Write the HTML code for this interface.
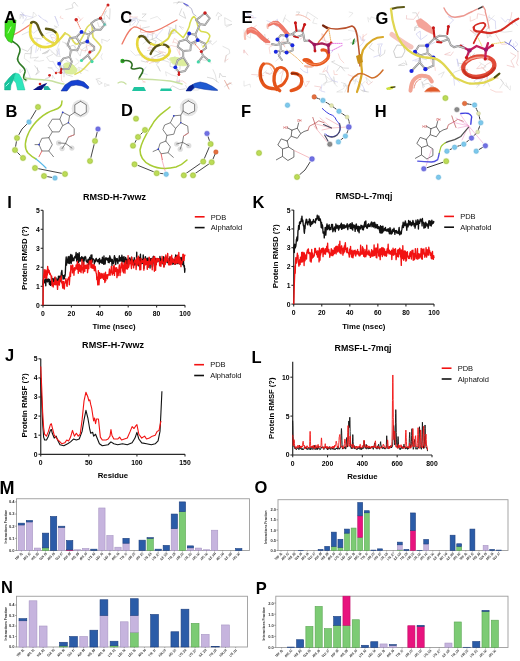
<!DOCTYPE html><html><head><meta charset="utf-8"><style>html,body{margin:0;padding:0;background:#fff;}svg{display:block;filter:blur(0.35px);}text{font-family:"Liberation Sans", sans-serif;}</style></head><body>
<svg width="520" height="661" viewBox="0 0 520 661">
<rect width="520" height="661" fill="#fff"/>
<path d="M45.6,78.5 L49.9,77.1 L43.6,80.4" fill="none" stroke="#c4c4c4" stroke-width="0.6" stroke-linecap="round" stroke-linejoin="round" opacity="0.8"/>
<path d="M40.5,50.5 L40.6,44.8 L37.3,50.9" fill="none" stroke="#c4c4c4" stroke-width="0.6" stroke-linecap="round" stroke-linejoin="round" opacity="0.8"/>
<path d="M35.2,43.7 L31.9,46.0 L31.3,52.8 L30.3,58.1 L38.1,57.2" fill="none" stroke="#c4c4c4" stroke-width="0.6" stroke-linecap="round" stroke-linejoin="round" opacity="0.8"/>
<path d="M56.2,49.9 L60.4,56.5 L56.9,56.2 L51.9,51.3 L46.2,46.4" fill="none" stroke="#cfcfcf" stroke-width="0.6" stroke-linecap="round" stroke-linejoin="round" opacity="0.8"/>
<path d="M22.0,49.0 L27.7,51.4 L31.3,46.6 L30.8,53.8 L25.3,53.5" fill="none" stroke="#b4b4b4" stroke-width="0.6" stroke-linecap="round" stroke-linejoin="round" opacity="0.8"/>
<path d="M57.7,22.4 L54.8,16.0 L57.3,22.6 L58.6,25.7" fill="none" stroke="#c0c0e8" stroke-width="0.6" stroke-linecap="round" stroke-linejoin="round" opacity="0.8"/>
<path d="M62.8,72.3 L58.5,73.1 L64.7,73.3 L63.3,66.3 L62.5,70.3" fill="none" stroke="#c0c0e8" stroke-width="0.6" stroke-linecap="round" stroke-linejoin="round" opacity="0.8"/>
<path d="M52.0,68.4 L55.1,72.7 L59.2,69.6 L56.5,67.9 L53.0,61.2" fill="none" stroke="#c0c0e8" stroke-width="0.6" stroke-linecap="round" stroke-linejoin="round" opacity="0.8"/>
<path d="M61.3,74.0 L61.5,80.8 L63.2,82.0" fill="none" stroke="#f0b4ac" stroke-width="0.6" stroke-linecap="round" stroke-linejoin="round" opacity="0.8"/>
<path d="M23.1,69.8 L20.0,73.0 L20.0,69.4 L20.0,71.2" fill="none" stroke="#c4c4c4" stroke-width="0.6" stroke-linecap="round" stroke-linejoin="round" opacity="0.8"/>
<path d="M33.1,41.5 L29.8,37.8 L28.9,31.6 L22.2,34.7" fill="none" stroke="#c4c4c4" stroke-width="0.6" stroke-linecap="round" stroke-linejoin="round" opacity="0.8"/>
<path d="M51.6,68.7 L47.8,67.6 L52.0,67.5" fill="none" stroke="#cfcfcf" stroke-width="0.6" stroke-linecap="round" stroke-linejoin="round" opacity="0.8"/>
<path d="M32.8,17.1 L33.4,12.0 L36.7,15.5 L31.2,18.5 L25.5,20.2" fill="none" stroke="#cfcfcf" stroke-width="0.6" stroke-linecap="round" stroke-linejoin="round" opacity="0.8"/>
<path d="M62.0,62.9 L57.4,64.4 L60.5,66.9 L59.5,71.4" fill="none" stroke="#cfcfcf" stroke-width="0.6" stroke-linecap="round" stroke-linejoin="round" opacity="0.8"/>
<path d="M35.7,52.4 L36.7,45.5 L37.1,39.5" fill="none" stroke="#c0c0e8" stroke-width="0.6" stroke-linecap="round" stroke-linejoin="round" opacity="0.8"/>
<path d="M65.9,60.3 L70.0,62.8 L70.0,66.4 L63.1,66.1" fill="none" stroke="#b4b4b4" stroke-width="0.6" stroke-linecap="round" stroke-linejoin="round" opacity="0.8"/>
<path d="M34.8,65.8 L39.4,72.1 L35.7,74.7 L37.8,71.7 L37.4,67.8" fill="none" stroke="#b4b4b4" stroke-width="0.6" stroke-linecap="round" stroke-linejoin="round" opacity="0.8"/>
<path d="M39.6,28.2 L33.6,33.2 L29.0,28.7" fill="none" stroke="#c0c0e8" stroke-width="0.6" stroke-linecap="round" stroke-linejoin="round" opacity="0.8"/>
<path d="M46.1,33.6 L49.8,32.2 L56.6,31.7" fill="none" stroke="#cfcfcf" stroke-width="0.6" stroke-linecap="round" stroke-linejoin="round" opacity="0.8"/>
<path d="M38.0,56.9 L33.9,60.6 L39.4,61.2 L43.7,60.4" fill="none" stroke="#cfcfcf" stroke-width="0.6" stroke-linecap="round" stroke-linejoin="round" opacity="0.8"/>
<path d="M57.4,43.0 L60.0,41.3 L57.3,48.8 L56.8,56.0 L51.2,51.7" fill="none" stroke="#cfcfcf" stroke-width="0.6" stroke-linecap="round" stroke-linejoin="round" opacity="0.8"/>
<path d="M51.5,37.4 L56.7,38.3 L52.9,42.1 L55.8,45.1 L51.2,43.2" fill="none" stroke="#f0b4ac" stroke-width="0.6" stroke-linecap="round" stroke-linejoin="round" opacity="0.8"/>
<path d="M59.6,54.4 L58.9,48.4 L57.3,55.1" fill="none" stroke="#c0c0e8" stroke-width="0.6" stroke-linecap="round" stroke-linejoin="round" opacity="0.8"/>
<path d="M32.6,17.3 L25.9,15.6 L20.0,14.4 L23.8,15.3 L21.2,12.0" fill="none" stroke="#c0c0e8" stroke-width="0.6" stroke-linecap="round" stroke-linejoin="round" opacity="0.8"/>
<path d="M27.9,78.6 L24.2,78.4 L23.3,74.1 L25.5,76.5 L27.3,80.0" fill="none" stroke="#c4c4c4" stroke-width="0.6" stroke-linecap="round" stroke-linejoin="round" opacity="0.8"/>
<path d="M46.8,43.6 L53.5,41.6 L50.1,35.2 L53.0,34.1 L56.6,37.3" fill="none" stroke="#c0c0e8" stroke-width="0.6" stroke-linecap="round" stroke-linejoin="round" opacity="0.8"/>
<path d="M24.7,54.0 L24.3,58.4 L29.8,62.3" fill="none" stroke="#cfcfcf" stroke-width="0.6" stroke-linecap="round" stroke-linejoin="round" opacity="0.8"/>
<path d="M52.5,54.5 L46.7,57.2 L49.5,61.3 L52.8,61.7" fill="none" stroke="#c4c4c4" stroke-width="0.6" stroke-linecap="round" stroke-linejoin="round" opacity="0.8"/>
<path d="M30.8,41.0 L34.3,38.0 L41.3,38.9" fill="none" stroke="#b4b4b4" stroke-width="0.6" stroke-linecap="round" stroke-linejoin="round" opacity="0.8"/>
<path d="M23.1,18.5 L23.2,13.8 L26.5,17.5 L22.6,23.7" fill="none" stroke="#c0c0e8" stroke-width="0.6" stroke-linecap="round" stroke-linejoin="round" opacity="0.8"/>
<path d="M40.9,17.7 L38.4,15.3 L42.4,18.7 L47.6,22.1 L45.2,20.0" fill="none" stroke="#c0c0e8" stroke-width="0.6" stroke-linecap="round" stroke-linejoin="round" opacity="0.8"/>
<path d="M60.4,67.1 L57.3,61.4 L58.9,64.1 L66.0,67.2" fill="none" stroke="#c0c0e8" stroke-width="0.6" stroke-linecap="round" stroke-linejoin="round" opacity="0.8"/>
<path d="M52.3,78.3 L52.4,75.0 L54.6,78.7" fill="none" stroke="#cfcfcf" stroke-width="0.6" stroke-linecap="round" stroke-linejoin="round" opacity="0.8"/>
<path d="M47.5,51.0 L42.3,53.7 L47.5,52.6 L49.2,49.8 L44.8,53.6" fill="none" stroke="#b4b4b4" stroke-width="0.6" stroke-linecap="round" stroke-linejoin="round" opacity="0.8"/>
<path d="M51.0,29.5 L56.9,27.5 L54.1,25.8 L57.9,27.1" fill="none" stroke="#cfcfcf" stroke-width="0.6" stroke-linecap="round" stroke-linejoin="round" opacity="0.8"/>
<path d="M26.9,80.9 L24.7,82.0 L22.6,79.5" fill="none" stroke="#c4c4c4" stroke-width="0.6" stroke-linecap="round" stroke-linejoin="round" opacity="0.8"/>
<path d="M23.4,17.6 L20.0,14.4 L20.0,18.7 L23.0,12.7" fill="none" stroke="#cfcfcf" stroke-width="0.6" stroke-linecap="round" stroke-linejoin="round" opacity="0.8"/>
<path d="M26.3,68.4 L29.0,74.0 L30.4,77.9 L24.8,78.2" fill="none" stroke="#c0c0e8" stroke-width="0.6" stroke-linecap="round" stroke-linejoin="round" opacity="0.8"/>
<path d="M66.4,45.9 L70.1,46.6 L73.1,45.1 L78.4,50.8" fill="none" stroke="#b4b4b4" stroke-width="0.6" stroke-linecap="round" stroke-linejoin="round" opacity="0.8"/>
<path d="M91.1,34.5 L88.8,30.7 L93.3,36.0" fill="none" stroke="#b4b4b4" stroke-width="0.6" stroke-linecap="round" stroke-linejoin="round" opacity="0.8"/>
<path d="M93.5,47.1 L86.0,44.7 L87.6,50.2 L82.9,50.7 L79.4,48.4" fill="none" stroke="#f0b4ac" stroke-width="0.6" stroke-linecap="round" stroke-linejoin="round" opacity="0.8"/>
<path d="M100.1,78.3 L95.8,79.2 L102.3,83.0 L98.9,84.6 L97.1,81.0" fill="none" stroke="#c4c4c4" stroke-width="0.6" stroke-linecap="round" stroke-linejoin="round" opacity="0.8"/>
<path d="M105.1,21.1 L106.5,25.6 L99.1,27.1 L97.6,22.6" fill="none" stroke="#c4c4c4" stroke-width="0.6" stroke-linecap="round" stroke-linejoin="round" opacity="0.8"/>
<path d="M60.8,16.1 L60.0,17.7 L63.0,18.7" fill="none" stroke="#f0b4ac" stroke-width="0.6" stroke-linecap="round" stroke-linejoin="round" opacity="0.8"/>
<path d="M102.3,53.7 L100.9,56.9 L102.3,59.6" fill="none" stroke="#cfcfcf" stroke-width="0.6" stroke-linecap="round" stroke-linejoin="round" opacity="0.8"/>
<path d="M102.0,43.0 L101.7,39.1 L107.2,41.3 L109.7,39.4" fill="none" stroke="#c4c4c4" stroke-width="0.6" stroke-linecap="round" stroke-linejoin="round" opacity="0.8"/>
<path d="M100.3,18.7 L104.7,19.2 L103.9,13.8 L106.4,10.6 L104.7,14.5" fill="none" stroke="#c4c4c4" stroke-width="0.6" stroke-linecap="round" stroke-linejoin="round" opacity="0.8"/>
<path d="M108.9,84.8 L104.7,86.6 L104.6,83.4 L109.2,85.5" fill="none" stroke="#cfcfcf" stroke-width="0.6" stroke-linecap="round" stroke-linejoin="round" opacity="0.8"/>
<path d="M72.3,76.4 L66.2,74.6 L63.8,68.1" fill="none" stroke="#b4b4b4" stroke-width="0.6" stroke-linecap="round" stroke-linejoin="round" opacity="0.8"/>
<path d="M106.4,15.2 L109.6,19.3 L110.0,12.0 L110.0,8.8" fill="none" stroke="#b4b4b4" stroke-width="0.6" stroke-linecap="round" stroke-linejoin="round" opacity="0.8"/>
<path d="M78.0,16.3 L80.6,19.7 L78.5,22.3 L82.8,17.8" fill="none" stroke="#f0b4ac" stroke-width="0.6" stroke-linecap="round" stroke-linejoin="round" opacity="0.8"/>
<path d="M68.0,45.8 L64.8,43.2 L68.3,44.0 L62.5,41.9" fill="none" stroke="#c4c4c4" stroke-width="0.6" stroke-linecap="round" stroke-linejoin="round" opacity="0.8"/>
<path d="M76.2,58.6 L79.4,62.0 L73.4,66.6" fill="none" stroke="#cfcfcf" stroke-width="0.6" stroke-linecap="round" stroke-linejoin="round" opacity="0.8"/>
<path d="M65.8,9.6 L73.1,7.9 L72.1,4.7 L74.3,2.0 L77.6,6.2" fill="none" stroke="#b4b4b4" stroke-width="0.6" stroke-linecap="round" stroke-linejoin="round" opacity="0.8"/>
<path d="M62.5,72.6 L64.8,66.2 L64.0,73.1 L64.0,76.8" fill="none" stroke="#b4b4b4" stroke-width="0.6" stroke-linecap="round" stroke-linejoin="round" opacity="0.8"/>
<path d="M79.5,45.8 L74.8,42.1 L75.2,48.2 L71.0,53.4" fill="none" stroke="#cfcfcf" stroke-width="0.6" stroke-linecap="round" stroke-linejoin="round" opacity="0.8"/>
<path d="M74.5,72.3 L68.5,70.2 L64.2,69.7 L67.7,69.3" fill="none" stroke="#cfcfcf" stroke-width="0.6" stroke-linecap="round" stroke-linejoin="round" opacity="0.8"/>
<path d="M76.2,50.3 L80.2,56.1 L81.5,50.1 L87.0,46.1 L85.1,52.1" fill="none" stroke="#c4c4c4" stroke-width="0.6" stroke-linecap="round" stroke-linejoin="round" opacity="0.8"/>
<path d="M77.0,68.0 L81.2,74.0 L78.8,67.8" fill="none" stroke="#cfcfcf" stroke-width="0.6" stroke-linecap="round" stroke-linejoin="round" opacity="0.8"/>
<path d="M88.0,70.9 L84.9,69.6 L78.3,67.2" fill="none" stroke="#cfcfcf" stroke-width="0.6" stroke-linecap="round" stroke-linejoin="round" opacity="0.8"/>
<path d="M13,35 C18,33 24,29 31,24" fill="none" stroke="#f08070" stroke-width="1.2" stroke-linecap="round" stroke-linejoin="round" />
<path d="M12,41 C16,44 20,45 20,50 C20,55 16,57 18,61 C20,66 26,67 25,72 C24,76 22,78 26,80" fill="none" stroke="#2e7a25" stroke-width="1.6" stroke-linecap="round" stroke-linejoin="round" />
<path d="M25,78 C33,80 42,79 52,81 C56,82 60,84 64,84" fill="none" stroke="#c8e0a0" stroke-width="1.6" stroke-linecap="round" stroke-linejoin="round" />
<polygon points="5.0,21.0 16.0,20.0 15.0,30.0 13.0,38.0 12.0,43.0 8.0,41.0 5.0,36.0" fill="#3ee01c" stroke="#2a9a14" stroke-width="0.6" />
<path d="M8,33 L11,27" fill="none" stroke="#c0ffb0" stroke-width="1.0" stroke-linecap="round" stroke-linejoin="round" />
<path d="M31.2,22.8 C29.5,30 30,38 34,42 C38,46 43,47.5 47,47 C52,46.5 56,44 57.5,40 C58.5,36 57.5,34 55.5,32.3" fill="none" stroke="#e8da3c" stroke-width="2.6" stroke-linecap="round" stroke-linejoin="round" />
<path d="M55.5,32.3 C53.5,30 51,29.3 46,28.8" fill="none" stroke="#5c5818" stroke-width="2.4" stroke-linecap="round" stroke-linejoin="round" />
<path d="M31.2,22.8 C33,21 36,22 37.5,25 C39,29 40,33 43.4,36.6" fill="none" stroke="#5c5818" stroke-width="2.4" stroke-linecap="round" stroke-linejoin="round" />
<path d="M43.4,36.6 C46,39.5 50,42.5 55.5,43.5 C59,41 62,37 65,33.2" fill="none" stroke="#e4d848" stroke-width="2.2" stroke-linecap="round" stroke-linejoin="round" />
<path d="M65,33.2 C68,34 70,36 72,39 C74,43 76,45 78.3,43.6 C81,40 83,36 84.6,33 C86,28 88,25 91.5,24 C93,28 92,33 93.1,37.2 C95,40 99,43 101,46.7 C101,50 98,54 95.2,57.3 C92,60 88,64 84.6,68 C82,71 79,73 75,74.3" fill="none" stroke="#dedc62" stroke-width="1.7" stroke-linecap="round" stroke-linejoin="round" />
<path d="M64,64 C68,61 74,64 77,70 C77,74 71,75 66,73 Z" fill="#dcee9c" stroke="#d8ec98" stroke-width="1.0" stroke-linecap="round" stroke-linejoin="round" />
<polygon points="4.6,90.0 4.6,83.5 9.0,78.0 13.0,74.0 15.5,73.0 13.5,80.0 11.0,85.0 10.5,90.0" fill="#16c49c" stroke="#10a080" stroke-width="0.4" />
<polygon points="15.5,73.0 19.0,74.0 22.0,79.0 25.0,90.0 17.5,90.0 16.0,83.0 13.5,80.0" fill="#2ee6bc" stroke="#18b894" stroke-width="0.4" />
<path d="M6,86 L9,83" fill="none" stroke="#b8fff0" stroke-width="0.9" stroke-linecap="round" stroke-linejoin="round" />
<polygon points="32.9,90.0 38.0,86.5 44.0,84.0 47.3,82.8 45.0,86.0 41.5,90.0" fill="#0a1480" stroke="none" stroke-width="0" />
<polygon points="43.8,86.2 48.0,86.0 51.0,90.0 44.0,90.0" fill="#28b0a0" stroke="none" stroke-width="0" />
<circle cx="49.6" cy="75.3" r="1.4" fill="#cc2020"/>
<polygon points="61.0,91.0 65.0,85.0 71.0,81.0 78.0,80.0 84.0,82.0 89.0,87.0 88.0,89.0 82.0,86.0 76.0,85.0 71.0,86.0 67.0,91.0" fill="#1642d2" stroke="#0c2a90" stroke-width="0.5" />
<path d="M91.0,23.5 L95.2,20.3 L100.5,18.2 L104.7,24.5 L100.5,29.8 L95.2,29.8 Z" fill="none" stroke="#8c8c8c" stroke-width="1.9" stroke-linecap="round" stroke-linejoin="round" />
<path d="M81.5,31.9 L88.9,34.6 L87.3,41.5 L80.4,43.6 L76.2,37.2 Z" fill="none" stroke="#8c8c8c" stroke-width="1.9" stroke-linecap="round" stroke-linejoin="round" />
<path d="M76.2,37.2 L69.8,38.3 L67.7,44.6 L70.9,49.9 L77.2,50.4 L80.4,43.6 Z" fill="none" stroke="#8c8c8c" stroke-width="1.9" stroke-linecap="round" stroke-linejoin="round" />
<path d="M70.9,49.9 L69.8,56.8" fill="none" stroke="#8c8c8c" stroke-width="1.9" stroke-linecap="round" stroke-linejoin="round" />
<path d="M69.8,56.8 L63.5,58.4 L59.2,63.7 L61.3,69.0 L68.8,69.0 L71.9,61.6 Z" fill="none" stroke="#8c8c8c" stroke-width="1.9" stroke-linecap="round" stroke-linejoin="round" />
<path d="M87.3,41.5 L94.2,46.7 L94.2,49.9 L89.9,52.0 L87.8,55.2" fill="none" stroke="#8c8c8c" stroke-width="1.9" stroke-linecap="round" stroke-linejoin="round" />
<path d="M87.8,55.2 L81.5,60.5" fill="none" stroke="#8c8c8c" stroke-width="1.9" stroke-linecap="round" stroke-linejoin="round" />
<path d="M87.8,55.2 L92.0,61.6" fill="none" stroke="#8c8c8c" stroke-width="1.9" stroke-linecap="round" stroke-linejoin="round" />
<path d="M88.9,34.6 L95.2,29.8" fill="none" stroke="#8c8c8c" stroke-width="1.9" stroke-linecap="round" stroke-linejoin="round" />
<path d="M91.0,23.5 L95.2,20.3 L100.5,18.2 L104.7,24.5 L100.5,29.8 L95.2,29.8 Z" fill="none" stroke="#dadada" stroke-width="0.7" stroke-linecap="round" stroke-linejoin="round" />
<path d="M81.5,31.9 L88.9,34.6 L87.3,41.5 L80.4,43.6 L76.2,37.2 Z" fill="none" stroke="#dadada" stroke-width="0.7" stroke-linecap="round" stroke-linejoin="round" />
<path d="M76.2,37.2 L69.8,38.3 L67.7,44.6 L70.9,49.9 L77.2,50.4 L80.4,43.6 Z" fill="none" stroke="#dadada" stroke-width="0.7" stroke-linecap="round" stroke-linejoin="round" />
<path d="M70.9,49.9 L69.8,56.8" fill="none" stroke="#dadada" stroke-width="0.7" stroke-linecap="round" stroke-linejoin="round" />
<path d="M69.8,56.8 L63.5,58.4 L59.2,63.7 L61.3,69.0 L68.8,69.0 L71.9,61.6 Z" fill="none" stroke="#dadada" stroke-width="0.7" stroke-linecap="round" stroke-linejoin="round" />
<path d="M87.3,41.5 L94.2,46.7 L94.2,49.9 L89.9,52.0 L87.8,55.2" fill="none" stroke="#dadada" stroke-width="0.7" stroke-linecap="round" stroke-linejoin="round" />
<path d="M87.8,55.2 L81.5,60.5" fill="none" stroke="#dadada" stroke-width="0.7" stroke-linecap="round" stroke-linejoin="round" />
<path d="M87.8,55.2 L92.0,61.6" fill="none" stroke="#dadada" stroke-width="0.7" stroke-linecap="round" stroke-linejoin="round" />
<path d="M88.9,34.6 L95.2,29.8" fill="none" stroke="#dadada" stroke-width="0.7" stroke-linecap="round" stroke-linejoin="round" />
<path d="M61.3,69.0 L60.8,72.7" fill="none" stroke="#cc1818" stroke-width="1.9" stroke-linecap="round" stroke-linejoin="round" />
<circle cx="60.8" cy="72.7" r="1.4" fill="#cc1818"/>
<circle cx="81.5" cy="31.9" r="1.9" fill="#1428e0"/>
<circle cx="87.3" cy="41.5" r="1.9" fill="#1428e0"/>
<circle cx="59.2" cy="63.7" r="1.9" fill="#1428e0"/>
<circle cx="81.5" cy="60.5" r="1.6" fill="#44d8a8"/>
<circle cx="92.0" cy="61.6" r="1.6" fill="#44d8a8"/>
<circle cx="89.9" cy="52.0" r="1.5" fill="#cc2020"/>
<circle cx="100.5" cy="18.2" r="1.6" fill="#b01010"/>
<circle cx="104.7" cy="24.5" r="1.3" fill="#60c0b0"/>
<circle cx="76.2" cy="19.8" r="1.7" fill="#cc2020"/>
<circle cx="108.0" cy="5.0" r="1.5" fill="#cc2020"/>
<circle cx="40.0" cy="84.0" r="1.3" fill="#cc2020"/>
<circle cx="56.0" cy="73.0" r="1.2" fill="#cc2020"/>
<path d="M76.2,19.8 L80.4,28.8 M100.5,18.2 L107,6 M56,73 L60,72" fill="none" stroke="#ee6040" stroke-width="0.7" stroke-linecap="round" stroke-linejoin="round" stroke-dasharray="1.2,1"/>
<path d="M143.1,34.3 L148.1,37.6 L147.6,33.7 L151.7,35.2" fill="none" stroke="#c0c0e8" stroke-width="0.6" stroke-linecap="round" stroke-linejoin="round" opacity="0.8"/>
<path d="M162.9,52.2 L157.1,54.8 L151.6,57.7" fill="none" stroke="#c4c4c4" stroke-width="0.6" stroke-linecap="round" stroke-linejoin="round" opacity="0.8"/>
<path d="M178.4,60.4 L180.0,64.8 L172.6,64.3 L173.3,59.8" fill="none" stroke="#cfcfcf" stroke-width="0.6" stroke-linecap="round" stroke-linejoin="round" opacity="0.8"/>
<path d="M176.2,46.0 L179.0,48.2 L180.0,55.3 L176.9,48.8" fill="none" stroke="#f0b4ac" stroke-width="0.6" stroke-linecap="round" stroke-linejoin="round" opacity="0.8"/>
<path d="M162.2,41.6 L156.1,37.6 L149.2,40.4 L143.8,35.7" fill="none" stroke="#b4b4b4" stroke-width="0.6" stroke-linecap="round" stroke-linejoin="round" opacity="0.8"/>
<path d="M154.9,61.1 L150.9,60.5 L153.4,62.4 L151.9,57.4" fill="none" stroke="#cfcfcf" stroke-width="0.6" stroke-linecap="round" stroke-linejoin="round" opacity="0.8"/>
<path d="M174.9,70.8 L180.0,69.8 L180.0,64.8 L180.0,68.4" fill="none" stroke="#cfcfcf" stroke-width="0.6" stroke-linecap="round" stroke-linejoin="round" opacity="0.8"/>
<path d="M139.1,55.1 L146.2,56.0 L150.4,59.0" fill="none" stroke="#c4c4c4" stroke-width="0.6" stroke-linecap="round" stroke-linejoin="round" opacity="0.8"/>
<path d="M154.4,56.2 L160.7,53.6 L155.2,50.8 L147.4,50.5" fill="none" stroke="#b4b4b4" stroke-width="0.6" stroke-linecap="round" stroke-linejoin="round" opacity="0.8"/>
<path d="M141.3,60.9 L145.7,62.0 L151.9,59.0 L156.3,59.3 L163.5,59.8" fill="none" stroke="#b4b4b4" stroke-width="0.6" stroke-linecap="round" stroke-linejoin="round" opacity="0.8"/>
<path d="M135.5,17.9 L131.2,19.4 L135.9,20.9 L132.2,25.1" fill="none" stroke="#c0c0e8" stroke-width="0.6" stroke-linecap="round" stroke-linejoin="round" opacity="0.8"/>
<path d="M130.3,24.1 L130.0,25.7 L130.0,22.8 L136.6,18.6 L140.4,20.1" fill="none" stroke="#cfcfcf" stroke-width="0.6" stroke-linecap="round" stroke-linejoin="round" opacity="0.8"/>
<path d="M158.2,66.4 L160.3,71.3 L156.6,64.7 L161.3,59.5 L168.7,62.1" fill="none" stroke="#c4c4c4" stroke-width="0.6" stroke-linecap="round" stroke-linejoin="round" opacity="0.8"/>
<path d="M160.7,19.9 L157.2,16.5 L150.5,18.8" fill="none" stroke="#cfcfcf" stroke-width="0.6" stroke-linecap="round" stroke-linejoin="round" opacity="0.8"/>
<path d="M171.2,51.2 L164.7,55.6 L158.5,50.8 L165.6,52.8" fill="none" stroke="#f0b4ac" stroke-width="0.6" stroke-linecap="round" stroke-linejoin="round" opacity="0.8"/>
<path d="M158.0,62.5 L153.7,61.2 L156.1,63.0 L161.4,59.5" fill="none" stroke="#c4c4c4" stroke-width="0.6" stroke-linecap="round" stroke-linejoin="round" opacity="0.8"/>
<path d="M140.3,31.5 L141.7,28.3 L149.3,26.7" fill="none" stroke="#b4b4b4" stroke-width="0.6" stroke-linecap="round" stroke-linejoin="round" opacity="0.8"/>
<path d="M142.2,57.6 L141.1,54.3 L135.3,55.4 L130.8,50.8" fill="none" stroke="#cfcfcf" stroke-width="0.6" stroke-linecap="round" stroke-linejoin="round" opacity="0.8"/>
<path d="M174.6,30.4 L170.1,34.1 L176.4,32.5 L175.8,24.7 L175.4,28.9" fill="none" stroke="#c4c4c4" stroke-width="0.6" stroke-linecap="round" stroke-linejoin="round" opacity="0.8"/>
<path d="M151.1,34.1 L154.7,33.0 L148.4,32.2 L140.8,32.6 L140.2,25.2" fill="none" stroke="#f0b4ac" stroke-width="0.6" stroke-linecap="round" stroke-linejoin="round" opacity="0.8"/>
<path d="M135.6,27.3 L139.3,20.4 L146.2,21.1" fill="none" stroke="#c4c4c4" stroke-width="0.6" stroke-linecap="round" stroke-linejoin="round" opacity="0.8"/>
<path d="M166.4,75.8 L165.5,71.7 L171.4,74.8 L177.7,76.5 L176.6,81.8" fill="none" stroke="#cfcfcf" stroke-width="0.6" stroke-linecap="round" stroke-linejoin="round" opacity="0.8"/>
<path d="M174.6,30.6 L172.2,33.7 L168.3,34.3 L170.1,28.5 L168.5,36.2" fill="none" stroke="#b4b4b4" stroke-width="0.6" stroke-linecap="round" stroke-linejoin="round" opacity="0.8"/>
<path d="M147.3,59.6 L147.0,62.7 L153.0,57.8 L154.9,61.1 L149.4,63.6" fill="none" stroke="#f0b4ac" stroke-width="0.6" stroke-linecap="round" stroke-linejoin="round" opacity="0.8"/>
<path d="M179.4,79.5 L179.6,82.0 L175.8,82.0 L179.3,82.0 L177.1,82.0" fill="none" stroke="#c0c0e8" stroke-width="0.6" stroke-linecap="round" stroke-linejoin="round" opacity="0.8"/>
<path d="M137.5,17.0 L133.3,17.2 L130.0,16.4 L130.0,14.0 L130.0,19.0" fill="none" stroke="#f0b4ac" stroke-width="0.6" stroke-linecap="round" stroke-linejoin="round" opacity="0.8"/>
<path d="M140.9,77.9 L143.3,81.5 L145.4,82.0 L142.9,82.0" fill="none" stroke="#f0b4ac" stroke-width="0.6" stroke-linecap="round" stroke-linejoin="round" opacity="0.8"/>
<path d="M152.9,32.8 L152.1,39.5 L156.3,41.1 L154.5,44.6" fill="none" stroke="#b4b4b4" stroke-width="0.6" stroke-linecap="round" stroke-linejoin="round" opacity="0.8"/>
<path d="M166.9,26.3 L173.3,28.6 L169.1,33.4 L169.8,36.4" fill="none" stroke="#cfcfcf" stroke-width="0.6" stroke-linecap="round" stroke-linejoin="round" opacity="0.8"/>
<path d="M146.1,67.0 L141.9,72.9 L147.2,74.6" fill="none" stroke="#c0c0e8" stroke-width="0.6" stroke-linecap="round" stroke-linejoin="round" opacity="0.8"/>
<path d="M142.9,43.9 L146.4,41.1 L149.7,39.9" fill="none" stroke="#cfcfcf" stroke-width="0.6" stroke-linecap="round" stroke-linejoin="round" opacity="0.8"/>
<path d="M151.5,44.2 L148.4,48.7 L152.5,50.6 L152.0,47.1 L147.9,48.1" fill="none" stroke="#f0b4ac" stroke-width="0.6" stroke-linecap="round" stroke-linejoin="round" opacity="0.8"/>
<path d="M138.3,22.2 L136.4,17.7 L131.2,21.9 L130.0,17.3" fill="none" stroke="#c0c0e8" stroke-width="0.6" stroke-linecap="round" stroke-linejoin="round" opacity="0.8"/>
<path d="M176.0,46.8 L171.6,45.5 L165.3,47.4" fill="none" stroke="#f0b4ac" stroke-width="0.6" stroke-linecap="round" stroke-linejoin="round" opacity="0.8"/>
<path d="M157.6,57.0 L164.2,55.0 L169.0,60.2 L175.2,56.7 L172.5,60.7" fill="none" stroke="#b4b4b4" stroke-width="0.6" stroke-linecap="round" stroke-linejoin="round" opacity="0.8"/>
<path d="M142.2,17.8 L146.2,14.0 L142.4,14.0" fill="none" stroke="#b4b4b4" stroke-width="0.6" stroke-linecap="round" stroke-linejoin="round" opacity="0.8"/>
<path d="M163.0,29.2 L157.9,34.7 L156.3,37.8 L155.9,34.3" fill="none" stroke="#c0c0e8" stroke-width="0.6" stroke-linecap="round" stroke-linejoin="round" opacity="0.8"/>
<path d="M173.5,42.0 L178.9,43.9 L177.3,40.6 L174.4,38.3 L172.8,42.8" fill="none" stroke="#f0b4ac" stroke-width="0.6" stroke-linecap="round" stroke-linejoin="round" opacity="0.8"/>
<path d="M185.6,85.3 L187.6,89.6 L188.4,90.0" fill="none" stroke="#c4c4c4" stroke-width="0.6" stroke-linecap="round" stroke-linejoin="round" opacity="0.8"/>
<path d="M177.1,80.9 L182.8,81.0 L186.2,83.6" fill="none" stroke="#f0b4ac" stroke-width="0.6" stroke-linecap="round" stroke-linejoin="round" opacity="0.8"/>
<path d="M195.8,41.9 L199.7,40.0 L202.1,45.9 L209.3,43.4 L211.7,41.1" fill="none" stroke="#cfcfcf" stroke-width="0.6" stroke-linecap="round" stroke-linejoin="round" opacity="0.8"/>
<path d="M228.1,59.1 L224.6,61.4 L226.3,55.3" fill="none" stroke="#f0b4ac" stroke-width="0.6" stroke-linecap="round" stroke-linejoin="round" opacity="0.8"/>
<path d="M218.3,19.7 L218.6,16.6 L222.0,15.4 L217.9,12.4 L216.2,15.8" fill="none" stroke="#c4c4c4" stroke-width="0.6" stroke-linecap="round" stroke-linejoin="round" opacity="0.8"/>
<path d="M218.4,82.5 L213.1,78.6 L207.4,77.3" fill="none" stroke="#b4b4b4" stroke-width="0.6" stroke-linecap="round" stroke-linejoin="round" opacity="0.8"/>
<path d="M226.2,26.9 L232.0,24.3 L225.1,25.4 L224.7,17.7 L231.3,21.3" fill="none" stroke="#c4c4c4" stroke-width="0.6" stroke-linecap="round" stroke-linejoin="round" opacity="0.8"/>
<path d="M201.0,41.5 L197.2,38.0 L195.2,45.4 L196.7,42.2 L191.1,46.0" fill="none" stroke="#b4b4b4" stroke-width="0.6" stroke-linecap="round" stroke-linejoin="round" opacity="0.8"/>
<path d="M224.5,86.7 L229.5,82.6 L232.0,84.3" fill="none" stroke="#c4c4c4" stroke-width="0.6" stroke-linecap="round" stroke-linejoin="round" opacity="0.8"/>
<path d="M181.7,8.8 L179.3,14.8 L185.7,18.4 L183.4,11.9" fill="none" stroke="#b4b4b4" stroke-width="0.6" stroke-linecap="round" stroke-linejoin="round" opacity="0.8"/>
<path d="M207.6,42.3 L211.1,41.0 L207.5,40.5 L212.5,44.6 L216.6,41.1" fill="none" stroke="#c4c4c4" stroke-width="0.6" stroke-linecap="round" stroke-linejoin="round" opacity="0.8"/>
<path d="M219.3,77.6 L220.0,73.2 L222.3,76.4 L225.6,76.6" fill="none" stroke="#b4b4b4" stroke-width="0.6" stroke-linecap="round" stroke-linejoin="round" opacity="0.8"/>
<path d="M216.6,81.5 L215.3,74.7 L213.0,69.7" fill="none" stroke="#c4c4c4" stroke-width="0.6" stroke-linecap="round" stroke-linejoin="round" opacity="0.8"/>
<path d="M200.1,63.1 L200.2,59.2 L207.6,60.9 L211.0,63.0" fill="none" stroke="#c4c4c4" stroke-width="0.6" stroke-linecap="round" stroke-linejoin="round" opacity="0.8"/>
<path d="M173.5,2.9 L179.2,2.0 L176.7,3.7 L179.2,2.0" fill="none" stroke="#c4c4c4" stroke-width="0.6" stroke-linecap="round" stroke-linejoin="round" opacity="0.8"/>
<path d="M222.9,46.4 L229.2,49.5 L229.8,53.2 L226.2,55.5 L225.0,62.4" fill="none" stroke="#c4c4c4" stroke-width="0.6" stroke-linecap="round" stroke-linejoin="round" opacity="0.8"/>
<path d="M199.1,89.6 L197.1,90.0 L190.8,90.0" fill="none" stroke="#c4c4c4" stroke-width="0.6" stroke-linecap="round" stroke-linejoin="round" opacity="0.8"/>
<path d="M196.9,37.7 L194.6,43.0 L191.7,41.7 L195.1,44.2" fill="none" stroke="#f0b4ac" stroke-width="0.6" stroke-linecap="round" stroke-linejoin="round" opacity="0.8"/>
<path d="M170.2,62.1 L170.0,66.4 L174.8,67.7 L176.6,65.0 L172.9,59.7" fill="none" stroke="#b4b4b4" stroke-width="0.6" stroke-linecap="round" stroke-linejoin="round" opacity="0.8"/>
<path d="M183.6,28.0 L179.2,26.1 L182.2,29.3" fill="none" stroke="#c4c4c4" stroke-width="0.6" stroke-linecap="round" stroke-linejoin="round" opacity="0.8"/>
<path d="M185.2,88.8 L179.8,89.6 L172.7,85.9 L170.3,88.1" fill="none" stroke="#b4b4b4" stroke-width="0.6" stroke-linecap="round" stroke-linejoin="round" opacity="0.8"/>
<path d="M181.4,2.7 L178.0,2.0 L182.0,2.0 L187.1,6.9 L182.9,2.0" fill="none" stroke="#c4c4c4" stroke-width="0.6" stroke-linecap="round" stroke-linejoin="round" opacity="0.8"/>
<path d="M122,44 C126,36 129,29 134,27 C139,26 142,32 150,32 C158,32 165,26 177,20" fill="none" stroke="#ee7a68" stroke-width="1.3" stroke-linecap="round" stroke-linejoin="round" />
<path d="M139.4,36.7 C137,39 137,44 137.6,47 C138.5,51 140,54 145,57.8 C148,60 152,60.5 157,60.4 C161,60 165,58 168.3,54.8 C170,52 170,49 168.3,47" fill="none" stroke="#e6d63c" stroke-width="2.6" stroke-linecap="round" stroke-linejoin="round" />
<path d="M168.3,47 C167,45.5 166,44.5 162,44.4" fill="none" stroke="#5a5418" stroke-width="2.4" stroke-linecap="round" stroke-linejoin="round" />
<path d="M139.4,36.7 C141,35.5 143,36 145,37.5 C146,39 147,40 147.6,41 C149,42.5 150,43 151,43.6" fill="none" stroke="#5a5418" stroke-width="2.3" stroke-linecap="round" stroke-linejoin="round" />
<path d="M151,43.6 C153,44.5 155,45.3 155.4,45.3 C158,45.2 160,44.9 162,44.4" fill="none" stroke="#e4d848" stroke-width="2.3" stroke-linecap="round" stroke-linejoin="round" />
<path d="M160.5,44.6 C157,45.5 155.4,47 155.4,47 C153.5,48.5 152.3,50.5 151.5,52 C151,53 150.6,54 150.6,54" fill="none" stroke="#5a5418" stroke-width="2.3" stroke-linecap="round" stroke-linejoin="round" />
<path d="M160.5,44 C164,42 167,40 168.3,38.4 C170,35 171,33 171.8,31.5 C173,30.5 174,29.7 174.4,29.7" fill="none" stroke="#dcd848" stroke-width="1.8" stroke-linecap="round" stroke-linejoin="round" />
<path d="M174.4,29.7 C177,32 180,35 183.2,37.7 C186,34 188,30 189.2,26.8 C190,22 191,18 194,16.5 C196,18 197,22 197.7,25.6 C199,29 200,31 201.3,31.6 C204,32 206,32 207.4,32.8 C209,34 210,36 209.8,36.5 C209,39 208,40 208,41.3 C206,43 205,45 203,47" fill="none" stroke="#d8dc50" stroke-width="1.5" stroke-linecap="round" stroke-linejoin="round" />
<circle cx="122.5" cy="61.0" r="2.2" fill="#2fae2a"/>
<path d="M122,61 C127,60 131,61 132,64 C133,67 129,68 133,69 C137,69 142,66 143,70 C143,74 139,76 139,79" fill="none" stroke="#2e6f22" stroke-width="1.6" stroke-linecap="round" stroke-linejoin="round" />
<path d="M139,79 C148,79 160,80 170,81 C175,82 178,83 182,84" fill="none" stroke="#c8e0a0" stroke-width="1.6" stroke-linecap="round" stroke-linejoin="round" />
<path d="M170,58 C175,56 184,58 189,64 C186,67 178,66 172,63 Z" fill="#dcee9c" stroke="#d8ec98" stroke-width="0.8" stroke-linecap="round" stroke-linejoin="round" />
<path d="M118,83 C121,81 124,82 126,84" fill="none" stroke="#c8e0a0" stroke-width="1.2" stroke-linecap="round" stroke-linejoin="round" />
<polygon points="132.0,91.0 134.0,87.0 144.0,87.0 146.0,91.0" fill="#20c4a0" stroke="none" stroke-width="0" />
<polygon points="160.0,91.0 161.0,88.5 171.0,88.5 172.0,91.0" fill="#20c4a0" stroke="none" stroke-width="0" />
<polygon points="186.0,91.0 189.0,86.5 195.0,83.3 200.2,82.0 206.2,83.3 212.3,86.3 217.5,89.8 217.5,90.5 212.3,90.3 203.7,89.2 195.0,87.5 191.0,91.0" fill="#1e5ad2" stroke="#0d2e9a" stroke-width="0.5" />
<polygon points="186.0,91.0 189.0,86.5 193.0,84.2 194.0,87.5 191.0,91.0" fill="#0a1e8a" stroke="none" stroke-width="0" />
<path d="M196.0,20.0 L200.1,17.1 L205.0,12.9 L209.8,18.3 L205.0,25.0 L200.1,24.0 Z" fill="none" stroke="#8c8c8c" stroke-width="1.9" stroke-linecap="round" stroke-linejoin="round" />
<path d="M189.2,33.5 L195.3,34.7 L197.7,40.1 L191.0,43.7 L186.2,39.5 Z" fill="none" stroke="#8c8c8c" stroke-width="1.9" stroke-linecap="round" stroke-linejoin="round" />
<path d="M186.2,39.5 L179.5,41.3 L177.7,46.8 L183.2,51.0 L190.4,50.4 L191.0,43.7 Z" fill="none" stroke="#8c8c8c" stroke-width="1.9" stroke-linecap="round" stroke-linejoin="round" />
<path d="M183.2,51.0 L183.2,57.1" fill="none" stroke="#8c8c8c" stroke-width="1.9" stroke-linecap="round" stroke-linejoin="round" />
<path d="M183.2,57.1 L177.7,60.1 L175.3,67.3 L178.9,72.2 L185.0,71.0 L188.6,65.5 Z" fill="none" stroke="#8c8c8c" stroke-width="1.9" stroke-linecap="round" stroke-linejoin="round" />
<path d="M197.7,40.1 L205.0,43.7 L206.2,48.0 L201.3,51.6 L203.1,55.8" fill="none" stroke="#8c8c8c" stroke-width="1.9" stroke-linecap="round" stroke-linejoin="round" />
<path d="M203.1,55.8 L198.3,61.9" fill="none" stroke="#8c8c8c" stroke-width="1.9" stroke-linecap="round" stroke-linejoin="round" />
<path d="M203.1,55.8 L209.2,60.7" fill="none" stroke="#8c8c8c" stroke-width="1.9" stroke-linecap="round" stroke-linejoin="round" />
<path d="M195.3,34.7 L200.1,24.0" fill="none" stroke="#8c8c8c" stroke-width="1.9" stroke-linecap="round" stroke-linejoin="round" />
<path d="M196.0,20.0 L200.1,17.1 L205.0,12.9 L209.8,18.3 L205.0,25.0 L200.1,24.0 Z" fill="none" stroke="#dadada" stroke-width="0.7" stroke-linecap="round" stroke-linejoin="round" />
<path d="M189.2,33.5 L195.3,34.7 L197.7,40.1 L191.0,43.7 L186.2,39.5 Z" fill="none" stroke="#dadada" stroke-width="0.7" stroke-linecap="round" stroke-linejoin="round" />
<path d="M186.2,39.5 L179.5,41.3 L177.7,46.8 L183.2,51.0 L190.4,50.4 L191.0,43.7 Z" fill="none" stroke="#dadada" stroke-width="0.7" stroke-linecap="round" stroke-linejoin="round" />
<path d="M183.2,51.0 L183.2,57.1" fill="none" stroke="#dadada" stroke-width="0.7" stroke-linecap="round" stroke-linejoin="round" />
<path d="M183.2,57.1 L177.7,60.1 L175.3,67.3 L178.9,72.2 L185.0,71.0 L188.6,65.5 Z" fill="none" stroke="#dadada" stroke-width="0.7" stroke-linecap="round" stroke-linejoin="round" />
<path d="M197.7,40.1 L205.0,43.7 L206.2,48.0 L201.3,51.6 L203.1,55.8" fill="none" stroke="#dadada" stroke-width="0.7" stroke-linecap="round" stroke-linejoin="round" />
<path d="M203.1,55.8 L198.3,61.9" fill="none" stroke="#dadada" stroke-width="0.7" stroke-linecap="round" stroke-linejoin="round" />
<path d="M203.1,55.8 L209.2,60.7" fill="none" stroke="#dadada" stroke-width="0.7" stroke-linecap="round" stroke-linejoin="round" />
<path d="M195.3,34.7 L200.1,24.0" fill="none" stroke="#dadada" stroke-width="0.7" stroke-linecap="round" stroke-linejoin="round" />
<path d="M178.9,72.2 L178.9,74.6" fill="none" stroke="#cc1818" stroke-width="1.9" stroke-linecap="round" stroke-linejoin="round" />
<circle cx="178.9" cy="74.6" r="1.4" fill="#cc1818"/>
<circle cx="189.2" cy="33.5" r="1.9" fill="#1428e0"/>
<circle cx="197.7" cy="40.1" r="1.9" fill="#1428e0"/>
<circle cx="175.3" cy="67.3" r="1.9" fill="#1428e0"/>
<circle cx="198.3" cy="61.9" r="1.6" fill="#44d8a8"/>
<circle cx="209.2" cy="60.7" r="1.6" fill="#44d8a8"/>
<circle cx="201.3" cy="51.6" r="1.5" fill="#cc2020"/>
<circle cx="205.0" cy="12.9" r="1.7" fill="#cc2020"/>
<path d="M185,4.5 L188.7,6.5 L191.5,8.6 L193,13.6 L196,16" fill="none" stroke="#b0b0c8" stroke-width="0.9" stroke-linecap="round" stroke-linejoin="round" />
<path d="M184,3.5 L188,5.5" fill="none" stroke="#6060d8" stroke-width="1.2" stroke-linecap="round" stroke-linejoin="round" />
<path d="M224.6,80.5 L227,85 L229,89 M227,85 L231,83" fill="none" stroke="#e0a090" stroke-width="0.8" stroke-linecap="round" stroke-linejoin="round" />
<path d="M195,44 L200,50" fill="none" stroke="#ee6040" stroke-width="0.7" stroke-linecap="round" stroke-linejoin="round" stroke-dasharray="1.2,1"/>
<path d="M256.1,30.9 L253.1,29.2 L248.1,31.4" fill="none" stroke="#b8b8e8" stroke-width="0.6" stroke-linecap="round" stroke-linejoin="round" opacity="0.8"/>
<path d="M266.5,70.8 L262.2,74.3 L256.8,76.8" fill="none" stroke="#c8c8c8" stroke-width="0.6" stroke-linecap="round" stroke-linejoin="round" opacity="0.8"/>
<path d="M348.0,88.5 L344.2,83.3 L343.4,86.2 L347.8,85.4 L344.9,92.0" fill="none" stroke="#d0d0d0" stroke-width="0.6" stroke-linecap="round" stroke-linejoin="round" opacity="0.8"/>
<path d="M326.5,49.7 L332.9,50.9 L330.5,53.4" fill="none" stroke="#b8b8e8" stroke-width="0.6" stroke-linecap="round" stroke-linejoin="round" opacity="0.8"/>
<path d="M337.1,86.5 L334.1,83.2 L333.7,76.6 L335.1,83.7 L331.6,78.3" fill="none" stroke="#d0d0d0" stroke-width="0.6" stroke-linecap="round" stroke-linejoin="round" opacity="0.8"/>
<path d="M359.6,46.3 L362.2,43.9 L365.1,39.8 L361.4,40.3 L360.0,36.1" fill="none" stroke="#b8b8e8" stroke-width="0.6" stroke-linecap="round" stroke-linejoin="round" opacity="0.8"/>
<path d="M366.8,34.0 L361.9,37.6 L363.2,41.3 L363.1,34.5" fill="none" stroke="#f0b0a8" stroke-width="0.6" stroke-linecap="round" stroke-linejoin="round" opacity="0.8"/>
<path d="M323.9,85.7 L326.2,82.6 L332.2,81.2 L326.0,76.3" fill="none" stroke="#d0d0d0" stroke-width="0.6" stroke-linecap="round" stroke-linejoin="round" opacity="0.8"/>
<path d="M355.0,75.2 L352.6,77.7 L354.1,81.5 L356.3,78.7 L354.8,83.9" fill="none" stroke="#c8c8c8" stroke-width="0.6" stroke-linecap="round" stroke-linejoin="round" opacity="0.8"/>
<path d="M363.8,89.2 L365.1,92.0 L364.2,88.9 L362.1,84.5 L356.7,81.1" fill="none" stroke="#b8b8e8" stroke-width="0.6" stroke-linecap="round" stroke-linejoin="round" opacity="0.8"/>
<path d="M338.3,53.8 L340.1,59.0 L343.9,62.9" fill="none" stroke="#f0b0a8" stroke-width="0.6" stroke-linecap="round" stroke-linejoin="round" opacity="0.8"/>
<path d="M319.6,73.9 L325.2,74.6 L327.1,81.1 L323.3,84.2" fill="none" stroke="#b8b8b8" stroke-width="0.6" stroke-linecap="round" stroke-linejoin="round" opacity="0.8"/>
<path d="M372.2,43.4 L369.1,47.8 L373.9,51.0" fill="none" stroke="#b8b8b8" stroke-width="0.6" stroke-linecap="round" stroke-linejoin="round" opacity="0.8"/>
<path d="M373.9,57.0 L380.7,54.7 L380.5,47.6 L382.3,43.8 L377.6,44.3" fill="none" stroke="#b8b8e8" stroke-width="0.6" stroke-linecap="round" stroke-linejoin="round" opacity="0.8"/>
<path d="M280.9,57.7 L276.6,53.7 L280.7,56.9 L275.7,61.1" fill="none" stroke="#d0d0d0" stroke-width="0.6" stroke-linecap="round" stroke-linejoin="round" opacity="0.8"/>
<path d="M256.4,25.5 L251.2,29.1 L249.2,32.5 L253.1,30.8" fill="none" stroke="#f0b0a8" stroke-width="0.6" stroke-linecap="round" stroke-linejoin="round" opacity="0.8"/>
<path d="M264.7,34.4 L265.6,40.0 L269.0,38.6 L263.5,41.8" fill="none" stroke="#b8b8b8" stroke-width="0.6" stroke-linecap="round" stroke-linejoin="round" opacity="0.8"/>
<path d="M368.7,92.0 L361.5,90.3 L367.2,92.0" fill="none" stroke="#c8c8c8" stroke-width="0.6" stroke-linecap="round" stroke-linejoin="round" opacity="0.8"/>
<path d="M268.5,73.4 L265.6,72.7 L270.2,74.7 L272.6,71.3 L270.2,66.9" fill="none" stroke="#e8a8a8" stroke-width="0.6" stroke-linecap="round" stroke-linejoin="round" opacity="0.8"/>
<path d="M281.4,68.3 L276.7,73.2 L269.7,73.4 L266.0,73.1" fill="none" stroke="#d0d0d0" stroke-width="0.6" stroke-linecap="round" stroke-linejoin="round" opacity="0.8"/>
<path d="M306.6,81.8 L309.5,81.2 L305.8,86.9 L303.5,81.6" fill="none" stroke="#f0b0a8" stroke-width="0.6" stroke-linecap="round" stroke-linejoin="round" opacity="0.8"/>
<path d="M337.6,82.1 L332.0,80.4 L329.7,76.4 L326.8,71.1 L328.0,65.8" fill="none" stroke="#b8b8e8" stroke-width="0.6" stroke-linecap="round" stroke-linejoin="round" opacity="0.8"/>
<path d="M247.8,55.0 L244.0,50.2 L244.0,53.2 L244.0,49.9" fill="none" stroke="#e8a8a8" stroke-width="0.6" stroke-linecap="round" stroke-linejoin="round" opacity="0.8"/>
<path d="M366.2,82.1 L368.5,84.8 L372.5,81.7" fill="none" stroke="#e8a8a8" stroke-width="0.6" stroke-linecap="round" stroke-linejoin="round" opacity="0.8"/>
<path d="M282.1,42.6 L285.0,47.2 L281.5,41.6 L288.5,42.2 L283.7,44.2" fill="none" stroke="#f0b0a8" stroke-width="0.6" stroke-linecap="round" stroke-linejoin="round" opacity="0.8"/>
<path d="M323.3,34.4 L324.6,40.0 L327.6,45.3" fill="none" stroke="#e8a8a8" stroke-width="0.6" stroke-linecap="round" stroke-linejoin="round" opacity="0.8"/>
<path d="M371.2,82.6 L365.9,77.3 L367.4,82.2" fill="none" stroke="#c8c8c8" stroke-width="0.6" stroke-linecap="round" stroke-linejoin="round" opacity="0.8"/>
<path d="M344.6,71.0 L340.5,66.2 L336.7,71.2" fill="none" stroke="#b8b8b8" stroke-width="0.6" stroke-linecap="round" stroke-linejoin="round" opacity="0.8"/>
<path d="M325.4,67.8 L322.7,72.2 L326.2,70.4 L328.0,72.8" fill="none" stroke="#f0b0a8" stroke-width="0.6" stroke-linecap="round" stroke-linejoin="round" opacity="0.8"/>
<path d="M364.2,91.1 L363.7,92.0 L359.4,88.8 L361.1,85.1 L364.9,81.5" fill="none" stroke="#d0d0d0" stroke-width="0.6" stroke-linecap="round" stroke-linejoin="round" opacity="0.8"/>
<path d="M357.9,76.2 L351.9,76.2 L348.2,74.7" fill="none" stroke="#e8a8a8" stroke-width="0.6" stroke-linecap="round" stroke-linejoin="round" opacity="0.8"/>
<path d="M314.7,86.1 L321.0,87.0 L319.3,90.2" fill="none" stroke="#e8a8a8" stroke-width="0.6" stroke-linecap="round" stroke-linejoin="round" opacity="0.8"/>
<path d="M263.7,75.6 L258.8,75.0 L251.7,74.5" fill="none" stroke="#e8a8a8" stroke-width="0.6" stroke-linecap="round" stroke-linejoin="round" opacity="0.8"/>
<path d="M349.3,17.1 L353.0,13.1 L349.2,12.0" fill="none" stroke="#d0d0d0" stroke-width="0.6" stroke-linecap="round" stroke-linejoin="round" opacity="0.8"/>
<path d="M333.8,70.7 L334.3,74.6 L337.3,74.5" fill="none" stroke="#f0b0a8" stroke-width="0.6" stroke-linecap="round" stroke-linejoin="round" opacity="0.8"/>
<path d="M341.4,82.5 L346.2,84.0 L343.6,88.6 L336.7,92.0 L342.4,92.0" fill="none" stroke="#d0d0d0" stroke-width="0.6" stroke-linecap="round" stroke-linejoin="round" opacity="0.8"/>
<path d="M250.5,87.1 L250.0,84.1 L244.0,86.2 L244.0,81.1" fill="none" stroke="#d0d0d0" stroke-width="0.6" stroke-linecap="round" stroke-linejoin="round" opacity="0.8"/>
<path d="M265.6,44.1 L272.7,45.4 L269.0,47.5 L270.1,53.7" fill="none" stroke="#f0b0a8" stroke-width="0.6" stroke-linecap="round" stroke-linejoin="round" opacity="0.8"/>
<path d="M250.7,31.6 L250.4,38.2 L244.1,34.1 L244.0,29.8" fill="none" stroke="#d0d0d0" stroke-width="0.6" stroke-linecap="round" stroke-linejoin="round" opacity="0.8"/>
<path d="M289.7,21.9 L284.4,17.8 L283.1,22.3 L285.6,15.0" fill="none" stroke="#d0d0d0" stroke-width="0.6" stroke-linecap="round" stroke-linejoin="round" opacity="0.8"/>
<path d="M255.9,17.7 L250.8,17.8 L246.3,12.8 L253.3,16.1" fill="none" stroke="#b8b8e8" stroke-width="0.6" stroke-linecap="round" stroke-linejoin="round" opacity="0.8"/>
<path d="M379.1,45.3 L378.3,51.2 L379.8,56.7 L384.4,53.5 L385.0,50.1" fill="none" stroke="#b8b8b8" stroke-width="0.6" stroke-linecap="round" stroke-linejoin="round" opacity="0.8"/>
<path d="M368.6,21.9 L367.7,17.4 L370.3,19.8 L371.1,16.8 L378.3,19.5" fill="none" stroke="#d0d0d0" stroke-width="0.6" stroke-linecap="round" stroke-linejoin="round" opacity="0.8"/>
<path d="M354.3,41.6 L358.9,36.5 L356.2,31.6 L348.4,30.3" fill="none" stroke="#d0d0d0" stroke-width="0.6" stroke-linecap="round" stroke-linejoin="round" opacity="0.8"/>
<path d="M317.6,18.7 L312.1,15.0 L307.5,12.0 L306.2,16.7" fill="none" stroke="#c8c8c8" stroke-width="0.6" stroke-linecap="round" stroke-linejoin="round" opacity="0.8"/>
<path d="M281.4,41.8 L283.3,38.6 L285.0,44.9" fill="none" stroke="#d0d0d0" stroke-width="0.6" stroke-linecap="round" stroke-linejoin="round" opacity="0.8"/>
<path d="M300.1,39.3 L303.3,36.8 L306.4,41.3" fill="none" stroke="#e8a8a8" stroke-width="0.6" stroke-linecap="round" stroke-linejoin="round" opacity="0.8"/>
<path d="M324.9,39.7 L321.9,33.4 L322.2,39.6 L325.3,40.8 L328.6,42.0" fill="none" stroke="#f0b0a8" stroke-width="0.6" stroke-linecap="round" stroke-linejoin="round" opacity="0.8"/>
<path d="M354.2,41.7 L350.4,42.9 L354.1,44.0 L357.1,40.4 L353.3,42.4" fill="none" stroke="#b8b8b8" stroke-width="0.6" stroke-linecap="round" stroke-linejoin="round" opacity="0.8"/>
<path d="M348.5,68.2 L343.5,68.0 L338.2,65.3 L331.6,61.8 L334.7,60.8" fill="none" stroke="#b8b8b8" stroke-width="0.6" stroke-linecap="round" stroke-linejoin="round" opacity="0.8"/>
<path d="M297.5,15.2 L299.6,12.0 L296.5,12.0" fill="none" stroke="#b8b8b8" stroke-width="0.6" stroke-linecap="round" stroke-linejoin="round" opacity="0.8"/>
<path d="M358.4,61.0 L359.1,57.9 L361.8,64.3" fill="none" stroke="#d0d0d0" stroke-width="0.6" stroke-linecap="round" stroke-linejoin="round" opacity="0.8"/>
<path d="M250.5,22.6 L249.0,16.8 L253.3,17.8" fill="none" stroke="#f0b0a8" stroke-width="0.6" stroke-linecap="round" stroke-linejoin="round" opacity="0.8"/>
<path d="M343.6,39.9 L347.9,39.9 L350.8,38.6" fill="none" stroke="#d0d0d0" stroke-width="0.6" stroke-linecap="round" stroke-linejoin="round" opacity="0.8"/>
<path d="M322.0,84.8 L320.8,90.9 L324.8,92.0" fill="none" stroke="#b8b8e8" stroke-width="0.6" stroke-linecap="round" stroke-linejoin="round" opacity="0.8"/>
<path d="M281.1,82.1 L281.5,77.2 L283.8,69.6 L279.9,73.7" fill="none" stroke="#e8a8a8" stroke-width="0.6" stroke-linecap="round" stroke-linejoin="round" opacity="0.8"/>
<path d="M266.9,20.7 L272.5,22.9 L277.3,27.0 L277.4,19.3 L273.6,22.5" fill="none" stroke="#b8b8e8" stroke-width="0.6" stroke-linecap="round" stroke-linejoin="round" opacity="0.8"/>
<path d="M300.4,68.5 L303.8,71.5 L307.7,73.0 L306.9,65.3 L310.3,64.9" fill="none" stroke="#b8b8e8" stroke-width="0.6" stroke-linecap="round" stroke-linejoin="round" opacity="0.8"/>
<path d="M300.7,81.8 L296.6,87.4 L299.1,84.6" fill="none" stroke="#f0b0a8" stroke-width="0.6" stroke-linecap="round" stroke-linejoin="round" opacity="0.8"/>
<path d="M316.9,23.8 L312.7,23.0 L314.4,18.4" fill="none" stroke="#d0d0d0" stroke-width="0.6" stroke-linecap="round" stroke-linejoin="round" opacity="0.8"/>
<path d="M246.5,31 C244.5,33 244.5,36 245.2,39" fill="none" stroke="#f8c0b4" stroke-width="2.2" stroke-linecap="round" stroke-linejoin="round" />
<polygon points="246.9,28.8 251.5,27.1 255.0,28.3 259.6,32.3 265.4,38.1 270.0,41.5 270.0,42.7 265.4,42.7 260.8,39.2 256.1,34.6 250.4,32.3 246.9,34.6" fill="#f07868" stroke="#e05a4a" stroke-width="0.5" />
<path d="M248,29.5 C251,28 254,29 257,31.5" fill="none" stroke="#f8b0a0" stroke-width="1.0" stroke-linecap="round" stroke-linejoin="round" />
<path d="M267.7,24.6 C267.2,26 267.4,27 267.7,28" fill="none" stroke="#f8c0b4" stroke-width="2.0" stroke-linecap="round" stroke-linejoin="round" />
<polygon points="268.8,23.7 273.4,21.3 278.0,21.3 282.7,25.4 287.3,31.1 289.6,34.0 286.1,35.2 282.7,31.1 278.0,26.0 273.4,24.2 268.3,26.5" fill="#f07868" stroke="#e05a4a" stroke-width="0.5" />
<path d="M270,23.5 C273,22 276,22 279,23.5" fill="none" stroke="#f8b0a0" stroke-width="1.0" stroke-linecap="round" stroke-linejoin="round" />
<path d="M263.5,64 C267,62.5 271,64 273,66.5 C275,69 275.5,71 275,73" fill="none" stroke="#ee7a40" stroke-width="2.0" stroke-linecap="round" stroke-linejoin="round" />
<path d="M263.5,64 C259,68 259.5,78 262.4,82.5 C264,86 267,88 272,88.5 C274,88.8 276,89 277,89.5" fill="none" stroke="#e4541a" stroke-width="3.4" stroke-linecap="round" stroke-linejoin="round" />
<path d="M261,70 C260.5,74 261,78 262.5,81" fill="none" stroke="#b83c0c" stroke-width="0.9" stroke-linecap="round" stroke-linejoin="round" />
<path d="M277.4,68.7 C280,66.5 284,67 286.6,71 C288,74 287.5,78 286,80 C284.5,83 281,86 278.5,86.5" fill="none" stroke="#e4541a" stroke-width="2.8" stroke-linecap="round" stroke-linejoin="round" />
<path d="M277.4,68.7 C274,72 273,80 275,85 C276.5,88 278,89.5 279.7,90.6" fill="none" stroke="#e4541a" stroke-width="3.4" stroke-linecap="round" stroke-linejoin="round" />
<path d="M292.4,73.3 C295,73 298,74 300.5,76 C302.5,79 302,84 300,86.5 C297.5,89 294,90 291.2,90.6" fill="none" stroke="#e4541a" stroke-width="3.4" stroke-linecap="round" stroke-linejoin="round" />
<path d="M291.5,73.5 C294,73 296,73.5 298,74.5" fill="none" stroke="#8c2808" stroke-width="1.8" stroke-linecap="round" stroke-linejoin="round" />
<path d="M304,60 C307,59 310,60.5 312,63" fill="none" stroke="#e4541a" stroke-width="3.2" stroke-linecap="round" stroke-linejoin="round" />
<path d="M305,66 C308,67 311,67 313,66" fill="none" stroke="#f4b8a0" stroke-width="2.0" stroke-linecap="round" stroke-linejoin="round" />
<path d="M305,60 C312,67 322,66 328,58 C330,53 326,49 322,50" fill="none" stroke="#e8581e" stroke-width="3.2" stroke-linecap="round" stroke-linejoin="round" />
<path d="M306,62 C313,66 320,65 326,60" fill="none" stroke="#f49060" stroke-width="1.0" stroke-linecap="round" stroke-linejoin="round" />
<path d="M324.2,26.1 C327,27.5 330,29 335.7,29 C340,29 344,29.5 352,26 C356,27 357,33 358,42 C359,50 360,58 360,66" fill="none" stroke="#b8502c" stroke-width="1.5" stroke-linecap="round" stroke-linejoin="round" />
<path d="M323,25.5 L327,28" fill="none" stroke="#7a2810" stroke-width="2.2" stroke-linecap="round" stroke-linejoin="round" />
<path d="M328.8,29 C326,32 324.2,35.4 322,38 C320,40 318,43 317.3,44.6" fill="none" stroke="#e07840" stroke-width="1.3" stroke-linecap="round" stroke-linejoin="round" />
<path d="M310,20 C305,16 300,14 296,15" fill="none" stroke="#f0b0a0" stroke-width="0.9" stroke-linecap="round" stroke-linejoin="round" />
<path d="M383,37 C375,37 368,42 363,50 C360,58 361,65 362,72 C361,80 359,86 357,92" fill="none" stroke="#d8a828" stroke-width="2.2" stroke-linecap="round" stroke-linejoin="round" />
<polygon points="356.0,56.0 361.0,54.0 363.0,62.0 358.0,64.0" fill="#c89018" stroke="none" stroke-width="0" />
<path d="M348,92 C348,84 351,78 358,74 C364,72 368,77 372,78 C376,78 380,74 383,70" fill="none" stroke="#d0702c" stroke-width="1.5" stroke-linecap="round" stroke-linejoin="round" />
<path d="M286.6,35.7 L280.8,35 L277.4,39.5 L280.5,44 L288.2,42.2 Z M288.2,42.2 L292.4,45.3 L292.8,50.3 L286.6,52.6 L280.8,50.3 L280.5,44 M280.8,50.3 L275.8,51.8 M286.6,35.7 L291.9,34.2 M280.5,44 L276,45 L272,44 M280.8,50.3 L279,56 L282,60" fill="none" stroke="#8c8c8c" stroke-width="1.9" stroke-linecap="round" stroke-linejoin="round" />
<path d="M286.6,35.7 L280.8,35 L277.4,39.5 L280.5,44 L288.2,42.2 Z M288.2,42.2 L292.4,45.3 L292.8,50.3 L286.6,52.6 L280.8,50.3 L280.5,44 M280.8,50.3 L275.8,51.8 M286.6,35.7 L291.9,34.2 M280.5,44 L276,45 L272,44 M280.8,50.3 L279,56 L282,60" fill="none" stroke="#e0e0e0" stroke-width="0.7" stroke-linecap="round" stroke-linejoin="round" />
<circle cx="286.6" cy="35.7" r="2.0" fill="#1a28e0"/>
<circle cx="277.4" cy="39.5" r="2.0" fill="#1a28e0"/>
<circle cx="292.4" cy="45.3" r="2.0" fill="#1a28e0"/>
<circle cx="286.6" cy="52.6" r="2.0" fill="#1a28e0"/>
<circle cx="275.8" cy="51.8" r="2.0" fill="#1a28e0"/>
<path d="M291.9,34.2 L296.5,30.8 L302.3,30.8 L303.5,34.8 L296.5,37.1 Z M303.5,34.8 L304.6,41.1 L309.2,40.6" fill="none" stroke="#8c8c8c" stroke-width="2.0" stroke-linecap="round" stroke-linejoin="round" />
<path d="M291.9,34.2 L296.5,30.8 L302.3,30.8 L303.5,34.8 L296.5,37.1 Z M303.5,34.8 L304.6,41.1 L309.2,40.6" fill="none" stroke="#e0e0e0" stroke-width="0.7" stroke-linecap="round" stroke-linejoin="round" />
<path d="M296.5,30.8 L295.4,22.7" fill="none" stroke="#c81818" stroke-width="2.0" stroke-linecap="round" stroke-linejoin="round" />
<circle cx="295.4" cy="22.7" r="1.5" fill="#c81818"/>
<path d="M302.3,30.8 L304.6,24.4" fill="none" stroke="#c81818" stroke-width="2.0" stroke-linecap="round" stroke-linejoin="round" />
<circle cx="304.6" cy="24.4" r="1.5" fill="#c81818"/>
<path d="M294,36.5 L298,37.5" fill="none" stroke="#c81818" stroke-width="1.8" stroke-linecap="round" stroke-linejoin="round" />
<path d="M309.2,40.6 L314.4,44.6 L321.9,43.4 L328.3,45.2 M314.4,44.6 L315,51 M328.3,45.2 L331.1,42.9 M328.3,45.2 L328.8,52.7" fill="none" stroke="#a8205a" stroke-width="2.2" stroke-linecap="round" stroke-linejoin="round" />
<circle cx="314.4" cy="44.6" r="1.9" fill="#9a1860"/>
<circle cx="328.3" cy="45.2" r="1.9" fill="#9a1860"/>
<circle cx="315.0" cy="51.0" r="1.4" fill="#c81818"/>
<circle cx="331.1" cy="42.9" r="1.4" fill="#c81818"/>
<path d="M328.8,29 L331,42" fill="none" stroke="#e8a040" stroke-width="0.8" stroke-linecap="round" stroke-linejoin="round" stroke-dasharray="1,1"/>
<path d="M331,43.4 L342.7,43.4 M332.3,50.4 L343,45" fill="none" stroke="#e060e0" stroke-width="0.8" stroke-linecap="round" stroke-linejoin="round" stroke-dasharray="1,1"/>
<path d="M287,50 L297,58 L303,64" fill="none" stroke="#e8a040" stroke-width="0.7" stroke-linecap="round" stroke-linejoin="round" stroke-dasharray="1,1"/>
<polygon points="353.0,40.0 355.0,38.0 354.0,44.0 352.0,45.0" fill="#208020" stroke="none" stroke-width="0" />
<polygon points="386.0,88.0 392.0,86.0 393.0,89.0 387.0,90.0" fill="#c8e040" stroke="none" stroke-width="0" />
<path d="M510.7,52.9 L516.0,55.8 L511.0,60.8 L514.3,67.3 L507.1,65.3" fill="none" stroke="#e8a8a8" stroke-width="0.6" stroke-linecap="round" stroke-linejoin="round" opacity="0.8"/>
<path d="M451.1,46.4 L455.9,46.0 L463.4,44.5" fill="none" stroke="#b8b8e8" stroke-width="0.6" stroke-linecap="round" stroke-linejoin="round" opacity="0.8"/>
<path d="M412.7,60.7 L418.7,58.5 L422.3,62.6" fill="none" stroke="#b8b8e8" stroke-width="0.6" stroke-linecap="round" stroke-linejoin="round" opacity="0.8"/>
<path d="M453.2,52.0 L450.8,55.4 L444.6,54.5 L450.1,52.3" fill="none" stroke="#e8a8a8" stroke-width="0.6" stroke-linecap="round" stroke-linejoin="round" opacity="0.8"/>
<path d="M424.3,86.4 L421.9,81.6 L423.2,87.9" fill="none" stroke="#b8b8b8" stroke-width="0.6" stroke-linecap="round" stroke-linejoin="round" opacity="0.8"/>
<path d="M488.6,27.3 L486.2,30.2 L487.5,37.9 L491.2,34.6" fill="none" stroke="#b8b8b8" stroke-width="0.6" stroke-linecap="round" stroke-linejoin="round" opacity="0.8"/>
<path d="M484.7,15.4 L477.7,13.7 L477.0,18.5" fill="none" stroke="#e8a8a8" stroke-width="0.6" stroke-linecap="round" stroke-linejoin="round" opacity="0.8"/>
<path d="M434.5,89.8 L426.8,89.8 L430.9,87.0" fill="none" stroke="#b8b8b8" stroke-width="0.6" stroke-linecap="round" stroke-linejoin="round" opacity="0.8"/>
<path d="M429.3,76.6 L423.6,81.2 L427.2,79.1 L433.3,82.4 L430.3,79.5" fill="none" stroke="#c8c8c8" stroke-width="0.6" stroke-linecap="round" stroke-linejoin="round" opacity="0.8"/>
<path d="M454.8,17.7 L448.3,16.6 L453.6,19.9 L449.8,23.9 L446.7,29.2" fill="none" stroke="#b8b8e8" stroke-width="0.6" stroke-linecap="round" stroke-linejoin="round" opacity="0.8"/>
<path d="M462.7,61.4 L463.3,64.7 L459.2,68.3" fill="none" stroke="#c8c8c8" stroke-width="0.6" stroke-linecap="round" stroke-linejoin="round" opacity="0.8"/>
<path d="M404.4,65.4 L398.4,65.4 L403.8,63.0 L407.0,65.1 L405.4,60.8" fill="none" stroke="#b8b8b8" stroke-width="0.6" stroke-linecap="round" stroke-linejoin="round" opacity="0.8"/>
<path d="M486.7,52.9 L486.4,48.9 L485.4,53.3 L479.0,57.1" fill="none" stroke="#b8b8b8" stroke-width="0.6" stroke-linecap="round" stroke-linejoin="round" opacity="0.8"/>
<path d="M494.0,77.7 L498.4,78.0 L490.9,77.9 L487.2,82.2 L489.9,78.4" fill="none" stroke="#f0b0a8" stroke-width="0.6" stroke-linecap="round" stroke-linejoin="round" opacity="0.8"/>
<path d="M485.8,59.6 L482.0,55.7 L487.7,60.5 L494.7,59.2 L491.0,64.1" fill="none" stroke="#f0b0a8" stroke-width="0.6" stroke-linecap="round" stroke-linejoin="round" opacity="0.8"/>
<path d="M488.7,17.0 L495.3,20.9 L495.7,28.7" fill="none" stroke="#b8b8e8" stroke-width="0.6" stroke-linecap="round" stroke-linejoin="round" opacity="0.8"/>
<path d="M419.7,54.8 L426.2,54.3 L428.7,50.0 L428.8,45.1 L435.0,42.2" fill="none" stroke="#b8b8e8" stroke-width="0.6" stroke-linecap="round" stroke-linejoin="round" opacity="0.8"/>
<path d="M438.6,74.7 L444.3,71.8 L441.4,77.3" fill="none" stroke="#c8c8c8" stroke-width="0.6" stroke-linecap="round" stroke-linejoin="round" opacity="0.8"/>
<path d="M490.4,62.3 L486.4,64.6 L483.4,67.8 L476.7,68.7 L481.0,64.3" fill="none" stroke="#e8a8a8" stroke-width="0.6" stroke-linecap="round" stroke-linejoin="round" opacity="0.8"/>
<path d="M490.6,89.6 L495.9,92.0 L502.2,92.0" fill="none" stroke="#f0b0a8" stroke-width="0.6" stroke-linecap="round" stroke-linejoin="round" opacity="0.8"/>
<path d="M517.8,51.1 L518.0,52.0 L518.0,58.3 L516.5,63.1 L518.0,65.4" fill="none" stroke="#e8a8a8" stroke-width="0.6" stroke-linecap="round" stroke-linejoin="round" opacity="0.8"/>
<path d="M486.3,71.7 L483.2,68.7 L486.1,66.5 L479.8,62.6" fill="none" stroke="#c8c8c8" stroke-width="0.6" stroke-linecap="round" stroke-linejoin="round" opacity="0.8"/>
<path d="M458.9,65.7 L457.0,58.8 L458.2,66.3" fill="none" stroke="#b8b8e8" stroke-width="0.6" stroke-linecap="round" stroke-linejoin="round" opacity="0.8"/>
<path d="M454.5,85.2 L453.7,77.5 L459.5,82.1" fill="none" stroke="#b8b8e8" stroke-width="0.6" stroke-linecap="round" stroke-linejoin="round" opacity="0.8"/>
<path d="M427.4,77.7 L423.8,78.4 L425.3,74.2" fill="none" stroke="#d0d0d0" stroke-width="0.6" stroke-linecap="round" stroke-linejoin="round" opacity="0.8"/>
<path d="M450.6,75.6 L454.7,72.0 L461.2,69.6 L467.7,69.3 L465.6,74.5" fill="none" stroke="#b8b8b8" stroke-width="0.6" stroke-linecap="round" stroke-linejoin="round" opacity="0.8"/>
<path d="M510.4,86.0 L510.2,90.2 L507.4,87.4 L506.1,83.0" fill="none" stroke="#d0d0d0" stroke-width="0.6" stroke-linecap="round" stroke-linejoin="round" opacity="0.8"/>
<path d="M497.2,31.7 L495.7,34.5 L499.4,40.5 L501.5,44.2 L506.5,44.1" fill="none" stroke="#e8a8a8" stroke-width="0.6" stroke-linecap="round" stroke-linejoin="round" opacity="0.8"/>
<path d="M472.3,55.6 L474.8,53.7 L471.0,57.2 L468.3,51.2 L471.8,51.2" fill="none" stroke="#b8b8b8" stroke-width="0.6" stroke-linecap="round" stroke-linejoin="round" opacity="0.8"/>
<path d="M420.6,38.7 L420.2,31.1 L416.0,34.0 L420.7,39.8 L427.0,35.2" fill="none" stroke="#b8b8e8" stroke-width="0.6" stroke-linecap="round" stroke-linejoin="round" opacity="0.8"/>
<path d="M483.9,82.6 L486.4,78.6 L486.7,71.9 L481.4,67.0" fill="none" stroke="#f0b0a8" stroke-width="0.6" stroke-linecap="round" stroke-linejoin="round" opacity="0.8"/>
<path d="M476.6,31.9 L474.7,35.5 L479.4,32.3" fill="none" stroke="#c8c8c8" stroke-width="0.6" stroke-linecap="round" stroke-linejoin="round" opacity="0.8"/>
<path d="M483.4,86.0 L487.3,81.7 L487.7,73.9 L481.7,76.3" fill="none" stroke="#b8b8e8" stroke-width="0.6" stroke-linecap="round" stroke-linejoin="round" opacity="0.8"/>
<path d="M512.0,31.3 L504.6,32.2 L500.6,31.6" fill="none" stroke="#c8c8c8" stroke-width="0.6" stroke-linecap="round" stroke-linejoin="round" opacity="0.8"/>
<path d="M516.1,49.7 L518.0,52.0 L518.0,51.3" fill="none" stroke="#b8b8b8" stroke-width="0.6" stroke-linecap="round" stroke-linejoin="round" opacity="0.8"/>
<path d="M489.5,86.3 L488.2,82.8 L481.0,82.4 L476.8,87.5" fill="none" stroke="#c8c8c8" stroke-width="0.6" stroke-linecap="round" stroke-linejoin="round" opacity="0.8"/>
<path d="M426.6,59.8 L422.1,58.6 L421.9,54.9 L418.5,61.0 L415.1,61.0" fill="none" stroke="#b8b8e8" stroke-width="0.6" stroke-linecap="round" stroke-linejoin="round" opacity="0.8"/>
<path d="M476.8,85.2 L479.4,83.8 L485.2,82.0" fill="none" stroke="#d0d0d0" stroke-width="0.6" stroke-linecap="round" stroke-linejoin="round" opacity="0.8"/>
<path d="M423.0,25.2 L418.0,27.5 L414.6,27.1 L414.6,30.8 L416.2,27.4" fill="none" stroke="#b8b8b8" stroke-width="0.6" stroke-linecap="round" stroke-linejoin="round" opacity="0.8"/>
<path d="M475.3,19.1 L470.3,21.3 L470.2,16.7" fill="none" stroke="#f0b0a8" stroke-width="0.6" stroke-linecap="round" stroke-linejoin="round" opacity="0.8"/>
<path d="M479.1,85.1 L473.8,81.3 L476.3,79.4 L481.6,79.2 L484.2,77.2" fill="none" stroke="#b8b8e8" stroke-width="0.6" stroke-linecap="round" stroke-linejoin="round" opacity="0.8"/>
<path d="M426.3,56.6 L430.6,54.9 L431.0,61.1 L435.0,67.5 L435.3,70.5" fill="none" stroke="#f0b0a8" stroke-width="0.6" stroke-linecap="round" stroke-linejoin="round" opacity="0.8"/>
<path d="M470.2,30.2 L474.5,33.5 L470.1,30.3 L475.3,32.4" fill="none" stroke="#e8a8a8" stroke-width="0.6" stroke-linecap="round" stroke-linejoin="round" opacity="0.8"/>
<path d="M406.6,15.5 L406.4,18.9 L413.7,19.4 L417.9,14.2 L419.0,12.0" fill="none" stroke="#e8a8a8" stroke-width="0.6" stroke-linecap="round" stroke-linejoin="round" opacity="0.8"/>
<path d="M464.6,70.9 L463.8,63.9 L457.6,63.1 L462.4,63.9 L460.3,68.2" fill="none" stroke="#d0d0d0" stroke-width="0.6" stroke-linecap="round" stroke-linejoin="round" opacity="0.8"/>
<path d="M508.4,87.3 L504.9,85.3 L500.4,78.9 L503.5,82.7 L499.9,88.2" fill="none" stroke="#c8c8c8" stroke-width="0.6" stroke-linecap="round" stroke-linejoin="round" opacity="0.8"/>
<path d="M494.2,15.6 L488.8,21.2 L489.2,15.1" fill="none" stroke="#d0d0d0" stroke-width="0.6" stroke-linecap="round" stroke-linejoin="round" opacity="0.8"/>
<path d="M513.7,43.7 L513.7,48.0 L518.0,44.4 L515.3,41.7" fill="none" stroke="#b8b8e8" stroke-width="0.6" stroke-linecap="round" stroke-linejoin="round" opacity="0.8"/>
<path d="M430.2,86.0 L434.2,87.2 L428.1,83.3 L424.0,84.4" fill="none" stroke="#b8b8b8" stroke-width="0.6" stroke-linecap="round" stroke-linejoin="round" opacity="0.8"/>
<path d="M491.7,36.8 L486.8,34.2 L490.2,30.2 L487.0,26.0" fill="none" stroke="#d0d0d0" stroke-width="0.6" stroke-linecap="round" stroke-linejoin="round" opacity="0.8"/>
<path d="M476.5,84.1 L482.4,79.4 L480.5,81.7 L474.3,83.4" fill="none" stroke="#c8c8c8" stroke-width="0.6" stroke-linecap="round" stroke-linejoin="round" opacity="0.8"/>
<path d="M415.6,26.6 L420.4,23.0 L418.5,17.4 L416.2,12.8 L412.7,12.8" fill="none" stroke="#b8b8b8" stroke-width="0.6" stroke-linecap="round" stroke-linejoin="round" opacity="0.8"/>
<path d="M517.5,25.5 L513.1,20.4 L507.4,19.4 L505.5,22.2 L501.4,17.8" fill="none" stroke="#b8b8e8" stroke-width="0.6" stroke-linecap="round" stroke-linejoin="round" opacity="0.8"/>
<path d="M432.3,85.6 L428.8,89.5 L430.2,92.0 L431.8,92.0" fill="none" stroke="#e8a8a8" stroke-width="0.6" stroke-linecap="round" stroke-linejoin="round" opacity="0.8"/>
<path d="M512.5,24.3 L508.8,22.8 L511.0,17.3 L511.8,12.5" fill="none" stroke="#e8a8a8" stroke-width="0.6" stroke-linecap="round" stroke-linejoin="round" opacity="0.8"/>
<polygon points="416.0,20.8 420.8,18.5 427.0,23.0 434.6,30.0 433.4,34.6 426.0,31.0 418.5,26.5" fill="#f4a49a" stroke="#ec8c80" stroke-width="0.4" />
<path d="M392,34.5 C397,38 404,43 411,47" fill="none" stroke="#f6c4bc" stroke-width="5.0" stroke-linecap="round" stroke-linejoin="round" />
<path d="M393.8,51 L397,45 L403,45.5 L405,51 L402,57 L396,57.5 Z" fill="none" stroke="#b8b8b8" stroke-width="0.7" stroke-linecap="round" stroke-linejoin="round" />
<path d="M410.5,90.7 C411,85 412.5,81 414.5,79.2 C417,76.5 419,75.8 421.4,75.7 C424.5,75.6 427,76 428.4,76.9 C430,78 431,80 431.8,81.5" fill="none" stroke="#f2a494" stroke-width="4.0" stroke-linecap="round" stroke-linejoin="round" />
<path d="M414,88 C415,83 417,80 421,79" fill="none" stroke="#e88a7a" stroke-width="1.0" stroke-linecap="round" stroke-linejoin="round" />
<path d="M424.9,91.5 C427,88.5 430,87.3 433,87.3 C436,87.3 438.5,89 439.9,91.5 Z" fill="#e05a2a" stroke="#e05a2a" stroke-width="0.6" stroke-linecap="round" stroke-linejoin="round" />
<path d="M444,8 C446,13 450,17 455,17.3 C458,17 461,16.5 463.6,15.8 C467,14 470,12.5 472.3,11.5 C475,10 477,9 478.7,8.6" fill="none" stroke="#ec9890" stroke-width="1.4" stroke-linecap="round" stroke-linejoin="round" />
<path d="M478.7,8.6 L483,6.5" fill="none" stroke="#404040" stroke-width="1.6" stroke-linecap="round" stroke-linejoin="round" />
<path d="M483,6.5 C485,9 485.5,11 485.2,11.5 C486,15 487,18 487.4,20 C488,23 489,26 489,28" fill="none" stroke="#ec9890" stroke-width="1.3" stroke-linecap="round" stroke-linejoin="round" />
<path d="M473.7,27.3 C474.5,25.5 475.5,24.8 476.6,24.5 C479,23.5 481.5,22.8 483.8,23 C485,23.5 485.5,24.8 485.2,25.9 C484,28 482.5,30 480.9,31.7 C479,33.5 477.5,35.5 476.6,37.4 C475.5,39.5 474.5,41.5 473.7,43.2" fill="none" stroke="#d42c24" stroke-width="1.8" stroke-linecap="round" stroke-linejoin="round" />
<path d="M473.7,27.3 C473.8,28.5 474,29.5 474.4,30.2 C476,31.2 477.5,31.6 479.5,31.7 C483,32 486,32.8 489.5,33.1 C493,32.8 497,31.5 501,30.2 C505,28 508,25.5 511.1,23 C514,21 516,19.5 518.3,18.7" fill="none" stroke="#d42c24" stroke-width="2.2" stroke-linecap="round" stroke-linejoin="round" />
<ellipse cx="478.8" cy="66.5" rx="15.8" ry="10" fill="none" stroke="#e04a38" stroke-width="4.2" transform="rotate(-10 478.8 66.5)"/>
<path d="M463.5,70 C466,76 472,78.5 478,78 C485,77.5 491,74 494.5,68" fill="none" stroke="#c83020" stroke-width="2.2" stroke-linecap="round" stroke-linejoin="round" />
<path d="M466,62 C471,57.5 480,56 488,58" fill="none" stroke="#f4a090" stroke-width="1.4" stroke-linecap="round" stroke-linejoin="round" />
<path d="M460.8,46 L469.4,50.4 L476.6,46 L485.9,49.6 L492.4,45.3 M469.4,50.4 L466.5,57.6 M485.9,49.6 L485.2,59 M485.9,49.6 L488,43.2" fill="none" stroke="#c41e5c" stroke-width="2.3" stroke-linecap="round" stroke-linejoin="round" />
<circle cx="469.4" cy="50.4" r="2.2" fill="#a0186a"/>
<circle cx="485.9" cy="49.6" r="2.2" fill="#a0186a"/>
<circle cx="466.5" cy="57.6" r="1.6" fill="#cc1818"/>
<circle cx="492.4" cy="45.3" r="1.6" fill="#cc1818"/>
<circle cx="485.2" cy="59.0" r="1.6" fill="#cc1818"/>
<circle cx="460.8" cy="46.0" r="1.5" fill="#cc1818"/>
<path d="M478,38 L482,46 M492,44 L505,42" fill="none" stroke="#e8d040" stroke-width="0.7" stroke-linecap="round" stroke-linejoin="round" stroke-dasharray="1,1"/>
<path d="M505,42 L512,46 L516,50 M509,44 L511,40" fill="none" stroke="#7070d0" stroke-width="0.9" stroke-linecap="round" stroke-linejoin="round" />
<path d="M434.6,38.1 L439.2,35.8 L446.1,36.3 L448.4,39.2 L440.4,42.1 Z" fill="none" stroke="#8c8c8c" stroke-width="2.0" stroke-linecap="round" stroke-linejoin="round" />
<path d="M434.6,38.1 L439.2,35.8 L446.1,36.3 L448.4,39.2 L440.4,42.1 Z" fill="none" stroke="#e0e0e0" stroke-width="0.7" stroke-linecap="round" stroke-linejoin="round" />
<path d="M448.4,39.2 L450.7,45 L454.2,47.3 L458,46 L464,48" fill="none" stroke="#8c8c8c" stroke-width="2.0" stroke-linecap="round" stroke-linejoin="round" />
<path d="M448.4,39.2 L450.7,45 L454.2,47.3 L458,46 L464,48" fill="none" stroke="#e0e0e0" stroke-width="0.7" stroke-linecap="round" stroke-linejoin="round" />
<path d="M434.6,38.1 L433.4,27.7" fill="none" stroke="#c81818" stroke-width="2.0" stroke-linecap="round" stroke-linejoin="round" />
<circle cx="433.4" cy="27.7" r="1.5" fill="#c81818"/>
<path d="M447.3,34 L448.4,26.5" fill="none" stroke="#c81818" stroke-width="2.0" stroke-linecap="round" stroke-linejoin="round" />
<circle cx="448.4" cy="26.5" r="1.5" fill="#c81818"/>
<path d="M437,42 L441.5,42.5" fill="none" stroke="#c81818" stroke-width="1.8" stroke-linecap="round" stroke-linejoin="round" />
<path d="M427.1,45.6 L419,45.6 L415,51.9 L420.2,55.4 L427.7,53.1 Z M420.2,55.4 L419.6,62.3 L425.4,69.2 L433.4,65.7 L433.4,57.7 L427.7,53.1 M419.6,62.3 L411.5,71 M434.6,38.1 L427.1,45.6" fill="none" stroke="#8c8c8c" stroke-width="1.9" stroke-linecap="round" stroke-linejoin="round" />
<path d="M427.1,45.6 L419,45.6 L415,51.9 L420.2,55.4 L427.7,53.1 Z M420.2,55.4 L419.6,62.3 L425.4,69.2 L433.4,65.7 L433.4,57.7 L427.7,53.1 M419.6,62.3 L411.5,71 M434.6,38.1 L427.1,45.6" fill="none" stroke="#e0e0e0" stroke-width="0.7" stroke-linecap="round" stroke-linejoin="round" />
<circle cx="427.1" cy="45.6" r="2.1" fill="#1a22e0"/>
<circle cx="415.0" cy="51.9" r="2.1" fill="#1a22e0"/>
<circle cx="433.4" cy="57.7" r="2.1" fill="#1a22e0"/>
<circle cx="425.4" cy="69.2" r="2.1" fill="#1a22e0"/>
<circle cx="411.5" cy="71.0" r="2.1" fill="#1a22e0"/>
<path d="M404,7 C399,7 394,8 391,9" fill="none" stroke="#5c5818" stroke-width="2.2" stroke-linecap="round" stroke-linejoin="round" />
<path d="M391,9 C392,20 394,33 402,44 C410,54 420,58 432,58 C442,59 448,70 455,77.7 C460,80 465,82.5 469.4,83.5 C474,84 479,83.5 483.8,82.7 C488,81 491,80 493.8,78.4 C496,77 497.5,75.5 498.9,74.1" fill="none" stroke="#e0d650" stroke-width="2.3" stroke-linecap="round" stroke-linejoin="round" />
<path d="M494.5,77.5 C496,76.5 497.5,75.3 499.5,73.6" fill="none" stroke="#4c4a14" stroke-width="2.0" stroke-linecap="round" stroke-linejoin="round" />
<polygon points="388.0,88.0 393.0,86.0 395.0,87.5 389.0,90.0" fill="#d8e040" stroke="none" stroke-width="0" />
<path d="M391,87.5 L395,86.8" fill="none" stroke="#303010" stroke-width="1.2" stroke-linecap="round" stroke-linejoin="round" />
<circle cx="80.6" cy="108.5" r="9" fill="#e6e6e6"/>
<circle cx="80.6" cy="108.5" r="6.6" fill="#fafafa"/>
<circle cx="58.6" cy="142.9" r="2.6" fill="#dedede"/>
<circle cx="62.1" cy="148.6" r="2.6" fill="#dedede"/>
<circle cx="71.9" cy="148.1" r="2.6" fill="#dedede"/>
<path d="M80.6,101.3 L86.3,104.8 L86.3,112.3 L80.6,115.8 L74.8,112.3 L74.8,104.8 L80.6,101.3" fill="none" stroke="#6a6a6a" stroke-width="0.85" stroke-linecap="round" stroke-linejoin="round" />
<path d="M62.7,112.3 L69.6,115.8 L68.4,122.7 L62.7,125.6 L59.8,119.2 L62.7,112.3" fill="none" stroke="#6a6a6a" stroke-width="0.85" stroke-linecap="round" stroke-linejoin="round" />
<path d="M59.8,119.2 L52.3,119.2 L48.3,125.6 L52.3,131.9 L59.2,131.9 L62.7,125.6" fill="none" stroke="#6a6a6a" stroke-width="0.85" stroke-linecap="round" stroke-linejoin="round" />
<path d="M52.3,131.9 L48.8,137.7" fill="none" stroke="#6a6a6a" stroke-width="0.85" stroke-linecap="round" stroke-linejoin="round" />
<path d="M48.8,137.7 L41.9,138.3 L39.0,144.6 L41.9,151.0 L48.8,151.0 L52.3,144.6 L48.8,137.7" fill="none" stroke="#6a6a6a" stroke-width="0.85" stroke-linecap="round" stroke-linejoin="round" />
<path d="M48.8,151.0 L53.5,156.7" fill="none" stroke="#6a6a6a" stroke-width="0.85" stroke-linecap="round" stroke-linejoin="round" />
<path d="M39.0,144.6 L35.0,144.6" fill="none" stroke="#6a6a6a" stroke-width="0.85" stroke-linecap="round" stroke-linejoin="round" />
<path d="M69.6,115.8 L74.8,112.3" fill="none" stroke="#6a6a6a" stroke-width="0.85" stroke-linecap="round" stroke-linejoin="round" />
<path d="M68.4,122.7 L74.2,128.4 L74.2,134.8 L68.4,137.1 L65.6,143.4" fill="none" stroke="#6a6a6a" stroke-width="0.85" stroke-linecap="round" stroke-linejoin="round" />
<path d="M65.6,143.4 L58.6,142.9" fill="none" stroke="#6a6a6a" stroke-width="0.85" stroke-linecap="round" stroke-linejoin="round" />
<path d="M65.6,143.4 L62.1,148.6" fill="none" stroke="#6a6a6a" stroke-width="0.85" stroke-linecap="round" stroke-linejoin="round" />
<path d="M65.6,143.4 L71.9,148.1" fill="none" stroke="#6a6a6a" stroke-width="0.85" stroke-linecap="round" stroke-linejoin="round" />
<path d="M41.9,151.0 L39.0,156.7" fill="none" stroke="#e05050" stroke-width="0.85" stroke-linecap="round" stroke-linejoin="round" />
<path d="M74.2,134.8 L68.4,137.1" fill="none" stroke="#e08080" stroke-width="0.85" stroke-linecap="round" stroke-linejoin="round" />
<circle cx="62.7" cy="112.3" r="0.9" fill="#3040d0"/>
<circle cx="39.0" cy="144.6" r="0.9" fill="#3040d0"/>
<circle cx="68.4" cy="122.7" r="0.8" fill="#3040d0"/>
<path d="M62,101 C62,106 60,108 54,110 C44,113 34,122 29,132 C25,140 24,148 28,153 C31,156 34,158 36,159" fill="none" stroke="#a8cc34" stroke-width="1.5" stroke-linecap="round" stroke-linejoin="round" />
<path d="M36,159 C40,162 43,165 46,168" fill="none" stroke="#58b8e8" stroke-width="1.2" stroke-linecap="round" stroke-linejoin="round" />
<path d="M38,107 L29,122 L22,129 L17,138" fill="none" stroke="#303030" stroke-width="0.9" stroke-linecap="round" stroke-linejoin="round" />
<path d="M17,138 L15,150 L23,158" fill="none" stroke="#303030" stroke-width="0.9" stroke-linecap="round" stroke-linejoin="round" />
<path d="M35,168 L65,174" fill="none" stroke="#303030" stroke-width="0.9" stroke-linecap="round" stroke-linejoin="round" />
<path d="M44,176 L55,178" fill="none" stroke="#303030" stroke-width="0.9" stroke-linecap="round" stroke-linejoin="round" />
<path d="M98,129 L95,141 L90,161" fill="none" stroke="#303030" stroke-width="0.9" stroke-linecap="round" stroke-linejoin="round" />
<circle cx="38" cy="107" r="3.4" fill="#eef6d0"/>
<circle cx="38.0" cy="107.0" r="2.5" fill="#bcdc56" stroke="#94b43a" stroke-width="0.5"/>
<circle cx="17" cy="138" r="3.4" fill="#eef6d0"/>
<circle cx="17.0" cy="138.0" r="2.5" fill="#bcdc56" stroke="#94b43a" stroke-width="0.5"/>
<circle cx="15" cy="150" r="3.4" fill="#eef6d0"/>
<circle cx="15.0" cy="150.0" r="2.5" fill="#bcdc56" stroke="#94b43a" stroke-width="0.5"/>
<circle cx="23" cy="158" r="3.4" fill="#eef6d0"/>
<circle cx="23.0" cy="158.0" r="2.5" fill="#bcdc56" stroke="#94b43a" stroke-width="0.5"/>
<circle cx="35" cy="168" r="3.4" fill="#eef6d0"/>
<circle cx="35.0" cy="168.0" r="2.5" fill="#bcdc56" stroke="#94b43a" stroke-width="0.5"/>
<circle cx="44" cy="176" r="3.4" fill="#eef6d0"/>
<circle cx="44.0" cy="176.0" r="2.5" fill="#bcdc56" stroke="#94b43a" stroke-width="0.5"/>
<circle cx="65" cy="174" r="3.4" fill="#eef6d0"/>
<circle cx="65.0" cy="174.0" r="2.5" fill="#bcdc56" stroke="#94b43a" stroke-width="0.5"/>
<circle cx="95" cy="141" r="3.4" fill="#eef6d0"/>
<circle cx="95.0" cy="141.0" r="2.5" fill="#bcdc56" stroke="#94b43a" stroke-width="0.5"/>
<circle cx="90" cy="161" r="3.4" fill="#eef6d0"/>
<circle cx="90.0" cy="161.0" r="2.5" fill="#bcdc56" stroke="#94b43a" stroke-width="0.5"/>
<circle cx="29" cy="122" r="3.1" fill="#e0f2fa"/>
<circle cx="29.0" cy="122.0" r="2.2" fill="#7cc8ec" stroke="#58a8d0" stroke-width="0.4"/>
<circle cx="55" cy="178" r="3.1" fill="#e0f2fa"/>
<circle cx="55.0" cy="178.0" r="2.2" fill="#7cc8ec" stroke="#58a8d0" stroke-width="0.4"/>
<circle cx="98" cy="129" r="3.1999999999999997" fill="#e8e8fc"/>
<circle cx="98.0" cy="129.0" r="2.3" fill="#7070e4" stroke="#5050c4" stroke-width="0.4"/>
<circle cx="188.8" cy="107.3" r="9" fill="#e6e6e6"/>
<circle cx="188.8" cy="107.3" r="6.6" fill="#fafafa"/>
<circle cx="176.7" cy="144" r="2.6" fill="#dedede"/>
<circle cx="180.2" cy="149.2" r="2.6" fill="#dedede"/>
<circle cx="188.8" cy="145.7" r="2.6" fill="#dedede"/>
<path d="M188.3,100.8 L194.6,104.2 L194.6,111.1 L188.3,114.0 L183.1,111.1 L183.1,104.2 L188.3,100.8" fill="none" stroke="#6a6a6a" stroke-width="0.85" stroke-linecap="round" stroke-linejoin="round" />
<path d="M173.8,115.8 L180.8,115.2 L180.8,122.7 L175.6,128.4 L170.4,122.7 L173.8,115.8" fill="none" stroke="#6a6a6a" stroke-width="0.85" stroke-linecap="round" stroke-linejoin="round" />
<path d="M170.4,122.7 L164.6,125.0 L162.9,129.6 L166.9,135.4 L173.8,134.2 L175.6,128.4" fill="none" stroke="#6a6a6a" stroke-width="0.85" stroke-linecap="round" stroke-linejoin="round" />
<path d="M166.9,135.4 L165.8,141.1" fill="none" stroke="#6a6a6a" stroke-width="0.85" stroke-linecap="round" stroke-linejoin="round" />
<path d="M165.8,141.1 L160.0,143.4 L158.3,149.2 L161.1,153.8 L168.1,152.7 L170.4,146.9 L165.8,141.1" fill="none" stroke="#6a6a6a" stroke-width="0.85" stroke-linecap="round" stroke-linejoin="round" />
<path d="M168.1,152.7 L173.3,157.3" fill="none" stroke="#6a6a6a" stroke-width="0.85" stroke-linecap="round" stroke-linejoin="round" />
<path d="M158.3,149.2 L153.1,151.5" fill="none" stroke="#6a6a6a" stroke-width="0.85" stroke-linecap="round" stroke-linejoin="round" />
<path d="M180.8,115.2 L183.1,111.1" fill="none" stroke="#6a6a6a" stroke-width="0.85" stroke-linecap="round" stroke-linejoin="round" />
<path d="M180.8,122.7 L187.7,126.1 L188.3,133.1 L183.6,136.0 L182.5,142.3" fill="none" stroke="#6a6a6a" stroke-width="0.85" stroke-linecap="round" stroke-linejoin="round" />
<path d="M182.5,142.3 L176.7,144.0" fill="none" stroke="#6a6a6a" stroke-width="0.85" stroke-linecap="round" stroke-linejoin="round" />
<path d="M182.5,142.3 L180.2,149.2" fill="none" stroke="#6a6a6a" stroke-width="0.85" stroke-linecap="round" stroke-linejoin="round" />
<path d="M182.5,142.3 L188.8,145.7" fill="none" stroke="#6a6a6a" stroke-width="0.85" stroke-linecap="round" stroke-linejoin="round" />
<path d="M161.1,153.8 L162.3,159.6" fill="none" stroke="#e05050" stroke-width="0.85" stroke-linecap="round" stroke-linejoin="round" />
<path d="M188.3,133.1 L183.6,136.0" fill="none" stroke="#e08080" stroke-width="0.85" stroke-linecap="round" stroke-linejoin="round" />
<circle cx="173.8" cy="115.8" r="0.9" fill="#3040d0"/>
<circle cx="158.3" cy="149.2" r="0.9" fill="#3040d0"/>
<circle cx="180.8" cy="122.7" r="0.8" fill="#3040d0"/>
<path d="M170,107 C165,112 158,114 152,125 C147,133 142,140 140,150 C140,157 144,162 150,165 C158,169 168,169 176,167 C182,165 185,162 187,160" fill="none" stroke="#a8cc34" stroke-width="1.5" stroke-linecap="round" stroke-linejoin="round" />
<path d="M145,130 L138,137 L133,146" fill="none" stroke="#303030" stroke-width="0.9" stroke-linecap="round" stroke-linejoin="round" />
<path d="M134.5,164 L156.7,173 L166,174" fill="none" stroke="#303030" stroke-width="0.9" stroke-linecap="round" stroke-linejoin="round" />
<path d="M207,133.5 L210.6,144 L203,161.6 L183.8,175" fill="none" stroke="#303030" stroke-width="0.9" stroke-linecap="round" stroke-linejoin="round" />
<path d="M216,152 L211.7,162 L193,175" fill="none" stroke="#303030" stroke-width="0.9" stroke-linecap="round" stroke-linejoin="round" />
<path d="M162,160 L166,174" fill="none" stroke="#f080a0" stroke-width="0.6" stroke-linecap="round" stroke-linejoin="round" />
<circle cx="136" cy="118.7" r="3.4" fill="#eef6d0"/>
<circle cx="136.0" cy="118.7" r="2.5" fill="#bcdc56" stroke="#94b43a" stroke-width="0.5"/>
<circle cx="145" cy="130" r="3.4" fill="#eef6d0"/>
<circle cx="145.0" cy="130.0" r="2.5" fill="#bcdc56" stroke="#94b43a" stroke-width="0.5"/>
<circle cx="138" cy="137" r="3.4" fill="#eef6d0"/>
<circle cx="138.0" cy="137.0" r="2.5" fill="#bcdc56" stroke="#94b43a" stroke-width="0.5"/>
<circle cx="133" cy="145.7" r="3.4" fill="#eef6d0"/>
<circle cx="133.0" cy="145.7" r="2.5" fill="#bcdc56" stroke="#94b43a" stroke-width="0.5"/>
<circle cx="134.5" cy="164.3" r="3.4" fill="#eef6d0"/>
<circle cx="134.5" cy="164.3" r="2.5" fill="#bcdc56" stroke="#94b43a" stroke-width="0.5"/>
<circle cx="156.7" cy="173.2" r="3.4" fill="#eef6d0"/>
<circle cx="156.7" cy="173.2" r="2.5" fill="#bcdc56" stroke="#94b43a" stroke-width="0.5"/>
<circle cx="183.8" cy="175.3" r="3.4" fill="#eef6d0"/>
<circle cx="183.8" cy="175.3" r="2.5" fill="#bcdc56" stroke="#94b43a" stroke-width="0.5"/>
<circle cx="193" cy="175.3" r="3.4" fill="#eef6d0"/>
<circle cx="193.0" cy="175.3" r="2.5" fill="#bcdc56" stroke="#94b43a" stroke-width="0.5"/>
<circle cx="203.2" cy="161.6" r="3.4" fill="#eef6d0"/>
<circle cx="203.2" cy="161.6" r="2.5" fill="#bcdc56" stroke="#94b43a" stroke-width="0.5"/>
<circle cx="210.6" cy="144" r="3.4" fill="#eef6d0"/>
<circle cx="210.6" cy="144.0" r="2.5" fill="#bcdc56" stroke="#94b43a" stroke-width="0.5"/>
<circle cx="211.7" cy="162.2" r="3.4" fill="#eef6d0"/>
<circle cx="211.7" cy="162.2" r="2.5" fill="#bcdc56" stroke="#94b43a" stroke-width="0.5"/>
<circle cx="166.2" cy="174.3" r="3.1" fill="#e0f2fa"/>
<circle cx="166.2" cy="174.3" r="2.2" fill="#7cc8ec" stroke="#58a8d0" stroke-width="0.4"/>
<circle cx="207" cy="133.5" r="3.1999999999999997" fill="#e8e8fc"/>
<circle cx="207.0" cy="133.5" r="2.3" fill="#7070e4" stroke="#5050c4" stroke-width="0.4"/>
<circle cx="215.9" cy="152.0" r="2.3" fill="#e47040" stroke="#c05020" stroke-width="0.4"/>
<path d="M291.9,130.2 L297.3,128.2 L300.7,133.6 L297.3,138.3 L291.2,136.2 L291.9,130.2" fill="none" stroke="#585858" stroke-width="0.85" stroke-linecap="round" stroke-linejoin="round" />
<path d="M287.2,141.0 L281.2,138.9 L277.8,145.0 L282.5,149.0 L288.6,147.0 L287.2,141.0" fill="none" stroke="#585858" stroke-width="0.85" stroke-linecap="round" stroke-linejoin="round" />
<path d="M282.5,149.0 L282.5,156.4 L287.9,160.5 L293.9,157.1 L293.9,150.4 L288.6,147.0" fill="none" stroke="#585858" stroke-width="0.85" stroke-linecap="round" stroke-linejoin="round" />
<path d="M291.2,136.2 L287.2,141.0" fill="none" stroke="#585858" stroke-width="0.85" stroke-linecap="round" stroke-linejoin="round" />
<path d="M282.5,156.4 L276.4,159.8" fill="none" stroke="#585858" stroke-width="0.85" stroke-linecap="round" stroke-linejoin="round" />
<path d="M300.7,133.6 L304.0,131.5 L308.0,130.2" fill="none" stroke="#585858" stroke-width="0.85" stroke-linecap="round" stroke-linejoin="round" />
<path d="M291.9,130.2 L287.5,127.8" fill="none" stroke="#585858" stroke-width="0.85" stroke-linecap="round" stroke-linejoin="round" />
<path d="M297.3,128.2 L298.6,123.0" fill="none" stroke="#585858" stroke-width="0.85" stroke-linecap="round" stroke-linejoin="round" />
<path d="M308.0,130.2 L309.4,126.2 L314.8,123.5" fill="none" stroke="#c06060" stroke-width="0.8" stroke-linecap="round" stroke-linejoin="round" />
<path d="M314.8,123.5 L312.8,117.4" fill="none" stroke="#c06060" stroke-width="0.8" stroke-linecap="round" stroke-linejoin="round" />
<path d="M314.8,123.5 L318.8,120.8 L324.2,122.8" fill="none" stroke="#c06060" stroke-width="0.8" stroke-linecap="round" stroke-linejoin="round" />
<path d="M314.8,123.5 L317.0,129.0" fill="none" stroke="#c06060" stroke-width="0.8" stroke-linecap="round" stroke-linejoin="round" />
<text x="283.5" y="129.0" font-size="3" fill="#c03030">HO</text>
<text x="297.0" y="122.0" font-size="3" fill="#c03030">OH</text>
<path d="M316,124 L331.5,128 M320,118 L331.5,128 M322,130 L331.5,128 M326,118 L340,126 M314,126 L329,144 M331.5,128 L348.8,126.9" fill="none" stroke="#f0a0a8" stroke-width="0.6" stroke-linecap="round" stroke-linejoin="round" />
<path d="M293.9,150.4 L312,159" fill="none" stroke="#f0a0a8" stroke-width="0.7" stroke-linecap="round" stroke-linejoin="round" />
<path d="M322.3,108.5 C325,111 328,114 332.7,115.4 C335,117 336,119 336.1,120 C338,122 340,124 340.2,129.2 C340,133 337,135.5 332.7,136.7 C329,137 326,135 325.2,133.8" fill="none" stroke="#3a3ae0" stroke-width="1.0" stroke-linecap="round" stroke-linejoin="round" />
<path d="M339.6,123.4 C341,127 340,132 337.3,135 C334,137.5 330,137.5 327,135.6 M323.5,124.6 L331.5,128 M324.6,135 L329.8,144.2" fill="none" stroke="#484860" stroke-width="1.1" stroke-linecap="round" stroke-linejoin="round" />
<path d="M314.2,96.9 L322.9,100.4 L331.5,105.6 L339,111.3 L347.1,117.1 C349,120 350,123 348.8,126.9 C348,131 347,133 345.4,136.1 L338.4,141.9" fill="none" stroke="#383838" stroke-width="1.0" stroke-linecap="round" stroke-linejoin="round" stroke-dasharray="1.6,1"/>
<path d="M312,159 L305,170 L297,177" fill="none" stroke="#303030" stroke-width="0.9" stroke-linecap="round" stroke-linejoin="round" />
<circle cx="314.2" cy="96.9" r="2.3" fill="#e47040" stroke="#c05020" stroke-width="0.4"/>
<circle cx="322.9" cy="100.4" r="3.1" fill="#e0f2fa"/>
<circle cx="322.9" cy="100.4" r="2.2" fill="#7cc8ec" stroke="#58a8d0" stroke-width="0.4"/>
<circle cx="331.5" cy="105.6" r="2.0" fill="#e0e4b0" stroke="#c0c490" stroke-width="0.4"/>
<circle cx="339" cy="111.3" r="3.1" fill="#e0f2fa"/>
<circle cx="339.0" cy="111.3" r="2.2" fill="#7cc8ec" stroke="#58a8d0" stroke-width="0.4"/>
<circle cx="347.1" cy="117.1" r="2.0" fill="#e0e4b0" stroke="#c0c490" stroke-width="0.4"/>
<circle cx="345.4" cy="136.1" r="3.1" fill="#e0f2fa"/>
<circle cx="345.4" cy="136.1" r="2.2" fill="#7cc8ec" stroke="#58a8d0" stroke-width="0.4"/>
<circle cx="338.4" cy="141.9" r="3.1" fill="#e0f2fa"/>
<circle cx="338.4" cy="141.9" r="2.2" fill="#7cc8ec" stroke="#58a8d0" stroke-width="0.4"/>
<circle cx="348.8" cy="126.9" r="3.4" fill="#e8e8fc"/>
<circle cx="348.8" cy="126.9" r="2.5" fill="#7070e4" stroke="#5050c4" stroke-width="0.4"/>
<circle cx="287.5" cy="105.2" r="3.1" fill="#e0f2fa"/>
<circle cx="287.5" cy="105.2" r="2.2" fill="#7cc8ec" stroke="#58a8d0" stroke-width="0.4"/>
<circle cx="312" cy="159" r="3.3" fill="#e8e8fc"/>
<circle cx="312.0" cy="159.0" r="2.4" fill="#7070e4" stroke="#5050c4" stroke-width="0.4"/>
<circle cx="329.8" cy="144.2" r="3.2" fill="#e8e8e8"/>
<circle cx="329.8" cy="144.2" r="2.2" fill="#8a8a8a" stroke="#686868" stroke-width="0.4"/>
<circle cx="259" cy="153" r="3.4" fill="#eef6d0"/>
<circle cx="259.0" cy="153.0" r="2.5" fill="#bcdc56" stroke="#94b43a" stroke-width="0.5"/>
<circle cx="297" cy="177" r="3.4" fill="#eef6d0"/>
<circle cx="297.0" cy="177.0" r="2.5" fill="#bcdc56" stroke="#94b43a" stroke-width="0.5"/>
<path d="M430.9,128.7 L436.3,126.7 L439.7,132.1 L436.3,136.8 L430.2,134.7 L430.9,128.7" fill="none" stroke="#585858" stroke-width="0.85" stroke-linecap="round" stroke-linejoin="round" />
<path d="M426.2,139.5 L420.2,137.4 L416.8,143.5 L421.5,147.5 L427.6,145.5 L426.2,139.5" fill="none" stroke="#585858" stroke-width="0.85" stroke-linecap="round" stroke-linejoin="round" />
<path d="M421.5,147.5 L421.5,154.9 L426.9,159.0 L432.9,155.6 L432.9,148.9 L427.6,145.5" fill="none" stroke="#585858" stroke-width="0.85" stroke-linecap="round" stroke-linejoin="round" />
<path d="M430.2,134.7 L426.2,139.5" fill="none" stroke="#585858" stroke-width="0.85" stroke-linecap="round" stroke-linejoin="round" />
<path d="M421.5,154.9 L415.4,158.3" fill="none" stroke="#585858" stroke-width="0.85" stroke-linecap="round" stroke-linejoin="round" />
<path d="M439.7,132.1 L443.0,130.0 L447.0,128.7" fill="none" stroke="#585858" stroke-width="0.85" stroke-linecap="round" stroke-linejoin="round" />
<path d="M430.9,128.7 L426.5,126.3" fill="none" stroke="#585858" stroke-width="0.85" stroke-linecap="round" stroke-linejoin="round" />
<path d="M436.3,126.7 L437.6,121.5" fill="none" stroke="#585858" stroke-width="0.85" stroke-linecap="round" stroke-linejoin="round" />
<path d="M447.0,128.7 L448.4,124.7 L453.8,122.0" fill="none" stroke="#c06060" stroke-width="0.8" stroke-linecap="round" stroke-linejoin="round" />
<path d="M453.8,122.0 L451.8,115.9" fill="none" stroke="#c06060" stroke-width="0.8" stroke-linecap="round" stroke-linejoin="round" />
<path d="M453.8,122.0 L457.8,119.3 L463.2,121.3" fill="none" stroke="#c06060" stroke-width="0.8" stroke-linecap="round" stroke-linejoin="round" />
<path d="M453.8,122.0 L456.0,127.5" fill="none" stroke="#c06060" stroke-width="0.8" stroke-linecap="round" stroke-linejoin="round" />
<text x="422.5" y="127.5" font-size="3" fill="#c03030">HO</text>
<text x="436.0" y="120.5" font-size="3" fill="#c03030">OH</text>
<path d="M452.3,122.2 L468.5,125.8 M456,118 L468.5,125.8 M458,128 L468.5,125.8 M468.5,125.8 L485.4,145.8 M468.5,125.8 L462,140 M468.5,125.8 L471.5,138.1 M460,114 L470,128" fill="none" stroke="#f0a0d0" stroke-width="0.6" stroke-linecap="round" stroke-linejoin="round" />
<path d="M431.6,149.1 L426,166" fill="none" stroke="#f0a0d0" stroke-width="0.6" stroke-linecap="round" stroke-linejoin="round" />
<path d="M460.8,113.5 C464,113 467,113 468.5,113.5 C471,115 472,117 471.5,118 C471,121 471,123 470.8,124.2" fill="none" stroke="#4040e0" stroke-width="1.4" stroke-linecap="round" stroke-linejoin="round" />
<path d="M468.5,127.3 C465,131 463,134 460.8,136.5 C458,138 456,139 454.6,139.6 C450,141 447,142 445.4,142.7" fill="none" stroke="#505050" stroke-width="1.2" stroke-linecap="round" stroke-linejoin="round" />
<path d="M445.4,142.7 C442,145 441,146 440.8,147.3 C440,150 439.5,152 439.2,153.5" fill="none" stroke="#a0c830" stroke-width="1.2" stroke-linecap="round" stroke-linejoin="round" />
<path d="M439.2,153.5 C438.5,157 438,158.5 437.7,159.6 C435,161.5 433,162 431.5,162 C426,162 420,161.5 417.7,161.2" fill="none" stroke="#5050e0" stroke-width="1.3" stroke-linecap="round" stroke-linejoin="round" />
<path d="M464.6,103.5 L474.6,105 L478.5,113.5 L480.8,122.7 L477.7,131.9 L471.5,138.1 L463.8,144.2 L454.6,147.3 L446.9,151.2" fill="none" stroke="#383838" stroke-width="1.0" stroke-linecap="round" stroke-linejoin="round" stroke-dasharray="1.6,1"/>
<path d="M485.4,145.8 L476.2,151.2" fill="none" stroke="#383838" stroke-width="1.0" stroke-linecap="round" stroke-linejoin="round" />
<path d="M423.8,168.8 L446.2,161.2" fill="none" stroke="#303030" stroke-width="1.0" stroke-linecap="round" stroke-linejoin="round" />
<circle cx="464.6" cy="103.5" r="2.3" fill="#e47040" stroke="#c05020" stroke-width="0.4"/>
<circle cx="474.6" cy="105" r="3.1" fill="#e0f2fa"/>
<circle cx="474.6" cy="105.0" r="2.2" fill="#7cc8ec" stroke="#58a8d0" stroke-width="0.4"/>
<circle cx="478.5" cy="113.5" r="2.0" fill="#e0e4b0" stroke="#c0c490" stroke-width="0.4"/>
<circle cx="480.8" cy="122.7" r="3.1" fill="#e0f2fa"/>
<circle cx="480.8" cy="122.7" r="2.2" fill="#7cc8ec" stroke="#58a8d0" stroke-width="0.4"/>
<circle cx="477.7" cy="131.9" r="2.0" fill="#e0e4b0" stroke="#c0c490" stroke-width="0.4"/>
<circle cx="471.5" cy="138.1" r="3.1999999999999997" fill="#e8e8fc"/>
<circle cx="471.5" cy="138.1" r="2.3" fill="#7070e4" stroke="#5050c4" stroke-width="0.4"/>
<circle cx="463.8" cy="144.2" r="3.1" fill="#e0f2fa"/>
<circle cx="463.8" cy="144.2" r="2.2" fill="#7cc8ec" stroke="#58a8d0" stroke-width="0.4"/>
<circle cx="454.6" cy="147.3" r="3.1" fill="#e0f2fa"/>
<circle cx="454.6" cy="147.3" r="2.2" fill="#7cc8ec" stroke="#58a8d0" stroke-width="0.4"/>
<circle cx="446.9" cy="151.2" r="3.1" fill="#e0f2fa"/>
<circle cx="446.9" cy="151.2" r="2.2" fill="#7cc8ec" stroke="#58a8d0" stroke-width="0.4"/>
<circle cx="485.4" cy="145.8" r="3.1999999999999997" fill="#e8e8fc"/>
<circle cx="485.4" cy="145.8" r="2.3" fill="#7070e4" stroke="#5050c4" stroke-width="0.4"/>
<circle cx="476.2" cy="151.2" r="3.1" fill="#e0f2fa"/>
<circle cx="476.2" cy="151.2" r="2.2" fill="#7cc8ec" stroke="#58a8d0" stroke-width="0.4"/>
<circle cx="456.9" cy="109.6" r="3.2" fill="#e8e8e8"/>
<circle cx="456.9" cy="109.6" r="2.2" fill="#8a8a8a" stroke="#686868" stroke-width="0.4"/>
<circle cx="445.4" cy="98.1" r="3.4" fill="#eef6d0"/>
<circle cx="445.4" cy="98.1" r="2.5" fill="#bcdc56" stroke="#94b43a" stroke-width="0.5"/>
<circle cx="446.2" cy="161.2" r="3.4" fill="#eef6d0"/>
<circle cx="446.2" cy="161.2" r="2.5" fill="#bcdc56" stroke="#94b43a" stroke-width="0.5"/>
<circle cx="423.8" cy="168.8" r="3.1999999999999997" fill="#e8e8fc"/>
<circle cx="423.8" cy="168.8" r="2.3" fill="#7070e4" stroke="#5050c4" stroke-width="0.4"/>
<circle cx="438.5" cy="177.3" r="3.1" fill="#e0f2fa"/>
<circle cx="438.5" cy="177.3" r="2.2" fill="#7cc8ec" stroke="#58a8d0" stroke-width="0.4"/>
<path d="M43.00,210.30 V305.30 H185.00" fill="none" stroke="#2a2a2a" stroke-width="1.2"/>
<path d="M40.70,305.30 H43.00" stroke="#2a2a2a" stroke-width="1.1"/>
<text x="39.80" y="307.70" font-size="6.8" font-weight="bold" text-anchor="end" fill="#000" >0</text>
<path d="M40.70,286.30 H43.00" stroke="#2a2a2a" stroke-width="1.1"/>
<text x="39.80" y="288.70" font-size="6.8" font-weight="bold" text-anchor="end" fill="#000" >1</text>
<path d="M40.70,267.30 H43.00" stroke="#2a2a2a" stroke-width="1.1"/>
<text x="39.80" y="269.70" font-size="6.8" font-weight="bold" text-anchor="end" fill="#000" >2</text>
<path d="M40.70,248.30 H43.00" stroke="#2a2a2a" stroke-width="1.1"/>
<text x="39.80" y="250.70" font-size="6.8" font-weight="bold" text-anchor="end" fill="#000" >3</text>
<path d="M40.70,229.30 H43.00" stroke="#2a2a2a" stroke-width="1.1"/>
<text x="39.80" y="231.70" font-size="6.8" font-weight="bold" text-anchor="end" fill="#000" >4</text>
<path d="M40.70,210.30 H43.00" stroke="#2a2a2a" stroke-width="1.1"/>
<text x="39.80" y="212.70" font-size="6.8" font-weight="bold" text-anchor="end" fill="#000" >5</text>
<path d="M43.00,305.30 V307.60" stroke="#2a2a2a" stroke-width="1.1"/>
<text x="43.00" y="316.10" font-size="6.8" font-weight="bold" text-anchor="middle" fill="#000" >0</text>
<path d="M71.40,305.30 V307.60" stroke="#2a2a2a" stroke-width="1.1"/>
<text x="71.40" y="316.10" font-size="6.8" font-weight="bold" text-anchor="middle" fill="#000" >20</text>
<path d="M99.80,305.30 V307.60" stroke="#2a2a2a" stroke-width="1.1"/>
<text x="99.80" y="316.10" font-size="6.8" font-weight="bold" text-anchor="middle" fill="#000" >40</text>
<path d="M128.20,305.30 V307.60" stroke="#2a2a2a" stroke-width="1.1"/>
<text x="128.20" y="316.10" font-size="6.8" font-weight="bold" text-anchor="middle" fill="#000" >60</text>
<path d="M156.60,305.30 V307.60" stroke="#2a2a2a" stroke-width="1.1"/>
<text x="156.60" y="316.10" font-size="6.8" font-weight="bold" text-anchor="middle" fill="#000" >80</text>
<path d="M185.00,305.30 V307.60" stroke="#2a2a2a" stroke-width="1.1"/>
<text x="185.00" y="316.10" font-size="6.8" font-weight="bold" text-anchor="middle" fill="#000" >100</text>
<text transform="translate(26.90,258.20) rotate(-90)" font-size="7.9" font-weight="bold" text-anchor="middle" textLength="63.5" lengthAdjust="spacingAndGlyphs">Protein RMSD (?)</text>
<text x="114.00" y="328.80" font-size="7.8" font-weight="bold" text-anchor="middle" fill="#000" >Time (nsec)</text>
<text x="83.00" y="199.60" font-size="9" font-weight="bold" textLength="63.00" lengthAdjust="spacingAndGlyphs">RMSD-H-7wwz</text>
<path d="M194.80,216.80 h9.8" stroke="#f21212" stroke-width="1.6"/>
<path d="M194.80,227.60 h9.8" stroke="#111111" stroke-width="1.6"/>
<text x="210.80" y="219.50" font-size="7.5" font-weight="normal" text-anchor="start" fill="#111" >PDB</text>
<text x="210.80" y="230.30" font-size="7.5" font-weight="normal" text-anchor="start" fill="#111" >Alphafold</text>
<polyline points="43.00,285.27 43.31,280.34 43.62,279.01 43.93,282.78 44.24,282.21 44.55,282.73 44.86,279.97 45.17,281.47 45.47,279.44 45.78,285.80 46.09,277.33 46.40,281.39 46.71,279.42 47.02,281.39 47.33,281.95 47.64,279.82 47.95,278.88 48.26,281.37 48.57,281.21 48.88,279.09 49.19,282.89 49.50,284.43 49.81,279.67 50.12,282.26 50.42,285.34 50.73,282.61 51.04,281.75 51.35,283.55 51.66,284.29 51.97,280.51 52.28,278.38 52.59,281.18 52.90,282.44 53.21,279.65 53.52,278.83 53.83,281.34 54.14,279.25 54.45,278.02 54.76,281.11 55.07,282.61 55.37,279.74 55.68,279.99 55.99,277.89 56.30,283.77 56.61,282.23 56.92,282.67 57.23,284.86 57.54,280.01 57.85,278.77 58.16,281.65 58.47,276.16 58.78,277.30 59.09,277.54 59.40,277.84 59.71,276.23 60.02,281.63 60.32,276.58 60.63,276.35 60.94,280.61 61.25,272.97 61.56,272.03 61.87,270.37 62.18,274.77 62.49,275.11 62.80,275.59 63.11,279.07 63.42,275.56 63.73,277.44 64.04,276.10 64.35,278.74 64.66,274.91 64.97,276.24 65.27,273.89 65.58,266.86 65.89,260.29 66.20,257.03 66.51,265.11 66.82,258.81 67.13,259.61 67.44,260.76 67.75,262.79 68.06,256.97 68.37,262.96 68.68,258.28 68.99,256.41 69.30,263.53 69.61,260.27 69.92,262.71 70.22,258.82 70.53,255.63 70.84,254.32 71.15,263.66 71.46,260.63 71.77,257.43 72.08,255.21 72.39,258.02 72.70,260.85 73.01,258.22 73.32,258.95 73.63,259.36 73.94,260.61 74.25,257.77 74.56,256.93 74.86,256.89 75.17,256.17 75.48,257.76 75.79,255.65 76.10,252.50 76.41,256.99 76.72,261.11 77.03,255.29 77.34,257.47 77.65,253.61 77.96,258.69 78.27,260.02 78.58,262.49 78.89,255.68 79.20,252.64 79.51,261.05 79.81,260.65 80.12,257.62 80.43,261.17 80.74,259.83 81.05,260.06 81.36,258.75 81.67,256.56 81.98,259.24 82.29,257.06 82.60,260.40 82.91,258.59 83.22,264.72 83.53,263.05 83.84,257.54 84.15,261.00 84.46,258.14 84.76,258.27 85.07,256.38 85.38,257.67 85.69,257.19 86.00,260.00 86.31,261.47 86.62,261.58 86.93,260.99 87.24,262.60 87.55,261.18 87.86,260.08 88.17,259.25 88.48,260.73 88.79,264.66 89.10,260.11 89.41,259.40 89.71,257.30 90.02,258.57 90.33,261.61 90.64,261.83 90.95,255.09 91.26,258.21 91.57,255.58 91.88,254.86 92.19,262.16 92.50,259.21 92.81,259.05 93.12,258.82 93.43,258.89 93.74,259.75 94.05,259.83 94.36,264.00 94.66,260.71 94.97,262.17 95.28,260.04 95.59,261.52 95.90,258.86 96.21,258.39 96.52,259.67 96.83,259.67 97.14,260.24 97.45,261.60 97.76,260.92 98.07,261.76 98.38,259.60 98.69,260.54 99.00,259.16 99.31,263.90 99.61,258.44 99.92,262.53 100.23,262.43 100.54,261.09 100.85,261.97 101.16,259.84 101.47,261.96 101.78,263.16 102.09,262.59 102.40,257.24 102.71,260.35 103.02,263.32 103.33,260.39 103.64,264.24 103.95,255.95 104.25,264.12 104.56,259.15 104.87,258.97 105.18,263.87 105.49,259.53 105.80,257.79 106.11,259.07 106.42,259.56 106.73,257.84 107.04,259.77 107.35,259.31 107.66,260.44 107.97,258.54 108.28,262.41 108.59,258.11 108.90,261.29 109.20,262.71 109.51,259.10 109.82,255.80 110.13,257.58 110.44,261.21 110.75,258.19 111.06,261.02 111.37,260.18 111.68,259.63 111.99,265.56 112.30,259.34 112.61,262.34 112.92,261.50 113.23,263.39 113.54,263.48 113.85,262.04 114.15,257.67 114.46,255.62 114.77,259.81 115.08,257.08 115.39,260.45 115.70,264.54 116.01,259.46 116.32,258.75 116.63,260.93 116.94,259.15 117.25,258.50 117.56,262.07 117.87,263.61 118.18,260.53 118.49,260.52 118.80,260.89 119.10,257.60 119.41,255.80 119.72,261.11 120.03,258.38 120.34,257.80 120.65,258.38 120.96,257.58 121.27,261.15 121.58,258.38 121.89,255.23 122.20,258.26 122.51,261.80 122.82,258.79 123.13,257.19 123.44,259.42 123.75,261.74 124.05,256.56 124.36,263.48 124.67,259.17 124.98,260.47 125.29,263.40 125.60,257.46 125.91,259.64 126.22,263.40 126.53,259.05 126.84,261.62 127.15,265.28 127.46,262.30 127.77,259.97 128.08,259.07 128.39,260.25 128.69,260.57 129.00,259.54 129.31,261.25 129.62,257.84 129.93,260.40 130.24,260.06 130.55,259.47 130.86,263.44 131.17,262.60 131.48,257.09 131.79,260.06 132.10,261.61 132.41,260.09 132.72,262.14 133.03,260.28 133.34,262.64 133.64,260.33 133.95,264.93 134.26,257.77 134.57,262.34 134.88,265.00 135.19,261.67 135.50,262.05 135.81,260.78 136.12,264.01 136.43,260.22 136.74,252.27 137.05,264.40 137.36,260.43 137.67,262.05 137.98,260.83 138.29,265.80 138.59,264.19 138.90,260.23 139.21,261.48 139.52,257.37 139.83,263.17 140.14,261.02 140.45,254.27 140.76,263.38 141.07,263.74 141.38,261.62 141.69,261.66 142.00,259.49 142.31,261.27 142.62,263.45 142.93,261.04 143.24,255.03 143.54,258.38 143.85,268.37 144.16,261.83 144.47,263.62 144.78,259.90 145.09,261.85 145.40,256.63 145.71,259.08 146.02,259.16 146.33,260.88 146.64,261.42 146.95,260.46 147.26,258.08 147.57,259.93 147.88,262.10 148.19,258.06 148.49,260.72 148.80,261.36 149.11,263.11 149.42,262.53 149.73,262.68 150.04,267.99 150.35,258.56 150.66,259.65 150.97,261.56 151.28,258.42 151.59,259.90 151.90,260.05 152.21,267.06 152.52,261.50 152.83,259.59 153.14,256.91 153.44,256.32 153.75,257.32 154.06,263.69 154.37,266.23 154.68,259.37 154.99,260.69 155.30,258.36 155.61,261.03 155.92,260.15 156.23,264.38 156.54,259.55 156.85,261.75 157.16,259.79 157.47,259.52 157.78,260.94 158.08,259.87 158.39,260.68 158.70,258.77 159.01,259.41 159.32,262.00 159.63,262.10 159.94,256.34 160.25,260.90 160.56,258.20 160.87,259.68 161.18,262.04 161.49,262.50 161.80,260.35 162.11,260.02 162.42,259.13 162.73,263.78 163.03,262.12 163.34,260.88 163.65,256.70 163.96,266.48 164.27,259.57 164.58,261.98 164.89,259.58 165.20,261.87 165.51,259.75 165.82,256.79 166.13,259.78 166.44,259.58 166.75,259.73 167.06,262.50 167.37,259.31 167.68,261.16 167.98,262.65 168.29,260.75 168.60,261.21 168.91,258.79 169.22,260.76 169.53,261.96 169.84,257.05 170.15,258.21 170.46,257.51 170.77,259.15 171.08,260.89 171.39,261.63 171.70,261.25 172.01,258.19 172.32,260.23 172.63,264.14 172.93,260.54 173.24,263.91 173.55,259.98 173.86,263.33 174.17,263.45 174.48,260.01 174.79,260.46 175.10,264.34 175.41,258.36 175.72,254.84 176.03,263.81 176.34,255.63 176.65,261.79 176.96,261.28 177.27,260.47 177.58,263.57 177.88,256.76 178.19,258.73 178.50,261.77 178.81,260.57 179.12,263.60 179.43,260.68 179.74,257.48 180.05,264.00 180.36,260.81 180.67,259.34 180.98,257.59 181.29,257.47 181.60,262.55 181.91,263.87 182.22,261.55 182.53,264.18 182.83,264.67 183.14,261.86 183.45,260.97 183.76,265.11 184.07,266.86 184.38,265.60 184.69,272.29 185.00,268.30" fill="none" stroke="#111111" stroke-width="1.35" stroke-linejoin="round" />
<polyline points="43.00,305.30 43.31,282.60 43.62,275.38 43.93,273.96 44.24,269.59 44.55,277.76 44.86,275.68 45.17,277.72 45.47,273.59 45.78,269.81 46.09,272.90 46.40,271.02 46.71,278.59 47.02,271.73 47.33,275.00 47.64,266.42 47.95,269.37 48.26,269.25 48.57,272.59 48.88,270.50 49.19,270.44 49.50,273.76 49.81,274.34 50.12,273.18 50.42,274.85 50.73,274.90 51.04,275.48 51.35,278.99 51.66,276.23 51.97,285.93 52.28,279.85 52.59,284.56 52.90,284.34 53.21,286.98 53.52,283.12 53.83,283.49 54.14,282.11 54.45,284.49 54.76,282.50 55.07,276.97 55.37,281.56 55.68,284.77 55.99,279.88 56.30,283.41 56.61,281.11 56.92,281.09 57.23,284.37 57.54,289.38 57.85,284.31 58.16,281.44 58.47,284.49 58.78,281.88 59.09,280.17 59.40,285.13 59.71,279.43 60.02,278.21 60.32,279.93 60.63,279.61 60.94,279.79 61.25,276.01 61.56,282.65 61.87,283.20 62.18,281.22 62.49,286.06 62.80,288.10 63.11,285.89 63.42,281.79 63.73,281.43 64.04,287.88 64.35,288.96 64.66,283.85 64.97,283.40 65.27,282.91 65.58,280.54 65.89,278.70 66.20,281.88 66.51,280.61 66.82,286.08 67.13,286.30 67.44,281.26 67.75,279.39 68.06,278.71 68.37,278.65 68.68,277.55 68.99,276.98 69.30,284.77 69.61,280.69 69.92,274.57 70.22,271.84 70.53,276.37 70.84,265.42 71.15,269.67 71.46,269.00 71.77,267.37 72.08,265.83 72.39,272.88 72.70,265.05 73.01,268.00 73.32,270.74 73.63,269.14 73.94,275.31 74.25,270.34 74.56,267.66 74.86,270.54 75.17,269.31 75.48,268.72 75.79,268.09 76.10,264.95 76.41,268.33 76.72,269.09 77.03,266.51 77.34,261.54 77.65,269.36 77.96,266.59 78.27,273.34 78.58,263.89 78.89,266.07 79.20,263.85 79.51,268.31 79.81,271.44 80.12,265.17 80.43,265.56 80.74,270.75 81.05,272.67 81.36,266.42 81.67,268.38 81.98,259.35 82.29,269.73 82.60,269.41 82.91,268.02 83.22,273.00 83.53,270.45 83.84,262.22 84.15,267.92 84.46,269.42 84.76,271.52 85.07,265.50 85.38,265.20 85.69,266.40 86.00,268.25 86.31,265.77 86.62,265.29 86.93,268.48 87.24,264.04 87.55,272.64 87.86,269.74 88.17,266.32 88.48,265.45 88.79,268.62 89.10,263.57 89.41,260.98 89.71,262.70 90.02,263.19 90.33,261.01 90.64,262.24 90.95,267.45 91.26,264.62 91.57,260.00 91.88,268.05 92.19,264.38 92.50,266.05 92.81,267.90 93.12,268.47 93.43,265.09 93.74,264.60 94.05,264.83 94.36,270.70 94.66,267.17 94.97,266.29 95.28,266.63 95.59,269.79 95.90,271.55 96.21,272.97 96.52,274.21 96.83,279.59 97.14,276.85 97.45,279.42 97.76,284.90 98.07,282.72 98.38,270.62 98.69,281.06 99.00,284.78 99.31,279.51 99.61,272.79 99.92,277.88 100.23,276.37 100.54,278.52 100.85,277.88 101.16,273.48 101.47,274.96 101.78,277.76 102.09,274.56 102.40,273.93 102.71,278.07 103.02,276.45 103.33,276.46 103.64,279.40 103.95,273.48 104.25,277.69 104.56,279.11 104.87,282.48 105.18,281.12 105.49,272.06 105.80,280.63 106.11,275.52 106.42,278.05 106.73,275.17 107.04,274.67 107.35,278.71 107.66,276.73 107.97,275.05 108.28,274.59 108.59,274.64 108.90,275.14 109.20,271.68 109.51,269.05 109.82,271.22 110.13,275.23 110.44,271.44 110.75,272.40 111.06,270.98 111.37,266.39 111.68,272.91 111.99,272.13 112.30,274.84 112.61,272.78 112.92,273.56 113.23,266.43 113.54,270.49 113.85,273.20 114.15,265.00 114.46,275.39 114.77,268.20 115.08,267.57 115.39,268.88 115.70,271.45 116.01,270.90 116.32,271.47 116.63,267.70 116.94,277.65 117.25,271.69 117.56,269.47 117.87,271.75 118.18,275.66 118.49,270.49 118.80,272.07 119.10,266.96 119.41,264.95 119.72,269.15 120.03,275.54 120.34,269.85 120.65,272.11 120.96,266.84 121.27,263.50 121.58,267.86 121.89,262.23 122.20,263.82 122.51,266.38 122.82,271.33 123.13,267.79 123.44,272.71 123.75,264.58 124.05,267.38 124.36,263.03 124.67,266.24 124.98,273.15 125.29,264.50 125.60,263.30 125.91,260.65 126.22,268.88 126.53,268.45 126.84,264.98 127.15,268.32 127.46,269.09 127.77,267.91 128.08,255.74 128.39,266.04 128.69,267.26 129.00,265.41 129.31,263.94 129.62,259.75 129.93,260.83 130.24,261.30 130.55,263.66 130.86,263.26 131.17,265.78 131.48,268.55 131.79,257.06 132.10,265.08 132.41,260.29 132.72,264.55 133.03,263.78 133.34,263.95 133.64,267.86 133.95,263.63 134.26,262.10 134.57,260.62 134.88,261.66 135.19,259.92 135.50,262.23 135.81,263.16 136.12,269.46 136.43,264.80 136.74,258.01 137.05,262.60 137.36,260.37 137.67,263.59 137.98,265.04 138.29,256.21 138.59,261.63 138.90,257.92 139.21,260.99 139.52,263.62 139.83,269.87 140.14,262.29 140.45,267.60 140.76,269.68 141.07,258.45 141.38,260.09 141.69,260.31 142.00,262.18 142.31,262.42 142.62,260.91 142.93,261.75 143.24,262.01 143.54,259.82 143.85,270.14 144.16,259.30 144.47,264.21 144.78,259.39 145.09,258.34 145.40,264.85 145.71,259.55 146.02,259.58 146.33,264.41 146.64,263.85 146.95,261.77 147.26,269.34 147.57,263.58 147.88,261.52 148.19,263.56 148.49,267.27 148.80,263.35 149.11,257.16 149.42,257.76 149.73,262.42 150.04,264.62 150.35,262.05 150.66,261.93 150.97,264.15 151.28,263.02 151.59,259.90 151.90,258.88 152.21,269.76 152.52,258.70 152.83,261.40 153.14,258.10 153.44,261.86 153.75,260.35 154.06,256.45 154.37,271.34 154.68,256.57 154.99,261.08 155.30,267.57 155.61,270.27 155.92,260.63 156.23,264.94 156.54,258.35 156.85,260.88 157.16,261.99 157.47,258.32 157.78,260.89 158.08,259.09 158.39,258.78 158.70,260.41 159.01,258.88 159.32,258.86 159.63,265.81 159.94,262.25 160.25,261.74 160.56,262.55 160.87,266.44 161.18,263.12 161.49,260.17 161.80,260.63 162.11,256.30 162.42,263.17 162.73,262.58 163.03,263.02 163.34,262.17 163.65,263.08 163.96,267.15 164.27,259.97 164.58,257.87 164.89,257.42 165.20,264.53 165.51,261.63 165.82,255.01 166.13,261.31 166.44,259.81 166.75,261.41 167.06,257.65 167.37,257.75 167.68,253.34 167.98,259.22 168.29,259.37 168.60,264.71 168.91,262.10 169.22,263.02 169.53,261.79 169.84,264.95 170.15,256.76 170.46,264.08 170.77,259.77 171.08,264.69 171.39,259.47 171.70,255.21 172.01,263.18 172.32,259.33 172.63,260.69 172.93,259.53 173.24,259.06 173.55,262.44 173.86,260.94 174.17,262.23 174.48,262.96 174.79,264.24 175.10,257.12 175.41,262.59 175.72,258.03 176.03,258.36 176.34,263.35 176.65,256.70 176.96,262.84 177.27,258.00 177.58,255.29 177.88,262.28 178.19,262.94 178.50,262.96 178.81,252.47 179.12,261.07 179.43,263.91 179.74,257.17 180.05,260.34 180.36,259.85 180.67,262.94 180.98,266.59 181.29,261.35 181.60,261.96 181.91,263.40 182.22,261.27 182.53,260.41 182.83,254.33 183.14,254.24 183.45,254.44 183.76,257.90 184.07,260.66 184.38,256.05 184.69,255.94 185.00,254.60" fill="none" stroke="#f21212" stroke-width="1.35" stroke-linejoin="round" />
<path d="M293.70,210.10 V304.10 H434.00" fill="none" stroke="#2a2a2a" stroke-width="1.2"/>
<path d="M291.40,304.10 H293.70" stroke="#2a2a2a" stroke-width="1.1"/>
<text x="290.50" y="306.50" font-size="6.8" font-weight="bold" text-anchor="end" fill="#000" >0</text>
<path d="M291.40,285.30 H293.70" stroke="#2a2a2a" stroke-width="1.1"/>
<text x="290.50" y="287.70" font-size="6.8" font-weight="bold" text-anchor="end" fill="#000" >1</text>
<path d="M291.40,266.50 H293.70" stroke="#2a2a2a" stroke-width="1.1"/>
<text x="290.50" y="268.90" font-size="6.8" font-weight="bold" text-anchor="end" fill="#000" >2</text>
<path d="M291.40,247.70 H293.70" stroke="#2a2a2a" stroke-width="1.1"/>
<text x="290.50" y="250.10" font-size="6.8" font-weight="bold" text-anchor="end" fill="#000" >3</text>
<path d="M291.40,228.90 H293.70" stroke="#2a2a2a" stroke-width="1.1"/>
<text x="290.50" y="231.30" font-size="6.8" font-weight="bold" text-anchor="end" fill="#000" >4</text>
<path d="M291.40,210.10 H293.70" stroke="#2a2a2a" stroke-width="1.1"/>
<text x="290.50" y="212.50" font-size="6.8" font-weight="bold" text-anchor="end" fill="#000" >5</text>
<path d="M293.70,304.10 V306.40" stroke="#2a2a2a" stroke-width="1.1"/>
<text x="293.70" y="315.00" font-size="6.8" font-weight="bold" text-anchor="middle" fill="#000" >0</text>
<path d="M321.76,304.10 V306.40" stroke="#2a2a2a" stroke-width="1.1"/>
<text x="321.76" y="315.00" font-size="6.8" font-weight="bold" text-anchor="middle" fill="#000" >20</text>
<path d="M349.82,304.10 V306.40" stroke="#2a2a2a" stroke-width="1.1"/>
<text x="349.82" y="315.00" font-size="6.8" font-weight="bold" text-anchor="middle" fill="#000" >40</text>
<path d="M377.88,304.10 V306.40" stroke="#2a2a2a" stroke-width="1.1"/>
<text x="377.88" y="315.00" font-size="6.8" font-weight="bold" text-anchor="middle" fill="#000" >60</text>
<path d="M405.94,304.10 V306.40" stroke="#2a2a2a" stroke-width="1.1"/>
<text x="405.94" y="315.00" font-size="6.8" font-weight="bold" text-anchor="middle" fill="#000" >80</text>
<path d="M434.00,304.10 V306.40" stroke="#2a2a2a" stroke-width="1.1"/>
<text x="434.00" y="315.00" font-size="6.8" font-weight="bold" text-anchor="middle" fill="#000" >100</text>
<text transform="translate(278.30,256.30) rotate(-90)" font-size="7.9" font-weight="bold" text-anchor="middle" textLength="64" lengthAdjust="spacingAndGlyphs">Protein RMSD (?)</text>
<text x="363.85" y="328.60" font-size="7.8" font-weight="bold" text-anchor="middle" fill="#000" >Time (nsec)</text>
<text x="335.40" y="199.20" font-size="9" font-weight="bold" textLength="56.90" lengthAdjust="spacingAndGlyphs">RMSD-L-7mqj</text>
<path d="M444.20,216.40 h9.8" stroke="#f21212" stroke-width="1.6"/>
<path d="M444.20,227.20 h9.8" stroke="#111111" stroke-width="1.6"/>
<text x="460.20" y="219.10" font-size="7.5" font-weight="normal" text-anchor="start" fill="#111" >PDB</text>
<text x="460.20" y="229.90" font-size="7.5" font-weight="normal" text-anchor="start" fill="#111" >Alphafold</text>
<polyline points="293.70,248.77 294.01,245.66 294.31,252.59 294.62,244.24 294.92,247.42 295.23,247.95 295.53,246.79 295.84,246.23 296.15,242.92 296.45,239.17 296.76,238.37 297.06,236.88 297.37,240.78 297.67,239.14 297.98,230.63 298.28,230.17 298.59,225.66 298.90,226.08 299.20,229.34 299.51,222.36 299.81,222.06 300.12,221.69 300.42,223.62 300.73,221.35 301.04,221.28 301.34,218.53 301.65,219.85 301.95,216.15 302.26,221.62 302.56,219.63 302.87,220.39 303.18,224.28 303.48,225.82 303.79,225.25 304.09,231.28 304.40,233.26 304.70,229.13 305.01,228.68 305.32,223.75 305.62,222.79 305.93,221.01 306.23,219.27 306.54,222.32 306.84,219.70 307.15,224.00 307.45,222.38 307.76,224.87 308.07,222.07 308.37,221.73 308.68,222.41 308.98,222.63 309.29,219.06 309.59,218.93 309.90,224.94 310.21,219.61 310.51,226.20 310.82,223.91 311.12,222.58 311.43,221.87 311.73,224.42 312.04,223.61 312.35,221.74 312.65,223.41 312.96,223.23 313.26,220.21 313.57,219.54 313.87,221.71 314.18,221.47 314.49,221.48 314.79,222.35 315.10,222.12 315.40,222.96 315.71,218.80 316.01,220.09 316.32,219.86 316.62,218.74 316.93,217.64 317.24,215.27 317.54,218.74 317.85,218.67 318.15,217.45 318.46,220.30 318.76,216.00 319.07,217.26 319.38,218.27 319.68,220.58 319.99,219.13 320.29,218.91 320.60,220.90 320.90,223.48 321.21,227.47 321.52,222.35 321.82,226.10 322.13,228.03 322.43,224.93 322.74,227.60 323.04,233.06 323.35,231.57 323.66,233.44 323.96,232.09 324.27,237.94 324.57,233.51 324.88,231.93 325.18,227.39 325.49,232.01 325.79,235.18 326.10,231.07 326.41,227.32 326.71,226.06 327.02,223.95 327.32,226.93 327.63,229.61 327.93,225.78 328.24,227.77 328.55,228.17 328.85,227.64 329.16,224.78 329.46,229.66 329.77,229.91 330.07,227.72 330.38,227.69 330.69,229.35 330.99,229.46 331.30,226.60 331.60,224.40 331.91,225.78 332.21,225.82 332.52,224.52 332.83,231.80 333.13,230.68 333.44,228.84 333.74,229.91 334.05,229.42 334.35,227.00 334.66,230.03 334.96,228.10 335.27,231.68 335.58,229.24 335.88,223.98 336.19,228.22 336.49,226.24 336.80,225.35 337.10,228.04 337.41,225.61 337.72,226.41 338.02,225.30 338.33,228.28 338.63,230.08 338.94,229.11 339.24,228.04 339.55,225.56 339.86,227.21 340.16,227.63 340.47,227.11 340.77,224.21 341.08,227.96 341.38,223.24 341.69,229.39 341.99,227.94 342.30,224.65 342.61,225.40 342.91,228.47 343.22,226.77 343.52,228.10 343.83,224.56 344.13,225.24 344.44,228.05 344.75,225.52 345.05,227.23 345.36,226.54 345.66,226.21 345.97,227.61 346.27,225.36 346.58,225.26 346.89,225.32 347.19,223.76 347.50,226.85 347.80,229.56 348.11,227.30 348.41,225.72 348.72,226.10 349.03,224.83 349.33,224.29 349.64,226.36 349.94,226.34 350.25,228.33 350.55,223.79 350.86,226.74 351.16,228.60 351.47,228.69 351.78,227.13 352.08,222.70 352.39,224.48 352.69,230.07 353.00,226.54 353.30,225.68 353.61,224.88 353.92,225.54 354.22,227.78 354.53,225.42 354.83,227.62 355.14,231.44 355.44,228.00 355.75,227.97 356.06,224.29 356.36,224.07 356.67,228.83 356.97,226.10 357.28,226.30 357.58,229.77 357.89,231.18 358.20,226.77 358.50,226.27 358.81,227.94 359.11,232.73 359.42,226.70 359.72,227.93 360.03,228.58 360.33,227.24 360.64,229.00 360.95,225.13 361.25,226.31 361.56,227.54 361.86,225.58 362.17,226.23 362.47,229.52 362.78,226.36 363.09,227.01 363.39,229.85 363.70,227.33 364.00,224.84 364.31,227.14 364.61,222.51 364.92,221.79 365.23,226.25 365.53,224.26 365.84,220.95 366.14,226.13 366.45,227.35 366.75,226.22 367.06,228.31 367.37,228.19 367.67,224.62 367.98,225.97 368.28,224.42 368.59,223.81 368.89,226.58 369.20,225.23 369.50,225.34 369.81,226.18 370.12,226.50 370.42,223.85 370.73,224.81 371.03,223.69 371.34,222.12 371.64,222.03 371.95,226.77 372.26,226.13 372.56,224.93 372.87,224.22 373.17,222.54 373.48,226.98 373.78,225.95 374.09,224.56 374.40,222.50 374.70,222.31 375.01,227.85 375.31,226.21 375.62,227.71 375.92,224.13 376.23,225.18 376.54,227.15 376.84,227.88 377.15,225.99 377.45,224.59 377.76,228.69 378.06,227.83 378.37,226.98 378.67,227.33 378.98,226.75 379.29,229.90 379.59,229.13 379.90,232.66 380.20,227.93 380.51,225.78 380.81,232.97 381.12,229.89 381.43,226.58 381.73,229.06 382.04,233.15 382.34,226.38 382.65,232.37 382.95,226.19 383.26,230.74 383.57,231.15 383.87,229.64 384.18,229.88 384.48,228.61 384.79,228.97 385.09,230.58 385.40,227.39 385.71,228.91 386.01,230.03 386.32,230.48 386.62,231.04 386.93,231.05 387.23,229.42 387.54,229.89 387.84,230.92 388.15,228.77 388.46,231.69 388.76,230.16 389.07,229.25 389.37,233.75 389.68,231.88 389.98,227.56 390.29,233.53 390.60,228.82 390.90,233.86 391.21,230.60 391.51,233.96 391.82,232.99 392.12,232.49 392.43,232.93 392.74,229.46 393.04,229.90 393.35,229.87 393.65,231.44 393.96,228.23 394.26,229.65 394.57,231.28 394.87,234.42 395.18,230.56 395.49,230.68 395.79,231.98 396.10,230.63 396.40,230.55 396.71,233.00 397.01,231.10 397.32,231.64 397.63,231.76 397.93,233.28 398.24,233.60 398.54,232.34 398.85,229.42 399.15,227.34 399.46,233.32 399.77,234.76 400.07,233.05 400.38,234.06 400.68,233.01 400.99,231.07 401.29,233.93 401.60,230.39 401.91,229.39 402.21,226.80 402.52,225.16 402.82,226.06 403.13,222.24 403.43,227.52 403.74,224.82 404.04,224.72 404.35,224.06 404.66,222.69 404.96,225.68 405.27,221.04 405.57,221.97 405.88,224.01 406.18,223.69 406.49,226.88 406.80,230.24 407.10,224.78 407.41,223.82 407.71,223.97 408.02,226.91 408.32,225.40 408.63,220.38 408.94,222.64 409.24,222.84 409.55,224.87 409.85,222.46 410.16,221.18 410.46,222.32 410.77,224.88 411.08,223.28 411.38,225.85 411.69,224.50 411.99,222.44 412.30,224.92 412.60,224.18 412.91,220.39 413.21,223.98 413.52,221.88 413.83,224.26 414.13,226.13 414.44,223.57 414.74,224.38 415.05,228.07 415.35,226.26 415.66,224.50 415.97,220.24 416.27,224.83 416.58,223.61 416.88,222.12 417.19,222.88 417.49,224.28 417.80,219.71 418.11,220.51 418.41,228.97 418.72,221.35 419.02,222.28 419.33,221.30 419.63,223.28 419.94,221.63 420.25,219.16 420.55,219.64 420.86,219.46 421.16,221.10 421.47,221.38 421.77,221.34 422.08,225.94 422.38,218.35 422.69,222.90 423.00,222.69 423.30,223.15 423.61,222.35 423.91,228.15 424.22,222.88 424.52,226.23 424.83,225.60 425.14,227.55 425.44,227.22 425.75,222.06 426.05,224.47 426.36,223.60 426.66,223.74 426.97,225.96 427.28,224.94 427.58,226.17 427.89,224.04 428.19,228.31 428.50,224.22 428.80,221.29 429.11,220.63 429.42,220.76 429.72,222.21 430.03,225.57 430.33,221.28 430.64,222.15 430.94,222.71 431.25,226.02 431.55,222.42 431.86,220.13 432.17,221.62 432.47,223.79 432.78,222.05 433.08,223.26 433.39,222.87 433.69,221.37 434.00,222.48" fill="none" stroke="#111111" stroke-width="1.35" stroke-linejoin="round" />
<polyline points="293.70,304.10 294.01,295.89 294.31,283.93 294.62,275.91 294.92,265.92 295.23,273.26 295.53,261.67 295.84,257.61 296.15,262.02 296.45,263.13 296.76,259.10 297.06,256.53 297.37,253.29 297.67,257.50 297.98,255.07 298.28,261.92 298.59,263.30 298.90,266.10 299.20,264.12 299.51,261.39 299.81,259.44 300.12,264.48 300.42,257.22 300.73,260.26 301.04,261.88 301.34,262.09 301.65,252.46 301.95,258.52 302.26,261.92 302.56,261.91 302.87,252.26 303.18,260.23 303.48,254.04 303.79,253.05 304.09,265.52 304.40,252.88 304.70,257.95 305.01,260.74 305.32,258.81 305.62,254.97 305.93,255.50 306.23,255.22 306.54,259.01 306.84,252.13 307.15,251.27 307.45,250.05 307.76,252.76 308.07,249.64 308.37,248.86 308.68,253.46 308.98,252.76 309.29,253.67 309.59,253.67 309.90,252.51 310.21,261.11 310.51,256.32 310.82,253.47 311.12,262.15 311.43,259.80 311.73,249.46 312.04,258.30 312.35,256.19 312.65,253.24 312.96,256.02 313.26,257.22 313.57,255.98 313.87,255.61 314.18,256.06 314.49,253.41 314.79,248.51 315.10,252.68 315.40,248.32 315.71,251.25 316.01,250.85 316.32,251.63 316.62,254.56 316.93,252.05 317.24,252.39 317.54,257.11 317.85,250.74 318.15,251.25 318.46,251.89 318.76,254.96 319.07,261.91 319.38,247.97 319.68,253.10 319.99,260.16 320.29,250.53 320.60,255.03 320.90,250.27 321.21,252.87 321.52,248.62 321.82,251.60 322.13,251.40 322.43,251.80 322.74,248.10 323.04,256.61 323.35,248.20 323.66,249.82 323.96,253.98 324.27,252.07 324.57,253.53 324.88,251.78 325.18,248.76 325.49,254.20 325.79,249.34 326.10,248.64 326.41,249.62 326.71,246.45 327.02,251.94 327.32,249.31 327.63,243.23 327.93,251.48 328.24,252.00 328.55,251.48 328.85,249.46 329.16,253.50 329.46,252.20 329.77,257.27 330.07,254.84 330.38,254.70 330.69,255.13 330.99,252.67 331.30,248.78 331.60,252.38 331.91,255.52 332.21,250.18 332.52,250.38 332.83,255.66 333.13,250.37 333.44,254.47 333.74,252.93 334.05,253.25 334.35,247.94 334.66,253.47 334.96,251.72 335.27,249.98 335.58,247.06 335.88,246.51 336.19,253.90 336.49,246.38 336.80,249.32 337.10,246.23 337.41,246.65 337.72,251.96 338.02,249.96 338.33,251.03 338.63,248.71 338.94,244.32 339.24,249.67 339.55,252.05 339.86,241.17 340.16,253.05 340.47,249.62 340.77,249.62 341.08,253.81 341.38,246.77 341.69,245.79 341.99,249.61 342.30,249.08 342.61,249.77 342.91,255.12 343.22,248.27 343.52,253.25 343.83,252.22 344.13,247.58 344.44,245.73 344.75,251.74 345.05,244.89 345.36,242.71 345.66,248.11 345.97,249.22 346.27,248.54 346.58,250.86 346.89,252.66 347.19,247.86 347.50,247.89 347.80,252.28 348.11,252.23 348.41,253.24 348.72,253.78 349.03,254.95 349.33,257.04 349.64,249.17 349.94,253.58 350.25,252.19 350.55,246.39 350.86,254.10 351.16,250.54 351.47,257.06 351.78,254.64 352.08,250.21 352.39,253.46 352.69,257.42 353.00,257.79 353.30,251.51 353.61,255.81 353.92,250.41 354.22,251.80 354.53,253.82 354.83,252.99 355.14,250.26 355.44,252.70 355.75,256.01 356.06,251.73 356.36,254.05 356.67,253.66 356.97,251.00 357.28,251.83 357.58,249.55 357.89,253.59 358.20,254.51 358.50,254.15 358.81,251.77 359.11,255.74 359.42,254.27 359.72,255.90 360.03,255.70 360.33,253.72 360.64,245.11 360.95,254.44 361.25,252.33 361.56,252.89 361.86,253.80 362.17,253.14 362.47,246.76 362.78,254.14 363.09,247.99 363.39,251.17 363.70,256.22 364.00,255.49 364.31,254.84 364.61,256.89 364.92,249.48 365.23,251.89 365.53,251.48 365.84,256.61 366.14,251.65 366.45,254.94 366.75,245.12 367.06,253.43 367.37,252.17 367.67,251.72 367.98,254.63 368.28,254.34 368.59,254.32 368.89,250.19 369.20,255.39 369.50,253.49 369.81,251.86 370.12,254.27 370.42,257.41 370.73,256.81 371.03,254.24 371.34,256.03 371.64,249.65 371.95,252.76 372.26,252.88 372.56,256.10 372.87,251.03 373.17,253.91 373.48,255.85 373.78,254.80 374.09,244.84 374.40,254.66 374.70,255.50 375.01,248.83 375.31,250.18 375.62,253.52 375.92,248.03 376.23,257.36 376.54,254.10 376.84,257.90 377.15,248.00 377.45,252.34 377.76,243.95 378.06,250.89 378.37,250.75 378.67,255.95 378.98,256.04 379.29,253.69 379.59,249.05 379.90,255.36 380.20,259.69 380.51,249.01 380.81,248.73 381.12,254.67 381.43,250.14 381.73,247.83 382.04,247.58 382.34,256.50 382.65,251.07 382.95,253.74 383.26,247.96 383.57,250.75 383.87,254.95 384.18,250.55 384.48,248.87 384.79,255.84 385.09,255.12 385.40,252.83 385.71,251.52 386.01,252.31 386.32,256.39 386.62,255.44 386.93,250.32 387.23,248.75 387.54,252.95 387.84,249.58 388.15,244.25 388.46,251.49 388.76,252.58 389.07,253.79 389.37,250.23 389.68,251.35 389.98,251.61 390.29,254.00 390.60,251.73 390.90,252.05 391.21,254.22 391.51,250.25 391.82,259.56 392.12,252.16 392.43,254.94 392.74,251.75 393.04,248.25 393.35,254.38 393.65,255.19 393.96,254.63 394.26,249.99 394.57,249.47 394.87,254.04 395.18,252.45 395.49,248.65 395.79,252.83 396.10,259.60 396.40,257.34 396.71,256.25 397.01,253.35 397.32,256.54 397.63,250.07 397.93,256.27 398.24,249.49 398.54,256.90 398.85,250.25 399.15,254.11 399.46,250.02 399.77,248.23 400.07,248.94 400.38,251.30 400.68,257.27 400.99,257.50 401.29,265.40 401.60,249.90 401.91,250.60 402.21,251.42 402.52,258.63 402.82,245.65 403.13,257.11 403.43,251.98 403.74,260.31 404.04,256.96 404.35,250.82 404.66,251.49 404.96,258.57 405.27,255.26 405.57,251.24 405.88,261.18 406.18,252.45 406.49,260.22 406.80,252.92 407.10,255.91 407.41,251.75 407.71,256.79 408.02,256.26 408.32,256.29 408.63,258.33 408.94,256.08 409.24,258.57 409.55,257.07 409.85,252.90 410.16,256.28 410.46,251.60 410.77,252.83 411.08,252.42 411.38,259.03 411.69,253.81 411.99,250.37 412.30,252.16 412.60,251.08 412.91,250.09 413.21,260.29 413.52,253.29 413.83,253.36 414.13,255.86 414.44,259.61 414.74,254.71 415.05,255.74 415.35,248.64 415.66,250.79 415.97,256.58 416.27,258.75 416.58,258.06 416.88,255.38 417.19,257.64 417.49,248.55 417.80,259.21 418.11,255.50 418.41,254.70 418.72,253.79 419.02,258.30 419.33,255.93 419.63,254.56 419.94,254.06 420.25,257.04 420.55,256.02 420.86,254.16 421.16,248.37 421.47,258.76 421.77,252.27 422.08,249.20 422.38,259.11 422.69,249.45 423.00,249.49 423.30,253.90 423.61,250.78 423.91,248.93 424.22,254.31 424.52,252.94 424.83,257.21 425.14,255.83 425.44,253.17 425.75,253.61 426.05,247.79 426.36,253.86 426.66,257.09 426.97,249.95 427.28,249.74 427.58,251.41 427.89,253.11 428.19,255.21 428.50,254.65 428.80,247.27 429.11,249.67 429.42,251.86 429.72,250.71 430.03,253.36 430.33,255.44 430.64,254.06 430.94,252.80 431.25,258.28 431.55,257.76 431.86,258.88 432.17,254.75 432.47,251.34 432.78,258.04 433.08,257.54 433.39,259.27 433.69,255.60 434.00,258.19" fill="none" stroke="#f21212" stroke-width="1.35" stroke-linejoin="round" />
<path d="M40.75,358.80 V454.30 H185.00" fill="none" stroke="#2a2a2a" stroke-width="1.2"/>
<path d="M38.45,454.30 H40.75" stroke="#2a2a2a" stroke-width="1.1"/>
<text x="37.55" y="456.70" font-size="6.8" font-weight="bold" text-anchor="end" fill="#000" >0</text>
<path d="M38.45,435.20 H40.75" stroke="#2a2a2a" stroke-width="1.1"/>
<text x="37.55" y="437.60" font-size="6.8" font-weight="bold" text-anchor="end" fill="#000" >1</text>
<path d="M38.45,416.10 H40.75" stroke="#2a2a2a" stroke-width="1.1"/>
<text x="37.55" y="418.50" font-size="6.8" font-weight="bold" text-anchor="end" fill="#000" >2</text>
<path d="M38.45,397.00 H40.75" stroke="#2a2a2a" stroke-width="1.1"/>
<text x="37.55" y="399.40" font-size="6.8" font-weight="bold" text-anchor="end" fill="#000" >3</text>
<path d="M38.45,377.90 H40.75" stroke="#2a2a2a" stroke-width="1.1"/>
<text x="37.55" y="380.30" font-size="6.8" font-weight="bold" text-anchor="end" fill="#000" >4</text>
<path d="M38.45,358.80 H40.75" stroke="#2a2a2a" stroke-width="1.1"/>
<text x="37.55" y="361.20" font-size="6.8" font-weight="bold" text-anchor="end" fill="#000" >5</text>
<path d="M40.75,454.30 V456.60" stroke="#2a2a2a" stroke-width="1.1"/>
<text x="40.75" y="465.30" font-size="6.8" font-weight="bold" text-anchor="middle" fill="#000" >0</text>
<path d="M88.83,454.30 V456.60" stroke="#2a2a2a" stroke-width="1.1"/>
<text x="88.83" y="465.30" font-size="6.8" font-weight="bold" text-anchor="middle" fill="#000" >50</text>
<path d="M136.92,454.30 V456.60" stroke="#2a2a2a" stroke-width="1.1"/>
<text x="136.92" y="465.30" font-size="6.8" font-weight="bold" text-anchor="middle" fill="#000" >100</text>
<path d="M185.00,454.30 V456.60" stroke="#2a2a2a" stroke-width="1.1"/>
<text x="185.00" y="465.30" font-size="6.8" font-weight="bold" text-anchor="middle" fill="#000" >150</text>
<text transform="translate(26.70,405.40) rotate(-90)" font-size="7.9" font-weight="bold" text-anchor="middle" textLength="64" lengthAdjust="spacingAndGlyphs">Protein RMSF (?)</text>
<text x="112.88" y="477.80" font-size="7.8" font-weight="bold" text-anchor="middle" fill="#000" >Residue</text>
<text x="82.10" y="347.50" font-size="9" font-weight="bold" textLength="61.90" lengthAdjust="spacingAndGlyphs">RMSF-H-7wwz</text>
<path d="M194.20,364.70 h9.8" stroke="#f21212" stroke-width="1.6"/>
<path d="M194.20,375.50 h9.8" stroke="#111111" stroke-width="1.6"/>
<text x="210.20" y="367.40" font-size="7.5" font-weight="normal" text-anchor="start" fill="#111" >PDB</text>
<text x="210.20" y="378.20" font-size="7.5" font-weight="normal" text-anchor="start" fill="#111" >Alphafold</text>
<polyline points="40.75,377.90 41.71,400.82 42.67,423.74 43.63,437.11 44.60,439.98 46.52,439.98 48.44,436.16 50.37,430.43 51.33,429.47 52.29,433.29 54.21,438.06 56.14,436.16 58.06,440.93 59.98,444.75 63.83,445.70 67.68,443.80 70.56,441.88 73.45,439.02 76.33,439.98 79.22,439.02 82.10,431.38 84.03,419.92 85.95,410.37 87.87,418.01 89.80,429.47 90.76,433.29 92.68,432.34 93.64,436.16 95.56,434.25 97.49,439.02 99.41,443.80 102.30,445.70 108.07,444.75 110.95,441.88 113.84,443.80 117.68,444.75 122.49,443.80 127.30,444.75 132.11,442.84 134.99,438.06 136.92,432.34 138.84,439.02 141.72,442.84 146.53,443.80 151.34,444.75 155.19,443.80 158.07,440.93 160.00,431.38 160.96,412.28 161.92,391.27" fill="none" stroke="#111111" stroke-width="1.1" stroke-linejoin="round" />
<polyline points="40.75,366.44 41.71,387.45 42.67,412.28 43.63,427.56 44.60,434.25 46.52,436.16 48.44,431.38 50.37,424.69 51.33,423.74 52.29,427.56 54.21,435.20 57.10,439.02 59.98,441.88 61.91,443.80 64.79,442.84 66.72,439.98 68.64,440.93 70.56,437.11 72.48,430.43 74.41,436.16 76.33,433.29 78.25,436.16 80.18,434.25 82.10,419.92 84.03,400.82 85.95,392.23 87.87,397.00 88.83,400.82 89.80,399.87 90.76,404.64 91.72,408.46 93.64,420.88 94.60,418.01 95.56,423.74 96.53,418.97 98.45,418.97 100.37,437.11 102.30,439.98 106.14,439.98 108.07,439.02 109.99,436.16 110.95,429.47 111.91,435.20 113.84,439.02 117.68,439.02 119.61,437.11 121.53,439.98 124.42,439.02 127.30,438.06 130.19,431.38 132.11,426.61 134.03,428.51 135.95,425.65 136.92,424.69 138.84,434.25 141.72,438.06 144.61,436.16 146.53,439.02 149.42,438.06 152.30,436.16 155.19,435.20 157.11,431.38 159.03,430.43 160.96,420.88" fill="none" stroke="#f21212" stroke-width="1.1" stroke-linejoin="round" />
<path d="M292.70,361.64 V455.00 H432.00" fill="none" stroke="#2a2a2a" stroke-width="1.2"/>
<path d="M290.40,455.00 H292.70" stroke="#2a2a2a" stroke-width="1.1"/>
<text x="289.50" y="457.40" font-size="6.8" font-weight="bold" text-anchor="end" fill="#000" >0</text>
<path d="M290.40,416.10 H292.70" stroke="#2a2a2a" stroke-width="1.1"/>
<text x="289.50" y="418.50" font-size="6.8" font-weight="bold" text-anchor="end" fill="#000" >5</text>
<path d="M290.40,377.20 H292.70" stroke="#2a2a2a" stroke-width="1.1"/>
<text x="289.50" y="379.60" font-size="6.8" font-weight="bold" text-anchor="end" fill="#000" >10</text>
<path d="M292.70,455.00 V457.30" stroke="#2a2a2a" stroke-width="1.1"/>
<text x="292.70" y="466.00" font-size="6.8" font-weight="bold" text-anchor="middle" fill="#000" >0</text>
<path d="M327.52,455.00 V457.30" stroke="#2a2a2a" stroke-width="1.1"/>
<text x="327.52" y="466.00" font-size="6.8" font-weight="bold" text-anchor="middle" fill="#000" >200</text>
<path d="M362.35,455.00 V457.30" stroke="#2a2a2a" stroke-width="1.1"/>
<text x="362.35" y="466.00" font-size="6.8" font-weight="bold" text-anchor="middle" fill="#000" >400</text>
<path d="M397.17,455.00 V457.30" stroke="#2a2a2a" stroke-width="1.1"/>
<text x="397.17" y="466.00" font-size="6.8" font-weight="bold" text-anchor="middle" fill="#000" >600</text>
<path d="M432.00,455.00 V457.30" stroke="#2a2a2a" stroke-width="1.1"/>
<text x="432.00" y="466.00" font-size="6.8" font-weight="bold" text-anchor="middle" fill="#000" >800</text>
<text transform="translate(273.60,408.20) rotate(-90)" font-size="7.9" font-weight="bold" text-anchor="middle" textLength="61.4" lengthAdjust="spacingAndGlyphs">Protein RMSF (?)</text>
<text x="362.35" y="478.80" font-size="7.8" font-weight="bold" text-anchor="middle" fill="#000" >Residue</text>
<text x="334.60" y="350.70" font-size="9" font-weight="bold" textLength="56.90" lengthAdjust="spacingAndGlyphs">RMSF-L-7mqj</text>
<path d="M441.70,368.20 h9.8" stroke="#f21212" stroke-width="1.6"/>
<path d="M441.70,379.00 h9.8" stroke="#111111" stroke-width="1.6"/>
<text x="457.70" y="370.90" font-size="7.5" font-weight="normal" text-anchor="start" fill="#111" >PDB</text>
<text x="457.70" y="381.70" font-size="7.5" font-weight="normal" text-anchor="start" fill="#111" >Alphafold</text>
<polyline points="292.70,420.67 292.87,425.77 293.05,436.57 293.22,440.04 293.40,440.63 293.57,441.82 293.74,444.42 293.92,445.79 294.09,447.13 294.27,446.47 294.44,446.69 294.62,447.07 294.79,448.09 294.96,448.78 295.14,447.74 295.31,447.80 295.49,447.68 295.66,449.03 295.83,449.03 296.01,449.17 296.18,449.33 296.36,449.79 296.53,448.76 296.70,448.59 296.88,447.45 297.05,447.71 297.23,447.64 297.40,448.09 297.58,448.67 297.75,448.43 297.92,448.57 298.10,448.39 298.27,448.81 298.45,448.60 298.62,449.34 298.79,448.84 298.97,449.40 299.14,448.05 299.32,446.86 299.49,445.21 299.66,446.40 299.84,447.64 300.01,449.20 300.19,449.00 300.36,448.51 300.54,447.74 300.71,447.47 300.88,447.77 301.06,448.29 301.23,448.29 301.41,448.89 301.58,448.93 301.75,449.56 301.93,448.71 302.10,449.26 302.28,448.61 302.45,449.58 302.63,449.03 302.80,448.95 302.97,448.89 303.15,449.18 303.32,449.90 303.50,449.63 303.67,449.37 303.84,448.65 304.02,448.34 304.19,447.68 304.37,448.18 304.54,447.29 304.71,446.66 304.89,446.50 305.06,446.86 305.24,447.23 305.41,447.47 305.59,447.09 305.76,448.04 305.93,447.51 306.11,448.89 306.28,448.74 306.46,449.09 306.63,448.31 306.80,448.81 306.98,448.68 307.15,449.66 307.33,449.36 307.50,449.42 307.67,448.91 307.85,449.02 308.02,447.92 308.20,447.52 308.37,447.23 308.55,448.13 308.72,448.81 308.89,449.21 309.07,449.64 309.24,449.34 309.42,448.74 309.59,448.39 309.76,447.53 309.94,447.78 310.11,448.09 310.29,449.49 310.46,449.94 310.63,449.12 310.81,447.79 310.98,447.08 311.16,447.09 311.33,447.62 311.51,448.31 311.68,449.05 311.85,449.52 312.03,449.65 312.20,449.52 312.38,449.41 312.55,449.29 312.72,448.11 312.90,446.89 313.07,446.54 313.25,447.46 313.42,448.07 313.59,448.33 313.77,448.85 313.94,449.53 314.12,449.37 314.29,448.18 314.47,447.06 314.64,445.38 314.81,445.21 314.99,446.50 315.16,448.37 315.34,449.47 315.51,448.99 315.68,449.02 315.86,448.88 316.03,449.23 316.21,447.87 316.38,447.20 316.56,447.35 316.73,448.64 316.90,449.52 317.08,448.52 317.25,448.75 317.43,448.37 317.60,449.54 317.77,447.66 317.95,447.29 318.12,445.73 318.30,446.38 318.47,447.26 318.64,448.57 318.82,448.59 318.99,448.52 319.17,448.34 319.34,447.97 319.52,448.04 319.69,448.22 319.86,449.84 320.04,449.72 320.21,449.91 320.39,449.61 320.56,449.42 320.73,448.58 320.91,447.93 321.08,447.31 321.26,446.91 321.43,447.20 321.60,447.74 321.78,448.22 321.95,447.41 322.13,447.31 322.30,447.92 322.48,447.89 322.65,447.21 322.82,446.55 323.00,446.71 323.17,447.36 323.35,447.59 323.52,448.92 323.69,449.47 323.87,449.23 324.04,449.10 324.22,449.09 324.39,449.12 324.56,448.82 324.74,448.28 324.91,447.41 325.09,446.68 325.26,446.42 325.44,447.20 325.61,447.59 325.78,447.96 325.96,447.56 326.13,448.00 326.31,448.06 326.48,447.73 326.65,447.82 326.83,448.30 327.00,449.23 327.18,447.70 327.35,447.62 327.52,448.35 327.70,450.01 327.87,449.31 328.05,449.36 328.22,448.35 328.40,447.83 328.57,447.70 328.74,448.70 328.92,448.99 329.09,448.02 329.27,446.90 329.44,446.57 329.61,446.98 329.79,447.63 329.96,448.92 330.14,448.82 330.31,449.40 330.49,448.68 330.66,448.91 330.83,448.75 331.01,449.40 331.18,449.08 331.36,448.18 331.53,447.77 331.70,447.37 331.88,447.84 332.05,448.14 332.23,448.46 332.40,448.91 332.57,447.89 332.75,448.39 332.92,448.57 333.10,449.60 333.27,448.46 333.45,447.94 333.62,448.11 333.79,448.71 333.97,448.86 334.14,448.68 334.32,449.35 334.49,449.61 334.66,449.19 334.84,448.78 335.01,448.80 335.19,449.46 335.36,449.78 335.53,449.32 335.71,448.82 335.88,448.74 336.06,448.00 336.23,448.33 336.41,447.82 336.58,448.86 336.75,448.29 336.93,448.86 337.10,448.19 337.28,448.69 337.45,449.03 337.62,449.32 337.80,447.09 337.97,446.43 338.15,446.38 338.32,448.07 338.49,447.85 338.67,448.38 338.84,449.06 339.02,449.24 339.19,448.16 339.37,448.17 339.54,448.33 339.71,449.14 339.89,448.64 340.06,447.77 340.24,447.43 340.41,447.76 340.58,447.61 340.76,445.97 340.93,441.79 341.11,436.15 341.28,430.99 341.45,428.53 341.63,430.95 341.80,435.73 341.98,440.28 342.15,444.80 342.33,447.39 342.50,449.14 342.67,448.97 342.85,448.51 343.02,448.75 343.20,448.54 343.37,448.64 343.54,448.67 343.72,447.99 343.89,447.70 344.07,447.71 344.24,447.71 344.42,448.35 344.59,447.42 344.76,447.77 344.94,446.86 345.11,446.48 345.29,447.49 345.46,447.58 345.63,449.13 345.81,448.65 345.98,447.78 346.16,445.31 346.33,442.01 346.50,439.11 346.68,437.58 346.85,438.45 347.03,441.58 347.20,444.77 347.38,447.09 347.55,446.48 347.72,446.88 347.90,444.36 348.07,442.43 348.25,436.41 348.42,430.41 348.59,424.11 348.77,420.96 348.94,421.73 349.12,426.08 349.29,427.60 349.46,426.23 349.64,419.06 349.81,417.24 349.99,420.94 350.16,431.40 350.34,439.88 350.51,445.56 350.68,447.11 350.86,447.74 351.03,448.18 351.21,448.59 351.38,448.46 351.55,447.30 351.73,447.26 351.90,448.09 352.08,448.88 352.25,448.25 352.42,444.43 352.60,437.85 352.77,434.58 352.95,436.23 353.12,441.51 353.30,445.29 353.47,445.65 353.64,445.96 353.82,446.08 353.99,448.41 354.17,448.54 354.34,448.86 354.51,445.66 354.69,446.70 354.86,446.08 355.04,448.34 355.21,448.51 355.38,448.42 355.56,448.80 355.73,448.62 355.91,448.97 356.08,449.19 356.26,448.68 356.43,449.22 356.60,449.18 356.78,449.54 356.95,449.26 357.13,449.61 357.30,449.45 357.47,448.95 357.65,447.71 357.82,447.79 358.00,448.09 358.17,448.79 358.35,448.66 358.52,447.79 358.69,447.93 358.87,447.57 359.04,448.65 359.22,448.53 359.39,448.36 359.56,446.25 359.74,446.78 359.91,447.54 360.09,449.50 360.26,448.68 360.43,447.68 360.61,447.04 360.78,447.30 360.96,448.36 361.13,449.22 361.31,449.78 361.48,448.67 361.65,448.42 361.83,447.88 362.00,449.24 362.18,448.91 362.35,448.10 362.52,447.70 362.70,447.60 362.87,447.98 363.05,448.20 363.22,448.63 363.39,447.97 363.57,446.58 363.74,444.17 363.92,443.05 364.09,440.74 364.27,441.34 364.44,443.34 364.61,446.31 364.79,447.29 364.96,447.22 365.14,447.44 365.31,448.35 365.48,447.69 365.66,448.22 365.83,448.08 366.01,447.32 366.18,444.30 366.35,444.74 366.53,446.98 366.70,449.15 366.88,448.76 367.05,448.58 367.23,448.49 367.40,447.36 367.57,447.00 367.75,447.32 367.92,447.80 368.10,447.70 368.27,448.03 368.44,449.12 368.62,448.71 368.79,448.22 368.97,446.33 369.14,447.22 369.31,446.98 369.49,448.41 369.66,447.68 369.84,448.52 370.01,448.04 370.19,448.64 370.36,447.90 370.53,447.73 370.71,447.26 370.88,446.89 371.06,447.02 371.23,446.86 371.40,447.55 371.58,448.00 371.75,447.21 371.93,447.53 372.10,447.39 372.28,446.98 372.45,446.05 372.62,446.71 372.80,447.41 372.97,448.56 373.15,448.16 373.32,449.38 373.49,448.28 373.67,447.58 373.84,446.51 374.02,446.14 374.19,445.34 374.36,444.28 374.54,444.18 374.71,442.87 374.89,443.16 375.06,443.57 375.24,446.38 375.41,447.63 375.58,448.04 375.76,447.98 375.93,447.53 376.11,448.22 376.28,447.96 376.45,448.44 376.63,448.69 376.80,448.77 376.98,449.18 377.15,447.36 377.32,445.85 377.50,445.92 377.67,447.39 377.85,448.49 378.02,448.23 378.20,446.88 378.37,445.53 378.54,444.31 378.72,445.67 378.89,446.86 379.07,448.10 379.24,447.96 379.41,449.01 379.59,449.31 379.76,448.18 379.94,446.96 380.11,445.71 380.28,444.11 380.46,442.23 380.63,441.65 380.81,443.55 380.98,444.67 381.16,444.99 381.33,445.62 381.50,446.98 381.68,447.93 381.85,447.54 382.03,447.48 382.20,447.53 382.37,448.56 382.55,448.73 382.72,448.31 382.90,448.19 383.07,447.26 383.25,447.96 383.42,448.17 383.59,447.55 383.77,447.77 383.94,447.53 384.12,448.75 384.29,448.32 384.46,448.40 384.64,448.71 384.81,449.11 384.99,448.23 385.16,448.41 385.33,448.24 385.51,449.05 385.68,448.77 385.86,448.44 386.03,448.36 386.21,447.16 386.38,444.50 386.55,437.94 386.73,435.76 386.90,438.12 387.08,444.24 387.25,447.02 387.42,447.60 387.60,447.82 387.77,448.59 387.95,448.89 388.12,448.62 388.29,448.25 388.47,448.14 388.64,448.16 388.82,448.49 388.99,448.41 389.17,447.19 389.34,446.80 389.51,446.36 389.69,447.92 389.86,448.15 390.04,446.92 390.21,446.14 390.38,446.39 390.56,446.99 390.73,445.73 390.91,445.33 391.08,445.58 391.25,447.96 391.43,447.04 391.60,447.79 391.78,447.26 391.95,446.89 392.13,446.94 392.30,446.21 392.47,446.28 392.65,445.05 392.82,441.11 393.00,438.09 393.17,432.43 393.34,429.42 393.52,425.91 393.69,425.48 393.87,427.01 394.04,430.40 394.21,434.62 394.39,439.04 394.56,442.22 394.74,444.80 394.91,445.07 395.09,441.73 395.26,433.91 395.43,423.82 395.61,413.32 395.78,409.63 395.96,412.69 396.13,422.19 396.30,432.62 396.48,439.12 396.65,444.53 396.83,445.19 397.00,447.63 397.17,447.55 397.35,447.70 397.52,445.28 397.70,442.06 397.87,438.51 398.05,436.54 398.22,437.38 398.39,441.08 398.57,444.79 398.74,447.07 398.92,448.28 399.09,447.72 399.26,448.13 399.44,448.05 399.61,448.68 399.79,449.05 399.96,449.10 400.14,449.89 400.31,448.24 400.48,448.08 400.66,448.01 400.83,449.10 401.01,448.50 401.18,446.94 401.35,446.95 401.53,446.92 401.70,447.58 401.88,447.49 402.05,448.16 402.22,447.64 402.40,448.32 402.57,446.82 402.75,447.76 402.92,447.25 403.10,448.46 403.27,448.07 403.44,447.50 403.62,445.93 403.79,445.10 403.97,444.17 404.14,444.67 404.31,445.51 404.49,446.28 404.66,447.22 404.84,446.31 405.01,447.50 405.18,448.08 405.36,449.09 405.53,448.38 405.71,448.04 405.88,447.53 406.06,447.80 406.23,447.36 406.40,448.34 406.58,448.44 406.75,448.17 406.93,448.58 407.10,447.10 407.27,448.09 407.45,447.71 407.62,449.45 407.80,449.14 407.97,449.00 408.14,448.87 408.32,448.08 408.49,448.59 408.67,448.51 408.84,447.84 409.02,445.86 409.19,442.62 409.36,438.48 409.54,434.17 409.71,432.30 409.89,434.59 410.06,439.12 410.23,443.47 410.41,446.81 410.58,447.67 410.76,446.65 410.93,445.33 411.11,445.49 411.28,445.30 411.45,441.78 411.63,435.57 411.80,429.88 411.98,428.69 412.15,431.42 412.32,437.48 412.50,443.02 412.67,444.69 412.85,446.44 413.02,447.31 413.19,449.26 413.37,449.27 413.54,449.05 413.72,447.12 413.89,445.69 414.07,443.54 414.24,442.88 414.41,440.78 414.59,439.53 414.76,440.02 414.94,442.80 415.11,444.73 415.28,446.86 415.46,447.60 415.63,448.68 415.81,449.19 415.98,448.81 416.15,448.85 416.33,448.62 416.50,448.15 416.68,447.51 416.85,447.71 417.03,448.77 417.20,449.33 417.37,448.19 417.55,448.09 417.72,448.23 417.90,448.35 418.07,448.10 418.24,446.91 418.42,447.81 418.59,446.83 418.77,445.92 418.94,441.69 419.11,434.73 419.29,429.10 419.46,426.72 419.64,429.49 419.81,433.24 419.99,439.14 420.16,444.43 420.33,447.64 420.51,447.71 420.68,447.72 420.86,447.49 421.03,448.20 421.20,448.01 421.38,449.29 421.55,447.27 421.73,445.38 421.90,440.83 422.07,434.53 422.25,426.77 422.42,422.22 422.60,426.06 422.77,433.00 422.95,441.56 423.12,443.70 423.29,446.88 423.47,446.16 423.64,448.49 423.82,447.01 423.99,448.15 424.16,445.62 424.34,444.81 424.51,441.11 424.69,435.21 424.86,428.54 425.03,424.98 425.21,428.28 425.38,434.61 425.56,440.65 425.73,444.17 425.91,446.44 426.08,447.30 426.25,447.89 426.43,447.32 426.60,447.64 426.78,448.66 426.95,448.92 427.12,448.93 427.30,448.81 427.47,451.15" fill="none" stroke="#111111" stroke-width="0.9" stroke-linejoin="round" />
<polyline points="292.70,434.82 292.87,435.78 293.05,441.72 293.22,445.68 293.40,445.06 293.57,443.31 293.74,441.77 293.92,439.84 294.09,439.67 294.27,440.27 294.44,443.56 294.62,445.07 294.79,446.53 294.96,447.01 295.14,448.00 295.31,448.13 295.49,448.37 295.66,448.19 295.83,447.30 296.01,446.30 296.18,446.61 296.36,447.60 296.53,448.22 296.70,448.02 296.88,447.80 297.05,447.75 297.23,447.14 297.40,446.97 297.58,447.06 297.75,445.63 297.92,445.36 298.10,445.01 298.27,447.05 298.45,447.59 298.62,447.89 298.79,446.81 298.97,446.33 299.14,446.52 299.32,445.90 299.49,446.22 299.66,445.64 299.84,446.73 300.01,446.23 300.19,446.43 300.36,447.23 300.54,446.33 300.71,447.02 300.88,447.00 301.06,448.08 301.23,446.93 301.41,446.06 301.58,446.15 301.75,446.07 301.93,447.14 302.10,446.44 302.28,447.08 302.45,445.45 302.63,445.07 302.80,442.81 302.97,441.96 303.15,441.29 303.32,442.81 303.50,444.31 303.67,445.83 303.84,445.92 304.02,445.93 304.19,445.18 304.37,446.09 304.54,446.76 304.71,448.29 304.89,448.30 305.06,448.70 305.24,448.03 305.41,448.27 305.59,447.99 305.76,448.48 305.93,446.71 306.11,446.52 306.28,446.38 306.46,447.95 306.63,447.65 306.80,446.49 306.98,446.19 307.15,445.75 307.33,446.66 307.50,446.40 307.67,447.17 307.85,446.85 308.02,447.25 308.20,447.41 308.37,447.77 308.55,447.77 308.72,447.20 308.89,447.42 309.07,447.13 309.24,447.82 309.42,447.46 309.59,446.37 309.76,441.67 309.94,434.96 310.11,431.37 310.29,434.47 310.46,441.26 310.63,445.55 310.81,447.30 310.98,446.92 311.16,446.11 311.33,446.53 311.51,446.45 311.68,447.07 311.85,446.84 312.03,447.78 312.20,447.14 312.38,447.31 312.55,446.06 312.72,447.06 312.90,445.78 313.07,446.57 313.25,445.60 313.42,445.23 313.59,445.60 313.77,447.02 313.94,448.53 314.12,448.70 314.29,448.41 314.47,447.15 314.64,447.04 314.81,447.22 314.99,448.40 315.16,447.02 315.34,447.08 315.51,446.01 315.68,446.84 315.86,444.93 316.03,445.78 316.21,446.02 316.38,447.24 316.56,447.73 316.73,448.10 316.90,447.73 317.08,447.20 317.25,447.23 317.43,447.49 317.60,447.92 317.77,445.15 317.95,445.02 318.12,444.40 318.30,445.70 318.47,446.27 318.64,446.35 318.82,447.40 318.99,446.69 319.17,446.94 319.34,446.70 319.52,447.21 319.69,446.58 319.86,446.99 320.04,447.21 320.21,446.96 320.39,447.18 320.56,446.50 320.73,446.84 320.91,445.37 321.08,444.25 321.26,439.99 321.43,437.87 321.60,438.68 321.78,442.35 321.95,445.73 322.13,446.45 322.30,447.72 322.48,447.65 322.65,447.77 322.82,448.00 323.00,447.21 323.17,447.88 323.35,447.82 323.52,448.67 323.69,447.50 323.87,446.82 324.04,447.09 324.22,447.84 324.39,448.01 324.56,447.39 324.74,447.35 324.91,446.19 325.09,444.66 325.26,443.70 325.44,445.39 325.61,446.54 325.78,447.75 325.96,447.71 326.13,447.81 326.31,446.84 326.48,446.38 326.65,447.27 326.83,448.10 327.00,448.50 327.18,448.31 327.35,447.39 327.52,447.30 327.70,446.40 327.87,447.38 328.05,447.54 328.22,448.48 328.40,447.97 328.57,447.50 328.74,447.39 328.92,447.76 329.09,447.56 329.27,447.37 329.44,447.67 329.61,447.32 329.79,447.33 329.96,447.10 330.14,447.78 330.31,447.28 330.49,447.26 330.66,446.76 330.83,447.42 331.01,447.60 331.18,448.30 331.36,448.19 331.53,447.52 331.70,446.94 331.88,447.05 332.05,447.44 332.23,447.72 332.40,446.77 332.57,446.12 332.75,446.60 332.92,447.63 333.10,448.45 333.27,448.17 333.45,448.18 333.62,446.59 333.79,446.94 333.97,446.20 334.14,447.90 334.32,446.04 334.49,446.91 334.66,445.29 334.84,446.47 335.01,445.73 335.19,446.19 335.36,445.48 335.53,445.36 335.71,445.34 335.88,443.68 336.06,442.11 336.23,441.26 336.41,442.74 336.58,443.12 336.75,443.39 336.93,444.30 337.10,445.62 337.28,446.71 337.45,447.15 337.62,446.33 337.80,447.07 337.97,447.13 338.15,448.04 338.32,447.76 338.49,447.31 338.67,446.15 338.84,442.86 339.02,440.47 339.19,437.33 339.37,436.73 339.54,435.32 339.71,435.15 339.89,434.47 340.06,436.27 340.24,439.26 340.41,443.12 340.58,444.68 340.76,445.38 340.93,445.69 341.11,445.80 341.28,447.12 341.45,446.17 341.63,446.25 341.80,446.01 341.98,446.71 342.15,447.21 342.33,446.99 342.50,447.87 342.67,447.62 342.85,447.60 343.02,447.57 343.20,448.15 343.37,448.72 343.54,446.90 343.72,446.43 343.89,445.69 344.07,446.68 344.24,445.10 344.42,443.71 344.59,440.96 344.76,439.86 344.94,438.94 345.11,439.71 345.29,441.17 345.46,442.82 345.63,443.57 345.81,444.57 345.98,444.89 346.16,446.85 346.33,446.65 346.50,447.25 346.68,446.33 346.85,446.15 347.03,445.44 347.20,444.03 347.38,442.00 347.55,438.17 347.72,432.65 347.90,427.19 348.07,425.58 348.25,428.44 348.42,433.32 348.59,437.27 348.77,441.63 348.94,444.86 349.12,446.37 349.29,446.48 349.46,444.50 349.64,442.24 349.81,439.60 349.99,436.86 350.16,436.08 350.34,437.08 350.51,440.28 350.68,443.55 350.86,445.02 351.03,445.61 351.21,445.21 351.38,444.65 351.55,445.86 351.73,445.82 351.90,447.06 352.08,446.81 352.25,448.18 352.42,447.88 352.60,446.97 352.77,445.66 352.95,444.33 353.12,443.95 353.30,444.66 353.47,446.34 353.64,447.19 353.82,447.16 353.99,447.27 354.17,447.31 354.34,447.48 354.51,446.46 354.69,446.69 354.86,446.93 355.04,446.86 355.21,447.24 355.38,447.26 355.56,448.32 355.73,448.58 355.91,447.60 356.08,447.58 356.26,446.13 356.43,447.27 356.60,446.10 356.78,447.05 356.95,446.99 357.13,447.75 357.30,448.25 357.47,447.28 357.65,447.32 357.82,446.27 358.00,446.56 358.17,446.48 358.35,446.85 358.52,446.66 358.69,446.94 358.87,446.86 359.04,447.81 359.22,447.00 359.39,446.65 359.56,446.32 359.74,446.75 359.91,445.25 360.09,444.41 360.26,444.26 360.43,446.78 360.61,447.75 360.78,448.08 360.96,447.45 361.13,447.66 361.31,448.13 361.48,447.71 361.65,447.42 361.83,447.44 362.00,447.21 362.18,446.87 362.35,445.63 362.52,446.68 362.70,446.79 362.87,447.50 363.05,446.44 363.22,445.64 363.39,445.17 363.57,444.59 363.74,443.12 363.92,440.39 364.09,440.09 364.27,440.72 364.44,443.61 364.61,444.17 364.79,446.39 364.96,446.16 365.14,447.30 365.31,446.83 365.48,446.20 365.66,446.16 365.83,445.68 366.01,446.75 366.18,446.25 366.35,447.01 366.53,447.57 366.70,447.88 366.88,447.81 367.05,446.56 367.23,446.10 367.40,445.51 367.57,445.47 367.75,446.56 367.92,446.85 368.10,447.21 368.27,446.97 368.44,446.69 368.62,447.71 368.79,447.14 368.97,446.57 369.14,445.92 369.31,446.22 369.49,447.28 369.66,447.41 369.84,447.81 370.01,447.82 370.19,447.53 370.36,447.70 370.53,447.65 370.71,448.56 370.88,448.36 371.06,446.96 371.23,446.42 371.40,446.06 371.58,447.76 371.75,447.67 371.93,447.57 372.10,447.10 372.28,446.98 372.45,446.82 372.62,446.23 372.80,446.88 372.97,446.54 373.15,447.02 373.32,445.94 373.49,446.53 373.67,446.31 373.84,447.09 374.02,446.97 374.19,447.73 374.36,446.58 374.54,447.07 374.71,444.98 374.89,444.57 375.06,442.29 375.24,441.65 375.41,440.84 375.58,442.27 375.76,444.70 375.93,446.99 376.11,447.92 376.28,448.28 376.45,447.89 376.63,446.93 376.80,446.89 376.98,447.27 377.15,447.73 377.32,447.77 377.50,447.75 377.67,447.29 377.85,447.04 378.02,446.08 378.20,446.68 378.37,445.99 378.54,447.32 378.72,447.65 378.89,448.37 379.07,447.75 379.24,447.59 379.41,447.58 379.59,448.03 379.76,448.30 379.94,447.91 380.11,447.76 380.28,447.26 380.46,447.12 380.63,447.29 380.81,447.47 380.98,448.15 381.16,448.19 381.33,447.66 381.50,446.79 381.68,446.86 381.85,447.36 382.03,446.89 382.20,447.00 382.37,447.01 382.55,446.92 382.72,446.14 382.90,445.26 383.07,444.80 383.25,444.21 383.42,444.58 383.59,444.51 383.77,445.22 383.94,445.02 384.12,447.07 384.29,446.82 384.46,447.62 384.64,447.41 384.81,446.98 384.99,446.65 385.16,446.88 385.33,448.00 385.51,448.21 385.68,448.32 385.86,448.36 386.03,448.24 386.21,447.64 386.38,447.52 386.55,447.36 386.73,447.70 386.90,447.25 387.08,446.07 387.25,442.88 387.42,440.20 387.60,439.88 387.77,440.92 387.95,443.50 388.12,445.49 388.29,447.86 388.47,448.70 388.64,448.59 388.82,446.55 388.99,446.03 389.17,446.35 389.34,448.10 389.51,448.42 389.69,447.90 389.86,447.56 390.04,447.44 390.21,446.93 390.38,446.27 390.56,446.35 390.73,447.07 390.91,447.03 391.08,445.77 391.25,445.89 391.43,446.31 391.60,446.31 391.78,445.18 391.95,441.35 392.13,434.04 392.30,419.43 392.47,400.33 392.65,382.93 392.82,374.97 393.00,382.27 393.17,399.50 393.34,417.37 393.52,431.02 393.69,437.20 393.87,439.69 394.04,437.58 394.21,434.11 394.39,431.10 394.56,431.06 394.74,432.46 394.91,435.37 395.09,438.26 395.26,439.97 395.43,442.71 395.61,444.52 395.78,446.32 395.96,447.14 396.13,446.74 396.30,446.65 396.48,445.91 396.65,446.39 396.83,446.27 397.00,446.60 397.17,446.85 397.35,447.87 397.52,448.36 397.70,448.01 397.87,448.15 398.05,447.63 398.22,445.17 398.39,444.26 398.57,444.77 398.74,447.48 398.92,447.66 399.09,447.45 399.26,447.13 399.44,447.49 399.61,445.87 399.79,445.15 399.96,445.76 400.14,446.45 400.31,447.15 400.48,446.92 400.66,446.82 400.83,446.35 401.01,444.71 401.18,445.36 401.35,445.30 401.53,447.27 401.70,446.09 401.88,447.15 402.05,446.49 402.22,447.32 402.40,447.30 402.57,448.12 402.75,448.27 402.92,447.74 403.10,447.64 403.27,447.16 403.44,447.57 403.62,447.27 403.79,448.37 403.97,447.95 404.14,448.05 404.31,447.22 404.49,447.53 404.66,447.16 404.84,447.89 405.01,447.54 405.18,445.51 405.36,441.93 405.53,436.01 405.71,432.29 405.88,430.10 406.06,432.78 406.23,437.34 406.40,441.24 406.58,444.91 406.75,446.43 406.93,447.55 407.10,446.39 407.27,446.56 407.45,446.71 407.62,447.48 407.80,447.27 407.97,447.57 408.14,447.50 408.32,447.73 408.49,447.18 408.67,446.91 408.84,446.39 409.02,447.52 409.19,448.33 409.36,447.42 409.54,445.34 409.71,443.21 409.89,444.69 410.06,446.63 410.23,447.23 410.41,446.84 410.58,446.82 410.76,448.30 410.93,448.14 411.11,447.32 411.28,446.89 411.45,445.62 411.63,446.04 411.80,445.82 411.98,446.49 412.15,444.24 412.32,440.69 412.50,435.71 412.67,431.18 412.85,428.54 413.02,429.78 413.19,435.24 413.37,440.31 413.54,444.89 413.72,446.10 413.89,446.85 414.07,446.42 414.24,445.85 414.41,446.53 414.59,445.52 414.76,444.51 414.94,441.39 415.11,439.27 415.28,436.76 415.46,436.10 415.63,435.69 415.81,439.09 415.98,442.74 416.15,445.72 416.33,446.71 416.50,446.80 416.68,446.44 416.85,446.53 417.03,446.01 417.20,446.97 417.37,443.61 417.55,440.13 417.72,434.46 417.90,429.63 418.07,427.67 418.24,428.93 418.42,434.24 418.59,438.96 418.77,443.77 418.94,446.84 419.11,448.50 419.29,448.20 419.46,448.15 419.64,447.97 419.81,447.40 419.99,445.80 420.16,442.49 420.33,437.26 420.51,432.19 420.68,429.95 420.86,432.18 421.03,437.30 421.20,441.66 421.38,445.36 421.55,446.74 421.73,446.65 421.90,446.73 422.07,446.23 422.25,447.32 422.42,447.75 422.60,448.09 422.77,446.17 422.95,443.91 423.12,440.34 423.29,434.32 423.47,428.74 423.64,426.29 423.82,429.57 423.99,435.72 424.16,441.59 424.34,445.89 424.51,447.40 424.69,445.99 424.86,445.08 425.03,444.03 425.21,444.01 425.38,443.05 425.56,440.18 425.73,436.21 425.91,434.07 426.08,434.88 426.25,439.47 426.43,443.09 426.60,446.09 426.78,445.84 426.95,446.79 427.12,446.80 427.30,447.86 427.47,450.05" fill="none" stroke="#f21212" stroke-width="0.9" stroke-linejoin="round" />
<rect x="16.50" y="498.75" width="233.00" height="51.75" fill="none" stroke="#9c9c9c" stroke-width="0.9"/>
<path d="M14.90,550.50 H16.50" stroke="#555" stroke-width="0.5"/>
<text x="14.50" y="551.90" font-size="4.0" font-weight="bold" text-anchor="end" fill="#333" >0.0</text>
<path d="M14.90,538.35 H16.50" stroke="#555" stroke-width="0.5"/>
<text x="14.50" y="539.75" font-size="4.0" font-weight="bold" text-anchor="end" fill="#333" >0.1</text>
<path d="M14.90,526.20 H16.50" stroke="#555" stroke-width="0.5"/>
<text x="14.50" y="527.60" font-size="4.0" font-weight="bold" text-anchor="end" fill="#333" >0.2</text>
<path d="M14.90,514.05 H16.50" stroke="#555" stroke-width="0.5"/>
<text x="14.50" y="515.45" font-size="4.0" font-weight="bold" text-anchor="end" fill="#333" >0.3</text>
<path d="M14.90,501.90 H16.50" stroke="#555" stroke-width="0.5"/>
<text x="14.50" y="503.30" font-size="4.0" font-weight="bold" text-anchor="end" fill="#333" >0.4</text>
<text transform="translate(6.60,526.62) rotate(-90)" font-size="3.4" font-weight="bold" text-anchor="middle" fill="#333">Interactions Fraction</text>
<rect x="18.25" y="524.99" width="6.30" height="25.51" fill="#c6b4de" stroke="#a896c4" stroke-width="0.6"/>
<rect x="18.25" y="523.16" width="6.30" height="1.82" fill="#2b5ca8" stroke="#1d3f7e" stroke-width="0.6"/>
<path d="M21.40,550.50 v1.2" stroke="#555" stroke-width="0.4"/>
<text transform="translate(23.00,553.90) rotate(-45)" font-size="3.5" font-weight="bold" text-anchor="end" fill="#2a2a2a" textLength="9.2" lengthAdjust="spacingAndGlyphs">TRP_81</text>
<rect x="26.30" y="521.95" width="6.30" height="28.55" fill="#c6b4de" stroke="#a896c4" stroke-width="0.6"/>
<rect x="26.30" y="520.49" width="6.30" height="1.46" fill="#2b5ca8" stroke="#1d3f7e" stroke-width="0.6"/>
<path d="M29.45,550.50 v1.2" stroke="#555" stroke-width="0.4"/>
<text transform="translate(31.05,553.90) rotate(-45)" font-size="3.5" font-weight="bold" text-anchor="end" fill="#2a2a2a" textLength="9.2" lengthAdjust="spacingAndGlyphs">ARG_82</text>
<rect x="34.35" y="548.07" width="6.30" height="2.43" fill="#c6b4de" stroke="#a896c4" stroke-width="0.6"/>
<path d="M37.50,550.50 v1.2" stroke="#555" stroke-width="0.4"/>
<text transform="translate(39.10,553.90) rotate(-45)" font-size="3.5" font-weight="bold" text-anchor="end" fill="#2a2a2a" textLength="9.2" lengthAdjust="spacingAndGlyphs">HIS_83</text>
<rect x="42.40" y="547.83" width="6.30" height="2.67" fill="#7ccb74" stroke="#5aa653" stroke-width="0.6"/>
<rect x="42.40" y="533.13" width="6.30" height="14.70" fill="#2b5ca8" stroke="#1d3f7e" stroke-width="0.6"/>
<path d="M45.55,550.50 v1.2" stroke="#555" stroke-width="0.4"/>
<text transform="translate(47.15,553.90) rotate(-45)" font-size="3.5" font-weight="bold" text-anchor="end" fill="#2a2a2a" textLength="9.2" lengthAdjust="spacingAndGlyphs">GLN_85</text>
<rect x="50.45" y="516.48" width="6.30" height="34.02" fill="#2b5ca8" stroke="#1d3f7e" stroke-width="0.6"/>
<path d="M53.60,550.50 v1.2" stroke="#555" stroke-width="0.4"/>
<text transform="translate(55.20,553.90) rotate(-45)" font-size="3.5" font-weight="bold" text-anchor="end" fill="#2a2a2a" textLength="9.2" lengthAdjust="spacingAndGlyphs">ARG_86</text>
<rect x="58.50" y="527.41" width="6.30" height="23.09" fill="#c6b4de" stroke="#a896c4" stroke-width="0.6"/>
<rect x="58.50" y="526.20" width="6.30" height="1.21" fill="#2b5ca8" stroke="#1d3f7e" stroke-width="0.6"/>
<path d="M61.65,550.50 v1.2" stroke="#555" stroke-width="0.4"/>
<text transform="translate(63.25,553.90) rotate(-45)" font-size="3.5" font-weight="bold" text-anchor="end" fill="#2a2a2a" textLength="9.2" lengthAdjust="spacingAndGlyphs">GLU_87</text>
<rect x="66.55" y="549.89" width="6.30" height="0.61" fill="#e8137e" stroke="#c00c66" stroke-width="0.6"/>
<rect x="66.55" y="540.54" width="6.30" height="9.36" fill="#2b5ca8" stroke="#1d3f7e" stroke-width="0.6"/>
<path d="M69.70,550.50 v1.2" stroke="#555" stroke-width="0.4"/>
<text transform="translate(71.30,553.90) rotate(-45)" font-size="3.5" font-weight="bold" text-anchor="end" fill="#2a2a2a" textLength="9.2" lengthAdjust="spacingAndGlyphs">ASP_88</text>
<rect x="74.60" y="549.77" width="6.30" height="0.73" fill="#c6b4de" stroke="#a896c4" stroke-width="0.6"/>
<path d="M77.75,550.50 v1.2" stroke="#555" stroke-width="0.4"/>
<text transform="translate(79.35,553.90) rotate(-45)" font-size="3.5" font-weight="bold" text-anchor="end" fill="#2a2a2a" textLength="9.2" lengthAdjust="spacingAndGlyphs">HIS_89</text>
<rect x="82.65" y="548.56" width="6.30" height="1.94" fill="#c6b4de" stroke="#a896c4" stroke-width="0.6"/>
<path d="M85.80,550.50 v1.2" stroke="#555" stroke-width="0.4"/>
<text transform="translate(87.40,553.90) rotate(-45)" font-size="3.5" font-weight="bold" text-anchor="end" fill="#2a2a2a" textLength="9.2" lengthAdjust="spacingAndGlyphs">ARG_90</text>
<rect x="90.70" y="549.16" width="6.30" height="1.34" fill="#2b5ca8" stroke="#1d3f7e" stroke-width="0.6"/>
<path d="M93.85,550.50 v1.2" stroke="#555" stroke-width="0.4"/>
<text transform="translate(95.45,553.90) rotate(-45)" font-size="3.5" font-weight="bold" text-anchor="end" fill="#2a2a2a" textLength="9.2" lengthAdjust="spacingAndGlyphs">LYS_93</text>
<rect x="98.75" y="507.98" width="6.30" height="42.52" fill="#c6b4de" stroke="#a896c4" stroke-width="0.6"/>
<path d="M101.90,550.50 v1.2" stroke="#555" stroke-width="0.4"/>
<text transform="translate(103.50,553.90) rotate(-45)" font-size="3.5" font-weight="bold" text-anchor="end" fill="#2a2a2a" textLength="9.2" lengthAdjust="spacingAndGlyphs">LEU_94</text>
<rect x="106.80" y="535.56" width="6.30" height="14.94" fill="#c6b4de" stroke="#a896c4" stroke-width="0.6"/>
<path d="M109.95,550.50 v1.2" stroke="#555" stroke-width="0.4"/>
<text transform="translate(111.55,553.90) rotate(-45)" font-size="3.5" font-weight="bold" text-anchor="end" fill="#2a2a2a" textLength="9.2" lengthAdjust="spacingAndGlyphs">LEU_95</text>
<rect x="114.85" y="547.22" width="6.30" height="3.28" fill="#c6b4de" stroke="#a896c4" stroke-width="0.6"/>
<path d="M118.00,550.50 v1.2" stroke="#555" stroke-width="0.4"/>
<text transform="translate(119.60,553.90) rotate(-45)" font-size="3.5" font-weight="bold" text-anchor="end" fill="#2a2a2a" textLength="9.2" lengthAdjust="spacingAndGlyphs">ARG_96</text>
<rect x="122.90" y="543.21" width="6.30" height="7.29" fill="#c6b4de" stroke="#a896c4" stroke-width="0.6"/>
<rect x="122.90" y="538.35" width="6.30" height="4.86" fill="#2b5ca8" stroke="#1d3f7e" stroke-width="0.6"/>
<path d="M126.05,550.50 v1.2" stroke="#555" stroke-width="0.4"/>
<text transform="translate(127.65,553.90) rotate(-45)" font-size="3.5" font-weight="bold" text-anchor="end" fill="#2a2a2a" textLength="9.2" lengthAdjust="spacingAndGlyphs">TYR_97</text>
<path d="M134.10,550.50 v1.2" stroke="#555" stroke-width="0.4"/>
<text transform="translate(135.70,553.90) rotate(-45)" font-size="3.5" font-weight="bold" text-anchor="end" fill="#2a2a2a" textLength="9.2" lengthAdjust="spacingAndGlyphs">ASN_100</text>
<rect x="139.00" y="540.17" width="6.30" height="10.33" fill="#2b5ca8" stroke="#1d3f7e" stroke-width="0.6"/>
<path d="M142.15,550.50 v1.2" stroke="#555" stroke-width="0.4"/>
<text transform="translate(143.75,553.90) rotate(-45)" font-size="3.5" font-weight="bold" text-anchor="end" fill="#2a2a2a" textLength="9.2" lengthAdjust="spacingAndGlyphs">ARG_120</text>
<rect x="147.05" y="538.35" width="6.30" height="12.15" fill="#7ccb74" stroke="#5aa653" stroke-width="0.6"/>
<rect x="147.05" y="537.62" width="6.30" height="0.73" fill="#2b5ca8" stroke="#1d3f7e" stroke-width="0.6"/>
<path d="M150.20,550.50 v1.2" stroke="#555" stroke-width="0.4"/>
<text transform="translate(151.80,553.90) rotate(-45)" font-size="3.5" font-weight="bold" text-anchor="end" fill="#2a2a2a" textLength="9.2" lengthAdjust="spacingAndGlyphs">LYS_126</text>
<rect x="155.10" y="549.16" width="6.30" height="1.34" fill="#2b5ca8" stroke="#1d3f7e" stroke-width="0.6"/>
<path d="M158.25,550.50 v1.2" stroke="#555" stroke-width="0.4"/>
<text transform="translate(159.85,553.90) rotate(-45)" font-size="3.5" font-weight="bold" text-anchor="end" fill="#2a2a2a" textLength="9.2" lengthAdjust="spacingAndGlyphs">LYS_127</text>
<rect x="163.15" y="545.40" width="6.30" height="5.10" fill="#2b5ca8" stroke="#1d3f7e" stroke-width="0.6"/>
<path d="M166.30,550.50 v1.2" stroke="#555" stroke-width="0.4"/>
<text transform="translate(167.90,553.90) rotate(-45)" font-size="3.5" font-weight="bold" text-anchor="end" fill="#2a2a2a" textLength="9.2" lengthAdjust="spacingAndGlyphs">ILE_128</text>
<rect x="171.20" y="528.63" width="6.30" height="21.87" fill="#c6b4de" stroke="#a896c4" stroke-width="0.6"/>
<rect x="171.20" y="514.05" width="6.30" height="14.58" fill="#2b5ca8" stroke="#1d3f7e" stroke-width="0.6"/>
<path d="M174.35,550.50 v1.2" stroke="#555" stroke-width="0.4"/>
<text transform="translate(175.95,553.90) rotate(-45)" font-size="3.5" font-weight="bold" text-anchor="end" fill="#2a2a2a" textLength="9.2" lengthAdjust="spacingAndGlyphs">TYR_129</text>
<rect x="179.25" y="511.62" width="6.30" height="38.88" fill="#7ccb74" stroke="#5aa653" stroke-width="0.6"/>
<rect x="179.25" y="501.90" width="6.30" height="9.72" fill="#2b5ca8" stroke="#1d3f7e" stroke-width="0.6"/>
<path d="M182.40,550.50 v1.2" stroke="#555" stroke-width="0.4"/>
<text transform="translate(184.00,553.90) rotate(-45)" font-size="3.5" font-weight="bold" text-anchor="end" fill="#2a2a2a" textLength="9.2" lengthAdjust="spacingAndGlyphs">ASN_130</text>
<rect x="187.30" y="547.83" width="6.30" height="2.67" fill="#c6b4de" stroke="#a896c4" stroke-width="0.6"/>
<rect x="187.30" y="545.88" width="6.30" height="1.94" fill="#2b5ca8" stroke="#1d3f7e" stroke-width="0.6"/>
<path d="M190.45,550.50 v1.2" stroke="#555" stroke-width="0.4"/>
<text transform="translate(192.05,553.90) rotate(-45)" font-size="3.5" font-weight="bold" text-anchor="end" fill="#2a2a2a" textLength="9.2" lengthAdjust="spacingAndGlyphs">LYS_131</text>
<rect x="195.35" y="548.07" width="6.30" height="2.43" fill="#c6b4de" stroke="#a896c4" stroke-width="0.6"/>
<path d="M198.50,550.50 v1.2" stroke="#555" stroke-width="0.4"/>
<text transform="translate(200.10,553.90) rotate(-45)" font-size="3.5" font-weight="bold" text-anchor="end" fill="#2a2a2a" textLength="9.2" lengthAdjust="spacingAndGlyphs">ARG_140</text>
<rect x="203.40" y="549.77" width="6.30" height="0.73" fill="#c6b4de" stroke="#a896c4" stroke-width="0.6"/>
<path d="M206.55,550.50 v1.2" stroke="#555" stroke-width="0.4"/>
<text transform="translate(208.15,553.90) rotate(-45)" font-size="3.5" font-weight="bold" text-anchor="end" fill="#2a2a2a" textLength="9.2" lengthAdjust="spacingAndGlyphs">ARG_141</text>
<rect x="211.45" y="530.21" width="6.30" height="20.29" fill="#c6b4de" stroke="#a896c4" stroke-width="0.6"/>
<path d="M214.60,550.50 v1.2" stroke="#555" stroke-width="0.4"/>
<text transform="translate(216.20,553.90) rotate(-45)" font-size="3.5" font-weight="bold" text-anchor="end" fill="#2a2a2a" textLength="9.2" lengthAdjust="spacingAndGlyphs">ILE_144</text>
<path d="M222.65,550.50 v1.2" stroke="#555" stroke-width="0.4"/>
<text transform="translate(224.25,553.90) rotate(-45)" font-size="3.5" font-weight="bold" text-anchor="end" fill="#2a2a2a" textLength="9.2" lengthAdjust="spacingAndGlyphs">MET_148</text>
<path d="M230.70,550.50 v1.2" stroke="#555" stroke-width="0.4"/>
<text transform="translate(232.30,553.90) rotate(-45)" font-size="3.5" font-weight="bold" text-anchor="end" fill="#2a2a2a" textLength="9.2" lengthAdjust="spacingAndGlyphs">ILE_150</text>
<rect x="235.60" y="548.56" width="6.30" height="1.94" fill="#2b5ca8" stroke="#1d3f7e" stroke-width="0.6"/>
<path d="M238.75,550.50 v1.2" stroke="#555" stroke-width="0.4"/>
<text transform="translate(240.35,553.90) rotate(-45)" font-size="3.5" font-weight="bold" text-anchor="end" fill="#2a2a2a" textLength="9.2" lengthAdjust="spacingAndGlyphs">ARG_160</text>
<rect x="16.50" y="596.25" width="231.00" height="50.75" fill="none" stroke="#9c9c9c" stroke-width="0.9"/>
<path d="M14.90,647.00 H16.50" stroke="#555" stroke-width="0.5"/>
<text x="14.50" y="648.40" font-size="4.0" font-weight="bold" text-anchor="end" fill="#333" >0.0</text>
<path d="M14.90,636.50 H16.50" stroke="#555" stroke-width="0.5"/>
<text x="14.50" y="637.90" font-size="4.0" font-weight="bold" text-anchor="end" fill="#333" >0.1</text>
<path d="M14.90,626.00 H16.50" stroke="#555" stroke-width="0.5"/>
<text x="14.50" y="627.40" font-size="4.0" font-weight="bold" text-anchor="end" fill="#333" >0.2</text>
<path d="M14.90,615.50 H16.50" stroke="#555" stroke-width="0.5"/>
<text x="14.50" y="616.90" font-size="4.0" font-weight="bold" text-anchor="end" fill="#333" >0.3</text>
<path d="M14.90,605.00 H16.50" stroke="#555" stroke-width="0.5"/>
<text x="14.50" y="606.40" font-size="4.0" font-weight="bold" text-anchor="end" fill="#333" >0.4</text>
<text transform="translate(6.60,623.62) rotate(-90)" font-size="3.4" font-weight="bold" text-anchor="middle" fill="#333">Interactions Fraction</text>
<rect x="19.00" y="620.75" width="7.80" height="26.25" fill="#c6b4de" stroke="#a896c4" stroke-width="0.6"/>
<rect x="19.00" y="618.65" width="7.80" height="2.10" fill="#2b5ca8" stroke="#1d3f7e" stroke-width="0.6"/>
<path d="M22.90,647.00 v1.2" stroke="#555" stroke-width="0.4"/>
<text transform="translate(24.50,650.40) rotate(-45)" font-size="3.5" font-weight="bold" text-anchor="end" fill="#2a2a2a" textLength="9.2" lengthAdjust="spacingAndGlyphs">TRP_81</text>
<rect x="29.13" y="600.80" width="7.80" height="46.20" fill="#c6b4de" stroke="#a896c4" stroke-width="0.6"/>
<path d="M33.03,647.00 v1.2" stroke="#555" stroke-width="0.4"/>
<text transform="translate(34.63,650.40) rotate(-45)" font-size="3.5" font-weight="bold" text-anchor="end" fill="#2a2a2a" textLength="9.2" lengthAdjust="spacingAndGlyphs">ARG_82</text>
<rect x="39.26" y="626.00" width="7.80" height="21.00" fill="#c6b4de" stroke="#a896c4" stroke-width="0.6"/>
<path d="M43.16,647.00 v1.2" stroke="#555" stroke-width="0.4"/>
<text transform="translate(44.76,650.40) rotate(-45)" font-size="3.5" font-weight="bold" text-anchor="end" fill="#2a2a2a" textLength="9.2" lengthAdjust="spacingAndGlyphs">HIS_83</text>
<path d="M53.29,647.00 v1.2" stroke="#555" stroke-width="0.4"/>
<text transform="translate(54.89,650.40) rotate(-45)" font-size="3.5" font-weight="bold" text-anchor="end" fill="#2a2a2a" textLength="9.2" lengthAdjust="spacingAndGlyphs">GLN_85</text>
<rect x="59.52" y="645.95" width="7.80" height="1.05" fill="#7ccb74" stroke="#5aa653" stroke-width="0.6"/>
<rect x="59.52" y="642.27" width="7.80" height="3.68" fill="#2b5ca8" stroke="#1d3f7e" stroke-width="0.6"/>
<path d="M63.42,647.00 v1.2" stroke="#555" stroke-width="0.4"/>
<text transform="translate(65.02,650.40) rotate(-45)" font-size="3.5" font-weight="bold" text-anchor="end" fill="#2a2a2a" textLength="9.2" lengthAdjust="spacingAndGlyphs">ARG_86</text>
<rect x="69.65" y="636.50" width="7.80" height="10.50" fill="#2b5ca8" stroke="#1d3f7e" stroke-width="0.6"/>
<path d="M73.55,647.00 v1.2" stroke="#555" stroke-width="0.4"/>
<text transform="translate(75.15,650.40) rotate(-45)" font-size="3.5" font-weight="bold" text-anchor="end" fill="#2a2a2a" textLength="9.2" lengthAdjust="spacingAndGlyphs">GLU_87</text>
<rect x="79.78" y="636.50" width="7.80" height="10.50" fill="#c6b4de" stroke="#a896c4" stroke-width="0.6"/>
<path d="M83.68,647.00 v1.2" stroke="#555" stroke-width="0.4"/>
<text transform="translate(85.28,650.40) rotate(-45)" font-size="3.5" font-weight="bold" text-anchor="end" fill="#2a2a2a" textLength="9.2" lengthAdjust="spacingAndGlyphs">ASP_88</text>
<rect x="89.91" y="630.20" width="7.80" height="16.80" fill="#2b5ca8" stroke="#1d3f7e" stroke-width="0.6"/>
<path d="M93.81,647.00 v1.2" stroke="#555" stroke-width="0.4"/>
<text transform="translate(95.41,650.40) rotate(-45)" font-size="3.5" font-weight="bold" text-anchor="end" fill="#2a2a2a" textLength="9.2" lengthAdjust="spacingAndGlyphs">HIS_89</text>
<rect x="100.04" y="615.50" width="7.80" height="31.50" fill="#c6b4de" stroke="#a896c4" stroke-width="0.6"/>
<rect x="100.04" y="599.75" width="7.80" height="15.75" fill="#2b5ca8" stroke="#1d3f7e" stroke-width="0.6"/>
<path d="M103.94,647.00 v1.2" stroke="#555" stroke-width="0.4"/>
<text transform="translate(105.54,650.40) rotate(-45)" font-size="3.5" font-weight="bold" text-anchor="end" fill="#2a2a2a" textLength="9.2" lengthAdjust="spacingAndGlyphs">ARG_90</text>
<rect x="110.17" y="645.74" width="7.80" height="1.26" fill="#7ccb74" stroke="#5aa653" stroke-width="0.6"/>
<rect x="110.17" y="641.23" width="7.80" height="4.51" fill="#2b5ca8" stroke="#1d3f7e" stroke-width="0.6"/>
<path d="M114.07,647.00 v1.2" stroke="#555" stroke-width="0.4"/>
<text transform="translate(115.67,650.40) rotate(-45)" font-size="3.5" font-weight="bold" text-anchor="end" fill="#2a2a2a" textLength="9.2" lengthAdjust="spacingAndGlyphs">LYS_93</text>
<rect x="120.30" y="621.80" width="7.80" height="25.20" fill="#c6b4de" stroke="#a896c4" stroke-width="0.6"/>
<path d="M124.20,647.00 v1.2" stroke="#555" stroke-width="0.4"/>
<text transform="translate(125.80,650.40) rotate(-45)" font-size="3.5" font-weight="bold" text-anchor="end" fill="#2a2a2a" textLength="9.2" lengthAdjust="spacingAndGlyphs">LEU_94</text>
<rect x="130.43" y="632.30" width="7.80" height="14.70" fill="#7ccb74" stroke="#5aa653" stroke-width="0.6"/>
<rect x="130.43" y="615.50" width="7.80" height="16.80" fill="#c6b4de" stroke="#a896c4" stroke-width="0.6"/>
<rect x="130.43" y="598.70" width="7.80" height="16.80" fill="#2b5ca8" stroke="#1d3f7e" stroke-width="0.6"/>
<path d="M134.33,647.00 v1.2" stroke="#555" stroke-width="0.4"/>
<text transform="translate(135.93,650.40) rotate(-45)" font-size="3.5" font-weight="bold" text-anchor="end" fill="#2a2a2a" textLength="9.2" lengthAdjust="spacingAndGlyphs">LEU_95</text>
<path d="M144.46,647.00 v1.2" stroke="#555" stroke-width="0.4"/>
<text transform="translate(146.06,650.40) rotate(-45)" font-size="3.5" font-weight="bold" text-anchor="end" fill="#2a2a2a" textLength="9.2" lengthAdjust="spacingAndGlyphs">ARG_96</text>
<rect x="150.69" y="614.45" width="7.80" height="32.55" fill="#2b5ca8" stroke="#1d3f7e" stroke-width="0.6"/>
<path d="M154.59,647.00 v1.2" stroke="#555" stroke-width="0.4"/>
<text transform="translate(156.19,650.40) rotate(-45)" font-size="3.5" font-weight="bold" text-anchor="end" fill="#2a2a2a" textLength="9.2" lengthAdjust="spacingAndGlyphs">TYR_97</text>
<path d="M164.72,647.00 v1.2" stroke="#555" stroke-width="0.4"/>
<text transform="translate(166.32,650.40) rotate(-45)" font-size="3.5" font-weight="bold" text-anchor="end" fill="#2a2a2a" textLength="9.2" lengthAdjust="spacingAndGlyphs">ASN_100</text>
<rect x="170.95" y="631.77" width="7.80" height="15.23" fill="#2b5ca8" stroke="#1d3f7e" stroke-width="0.6"/>
<path d="M174.85,647.00 v1.2" stroke="#555" stroke-width="0.4"/>
<text transform="translate(176.45,650.40) rotate(-45)" font-size="3.5" font-weight="bold" text-anchor="end" fill="#2a2a2a" textLength="9.2" lengthAdjust="spacingAndGlyphs">ARG_120</text>
<rect x="181.08" y="609.20" width="7.80" height="37.80" fill="#2b5ca8" stroke="#1d3f7e" stroke-width="0.6"/>
<path d="M184.98,647.00 v1.2" stroke="#555" stroke-width="0.4"/>
<text transform="translate(186.58,650.40) rotate(-45)" font-size="3.5" font-weight="bold" text-anchor="end" fill="#2a2a2a" textLength="9.2" lengthAdjust="spacingAndGlyphs">LYS_126</text>
<rect x="191.21" y="623.38" width="7.80" height="23.62" fill="#7ccb74" stroke="#5aa653" stroke-width="0.6"/>
<path d="M195.11,647.00 v1.2" stroke="#555" stroke-width="0.4"/>
<text transform="translate(196.71,650.40) rotate(-45)" font-size="3.5" font-weight="bold" text-anchor="end" fill="#2a2a2a" textLength="9.2" lengthAdjust="spacingAndGlyphs">LYS_127</text>
<rect x="201.34" y="634.40" width="7.80" height="12.60" fill="#c6b4de" stroke="#a896c4" stroke-width="0.6"/>
<path d="M205.24,647.00 v1.2" stroke="#555" stroke-width="0.4"/>
<text transform="translate(206.84,650.40) rotate(-45)" font-size="3.5" font-weight="bold" text-anchor="end" fill="#2a2a2a" textLength="9.2" lengthAdjust="spacingAndGlyphs">ILE_128</text>
<rect x="211.47" y="646.48" width="7.80" height="0.52" fill="#2b5ca8" stroke="#1d3f7e" stroke-width="0.6"/>
<path d="M215.37,647.00 v1.2" stroke="#555" stroke-width="0.4"/>
<text transform="translate(216.97,650.40) rotate(-45)" font-size="3.5" font-weight="bold" text-anchor="end" fill="#2a2a2a" textLength="9.2" lengthAdjust="spacingAndGlyphs">TYR_129</text>
<rect x="221.60" y="624.95" width="7.80" height="22.05" fill="#c6b4de" stroke="#a896c4" stroke-width="0.6"/>
<path d="M225.50,647.00 v1.2" stroke="#555" stroke-width="0.4"/>
<text transform="translate(227.10,650.40) rotate(-45)" font-size="3.5" font-weight="bold" text-anchor="end" fill="#2a2a2a" textLength="9.2" lengthAdjust="spacingAndGlyphs">ASN_130</text>
<path d="M235.63,647.00 v1.2" stroke="#555" stroke-width="0.4"/>
<text transform="translate(237.23,650.40) rotate(-45)" font-size="3.5" font-weight="bold" text-anchor="end" fill="#2a2a2a" textLength="9.2" lengthAdjust="spacingAndGlyphs">LYS_131</text>
<rect x="278.00" y="499.70" width="230.00" height="50.80" fill="none" stroke="#9c9c9c" stroke-width="0.9"/>
<path d="M276.40,550.50 H278.00" stroke="#555" stroke-width="0.5"/>
<text x="276.00" y="551.90" font-size="4.0" font-weight="bold" text-anchor="end" fill="#333" >0.0</text>
<path d="M276.40,540.30 H278.00" stroke="#555" stroke-width="0.5"/>
<text x="276.00" y="541.70" font-size="4.0" font-weight="bold" text-anchor="end" fill="#333" >0.5</text>
<path d="M276.40,530.10 H278.00" stroke="#555" stroke-width="0.5"/>
<text x="276.00" y="531.50" font-size="4.0" font-weight="bold" text-anchor="end" fill="#333" >1.0</text>
<path d="M276.40,519.90 H278.00" stroke="#555" stroke-width="0.5"/>
<text x="276.00" y="521.30" font-size="4.0" font-weight="bold" text-anchor="end" fill="#333" >1.5</text>
<path d="M276.40,509.70 H278.00" stroke="#555" stroke-width="0.5"/>
<text x="276.00" y="511.10" font-size="4.0" font-weight="bold" text-anchor="end" fill="#333" >2.0</text>
<text transform="translate(266.50,527.10) rotate(-90)" font-size="3.4" font-weight="bold" text-anchor="middle" fill="#333">Interactions Fraction</text>
<path d="M281.00,550.50 v1.2" stroke="#555" stroke-width="0.4"/>
<text transform="translate(282.60,553.90) rotate(-45)" font-size="3.5" font-weight="bold" text-anchor="end" fill="#2a2a2a" textLength="9.2" lengthAdjust="spacingAndGlyphs">TRP_81</text>
<path d="M287.60,550.50 v1.2" stroke="#555" stroke-width="0.4"/>
<text transform="translate(289.20,553.90) rotate(-45)" font-size="3.5" font-weight="bold" text-anchor="end" fill="#2a2a2a" textLength="9.2" lengthAdjust="spacingAndGlyphs">ARG_82</text>
<path d="M294.20,550.50 v1.2" stroke="#555" stroke-width="0.4"/>
<text transform="translate(295.80,553.90) rotate(-45)" font-size="3.5" font-weight="bold" text-anchor="end" fill="#2a2a2a" textLength="9.2" lengthAdjust="spacingAndGlyphs">HIS_83</text>
<rect x="298.35" y="550.30" width="4.90" height="0.20" fill="#2b5ca8" stroke="#1d3f7e" stroke-width="0.6"/>
<path d="M300.80,550.50 v1.2" stroke="#555" stroke-width="0.4"/>
<text transform="translate(302.40,553.90) rotate(-45)" font-size="3.5" font-weight="bold" text-anchor="end" fill="#2a2a2a" textLength="9.2" lengthAdjust="spacingAndGlyphs">GLN_85</text>
<path d="M307.40,550.50 v1.2" stroke="#555" stroke-width="0.4"/>
<text transform="translate(309.00,553.90) rotate(-45)" font-size="3.5" font-weight="bold" text-anchor="end" fill="#2a2a2a" textLength="9.2" lengthAdjust="spacingAndGlyphs">ARG_86</text>
<path d="M314.00,550.50 v1.2" stroke="#555" stroke-width="0.4"/>
<text transform="translate(315.60,553.90) rotate(-45)" font-size="3.5" font-weight="bold" text-anchor="end" fill="#2a2a2a" textLength="9.2" lengthAdjust="spacingAndGlyphs">GLU_87</text>
<rect x="318.15" y="549.48" width="4.90" height="1.02" fill="#2b5ca8" stroke="#1d3f7e" stroke-width="0.6"/>
<path d="M320.60,550.50 v1.2" stroke="#555" stroke-width="0.4"/>
<text transform="translate(322.20,553.90) rotate(-45)" font-size="3.5" font-weight="bold" text-anchor="end" fill="#2a2a2a" textLength="9.2" lengthAdjust="spacingAndGlyphs">ASP_88</text>
<rect x="324.75" y="546.42" width="4.90" height="4.08" fill="#2b5ca8" stroke="#1d3f7e" stroke-width="0.6"/>
<path d="M327.20,550.50 v1.2" stroke="#555" stroke-width="0.4"/>
<text transform="translate(328.80,553.90) rotate(-45)" font-size="3.5" font-weight="bold" text-anchor="end" fill="#2a2a2a" textLength="9.2" lengthAdjust="spacingAndGlyphs">HIS_89</text>
<rect x="331.35" y="546.42" width="4.90" height="4.08" fill="#7ccb74" stroke="#5aa653" stroke-width="0.6"/>
<rect x="331.35" y="532.14" width="4.90" height="14.28" fill="#2b5ca8" stroke="#1d3f7e" stroke-width="0.6"/>
<path d="M333.80,550.50 v1.2" stroke="#555" stroke-width="0.4"/>
<text transform="translate(335.40,553.90) rotate(-45)" font-size="3.5" font-weight="bold" text-anchor="end" fill="#2a2a2a" textLength="9.2" lengthAdjust="spacingAndGlyphs">ARG_90</text>
<rect x="337.95" y="547.44" width="4.90" height="3.06" fill="#7ccb74" stroke="#5aa653" stroke-width="0.6"/>
<rect x="337.95" y="539.28" width="4.90" height="8.16" fill="#2b5ca8" stroke="#1d3f7e" stroke-width="0.6"/>
<path d="M340.40,550.50 v1.2" stroke="#555" stroke-width="0.4"/>
<text transform="translate(342.00,553.90) rotate(-45)" font-size="3.5" font-weight="bold" text-anchor="end" fill="#2a2a2a" textLength="9.2" lengthAdjust="spacingAndGlyphs">LYS_93</text>
<rect x="344.55" y="533.16" width="4.90" height="17.34" fill="#7ccb74" stroke="#5aa653" stroke-width="0.6"/>
<rect x="344.55" y="529.08" width="4.90" height="4.08" fill="#2b5ca8" stroke="#1d3f7e" stroke-width="0.6"/>
<path d="M347.00,550.50 v1.2" stroke="#555" stroke-width="0.4"/>
<text transform="translate(348.60,553.90) rotate(-45)" font-size="3.5" font-weight="bold" text-anchor="end" fill="#2a2a2a" textLength="9.2" lengthAdjust="spacingAndGlyphs">LEU_94</text>
<rect x="351.15" y="528.06" width="4.90" height="22.44" fill="#7ccb74" stroke="#5aa653" stroke-width="0.6"/>
<path d="M353.60,550.50 v1.2" stroke="#555" stroke-width="0.4"/>
<text transform="translate(355.20,553.90) rotate(-45)" font-size="3.5" font-weight="bold" text-anchor="end" fill="#2a2a2a" textLength="9.2" lengthAdjust="spacingAndGlyphs">LEU_95</text>
<rect x="357.75" y="537.24" width="4.90" height="13.26" fill="#7ccb74" stroke="#5aa653" stroke-width="0.6"/>
<rect x="357.75" y="515.82" width="4.90" height="21.42" fill="#e8137e" stroke="#c00c66" stroke-width="0.6"/>
<rect x="357.75" y="502.56" width="4.90" height="13.26" fill="#2b5ca8" stroke="#1d3f7e" stroke-width="0.6"/>
<path d="M360.20,550.50 v1.2" stroke="#555" stroke-width="0.4"/>
<text transform="translate(361.80,553.90) rotate(-45)" font-size="3.5" font-weight="bold" text-anchor="end" fill="#2a2a2a" textLength="9.2" lengthAdjust="spacingAndGlyphs">ARG_96</text>
<rect x="364.35" y="512.76" width="4.90" height="37.74" fill="#7ccb74" stroke="#5aa653" stroke-width="0.6"/>
<rect x="364.35" y="510.72" width="4.90" height="2.04" fill="#2b5ca8" stroke="#1d3f7e" stroke-width="0.6"/>
<path d="M366.80,550.50 v1.2" stroke="#555" stroke-width="0.4"/>
<text transform="translate(368.40,553.90) rotate(-45)" font-size="3.5" font-weight="bold" text-anchor="end" fill="#2a2a2a" textLength="9.2" lengthAdjust="spacingAndGlyphs">TYR_97</text>
<rect x="370.95" y="550.09" width="4.90" height="0.41" fill="#2b5ca8" stroke="#1d3f7e" stroke-width="0.6"/>
<path d="M373.40,550.50 v1.2" stroke="#555" stroke-width="0.4"/>
<text transform="translate(375.00,553.90) rotate(-45)" font-size="3.5" font-weight="bold" text-anchor="end" fill="#2a2a2a" textLength="9.2" lengthAdjust="spacingAndGlyphs">ASN_100</text>
<rect x="377.55" y="548.87" width="4.90" height="1.63" fill="#2b5ca8" stroke="#1d3f7e" stroke-width="0.6"/>
<path d="M380.00,550.50 v1.2" stroke="#555" stroke-width="0.4"/>
<text transform="translate(381.60,553.90) rotate(-45)" font-size="3.5" font-weight="bold" text-anchor="end" fill="#2a2a2a" textLength="9.2" lengthAdjust="spacingAndGlyphs">ARG_120</text>
<path d="M386.60,550.50 v1.2" stroke="#555" stroke-width="0.4"/>
<text transform="translate(388.20,553.90) rotate(-45)" font-size="3.5" font-weight="bold" text-anchor="end" fill="#2a2a2a" textLength="9.2" lengthAdjust="spacingAndGlyphs">LYS_126</text>
<path d="M393.20,550.50 v1.2" stroke="#555" stroke-width="0.4"/>
<text transform="translate(394.80,553.90) rotate(-45)" font-size="3.5" font-weight="bold" text-anchor="end" fill="#2a2a2a" textLength="9.2" lengthAdjust="spacingAndGlyphs">LYS_127</text>
<rect x="397.35" y="549.89" width="4.90" height="0.61" fill="#7ccb74" stroke="#5aa653" stroke-width="0.6"/>
<rect x="397.35" y="544.79" width="4.90" height="5.10" fill="#c6b4de" stroke="#a896c4" stroke-width="0.6"/>
<rect x="397.35" y="542.14" width="4.90" height="2.65" fill="#2b5ca8" stroke="#1d3f7e" stroke-width="0.6"/>
<path d="M399.80,550.50 v1.2" stroke="#555" stroke-width="0.4"/>
<text transform="translate(401.40,553.90) rotate(-45)" font-size="3.5" font-weight="bold" text-anchor="end" fill="#2a2a2a" textLength="9.2" lengthAdjust="spacingAndGlyphs">ILE_128</text>
<rect x="403.95" y="549.48" width="4.90" height="1.02" fill="#2b5ca8" stroke="#1d3f7e" stroke-width="0.6"/>
<path d="M406.40,550.50 v1.2" stroke="#555" stroke-width="0.4"/>
<text transform="translate(408.00,553.90) rotate(-45)" font-size="3.5" font-weight="bold" text-anchor="end" fill="#2a2a2a" textLength="9.2" lengthAdjust="spacingAndGlyphs">TYR_129</text>
<rect x="410.55" y="530.51" width="4.90" height="19.99" fill="#e8137e" stroke="#c00c66" stroke-width="0.6"/>
<rect x="410.55" y="512.96" width="4.90" height="17.54" fill="#2b5ca8" stroke="#1d3f7e" stroke-width="0.6"/>
<path d="M413.00,550.50 v1.2" stroke="#555" stroke-width="0.4"/>
<text transform="translate(414.60,553.90) rotate(-45)" font-size="3.5" font-weight="bold" text-anchor="end" fill="#2a2a2a" textLength="9.2" lengthAdjust="spacingAndGlyphs">ASN_130</text>
<rect x="417.15" y="550.30" width="4.90" height="0.20" fill="#2b5ca8" stroke="#1d3f7e" stroke-width="0.6"/>
<path d="M419.60,550.50 v1.2" stroke="#555" stroke-width="0.4"/>
<text transform="translate(421.20,553.90) rotate(-45)" font-size="3.5" font-weight="bold" text-anchor="end" fill="#2a2a2a" textLength="9.2" lengthAdjust="spacingAndGlyphs">LYS_131</text>
<rect x="423.75" y="543.97" width="4.90" height="6.53" fill="#c6b4de" stroke="#a896c4" stroke-width="0.6"/>
<rect x="423.75" y="539.48" width="4.90" height="4.49" fill="#2b5ca8" stroke="#1d3f7e" stroke-width="0.6"/>
<path d="M426.20,550.50 v1.2" stroke="#555" stroke-width="0.4"/>
<text transform="translate(427.80,553.90) rotate(-45)" font-size="3.5" font-weight="bold" text-anchor="end" fill="#2a2a2a" textLength="9.2" lengthAdjust="spacingAndGlyphs">ARG_140</text>
<path d="M432.80,550.50 v1.2" stroke="#555" stroke-width="0.4"/>
<text transform="translate(434.40,553.90) rotate(-45)" font-size="3.5" font-weight="bold" text-anchor="end" fill="#2a2a2a" textLength="9.2" lengthAdjust="spacingAndGlyphs">ARG_141</text>
<path d="M439.40,550.50 v1.2" stroke="#555" stroke-width="0.4"/>
<text transform="translate(441.00,553.90) rotate(-45)" font-size="3.5" font-weight="bold" text-anchor="end" fill="#2a2a2a" textLength="9.2" lengthAdjust="spacingAndGlyphs">ILE_144</text>
<path d="M446.00,550.50 v1.2" stroke="#555" stroke-width="0.4"/>
<text transform="translate(447.60,553.90) rotate(-45)" font-size="3.5" font-weight="bold" text-anchor="end" fill="#2a2a2a" textLength="9.2" lengthAdjust="spacingAndGlyphs">MET_148</text>
<rect x="450.15" y="535.20" width="4.90" height="15.30" fill="#2b5ca8" stroke="#1d3f7e" stroke-width="0.6"/>
<path d="M452.60,550.50 v1.2" stroke="#555" stroke-width="0.4"/>
<text transform="translate(454.20,553.90) rotate(-45)" font-size="3.5" font-weight="bold" text-anchor="end" fill="#2a2a2a" textLength="9.2" lengthAdjust="spacingAndGlyphs">ILE_150</text>
<rect x="456.75" y="546.42" width="4.90" height="4.08" fill="#7ccb74" stroke="#5aa653" stroke-width="0.6"/>
<rect x="456.75" y="543.77" width="4.90" height="2.65" fill="#2b5ca8" stroke="#1d3f7e" stroke-width="0.6"/>
<path d="M459.20,550.50 v1.2" stroke="#555" stroke-width="0.4"/>
<text transform="translate(460.80,553.90) rotate(-45)" font-size="3.5" font-weight="bold" text-anchor="end" fill="#2a2a2a" textLength="9.2" lengthAdjust="spacingAndGlyphs">ARG_160</text>
<path d="M465.80,550.50 v1.2" stroke="#555" stroke-width="0.4"/>
<text transform="translate(467.40,553.90) rotate(-45)" font-size="3.5" font-weight="bold" text-anchor="end" fill="#2a2a2a" textLength="9.2" lengthAdjust="spacingAndGlyphs">TRP_81</text>
<rect x="469.95" y="529.08" width="4.90" height="21.42" fill="#2b5ca8" stroke="#1d3f7e" stroke-width="0.6"/>
<path d="M472.40,550.50 v1.2" stroke="#555" stroke-width="0.4"/>
<text transform="translate(474.00,553.90) rotate(-45)" font-size="3.5" font-weight="bold" text-anchor="end" fill="#2a2a2a" textLength="9.2" lengthAdjust="spacingAndGlyphs">ARG_82</text>
<path d="M479.00,550.50 v1.2" stroke="#555" stroke-width="0.4"/>
<text transform="translate(480.60,553.90) rotate(-45)" font-size="3.5" font-weight="bold" text-anchor="end" fill="#2a2a2a" textLength="9.2" lengthAdjust="spacingAndGlyphs">HIS_83</text>
<rect x="483.15" y="545.40" width="4.90" height="5.10" fill="#c6b4de" stroke="#a896c4" stroke-width="0.6"/>
<path d="M485.60,550.50 v1.2" stroke="#555" stroke-width="0.4"/>
<text transform="translate(487.20,553.90) rotate(-45)" font-size="3.5" font-weight="bold" text-anchor="end" fill="#2a2a2a" textLength="9.2" lengthAdjust="spacingAndGlyphs">GLN_85</text>
<rect x="489.75" y="549.48" width="4.90" height="1.02" fill="#2b5ca8" stroke="#1d3f7e" stroke-width="0.6"/>
<path d="M492.20,550.50 v1.2" stroke="#555" stroke-width="0.4"/>
<text transform="translate(493.80,553.90) rotate(-45)" font-size="3.5" font-weight="bold" text-anchor="end" fill="#2a2a2a" textLength="9.2" lengthAdjust="spacingAndGlyphs">ARG_86</text>
<rect x="496.35" y="550.09" width="4.90" height="0.41" fill="#2b5ca8" stroke="#1d3f7e" stroke-width="0.6"/>
<path d="M498.80,550.50 v1.2" stroke="#555" stroke-width="0.4"/>
<text transform="translate(500.40,553.90) rotate(-45)" font-size="3.5" font-weight="bold" text-anchor="end" fill="#2a2a2a" textLength="9.2" lengthAdjust="spacingAndGlyphs">GLU_87</text>
<rect x="275.80" y="596.20" width="232.20" height="51.30" fill="none" stroke="#9c9c9c" stroke-width="0.9"/>
<path d="M274.20,647.50 H275.80" stroke="#555" stroke-width="0.5"/>
<text x="273.80" y="648.90" font-size="4.0" font-weight="bold" text-anchor="end" fill="#333" >0.0</text>
<path d="M274.20,636.40 H275.80" stroke="#555" stroke-width="0.5"/>
<text x="273.80" y="637.80" font-size="4.0" font-weight="bold" text-anchor="end" fill="#333" >0.5</text>
<path d="M274.20,625.30 H275.80" stroke="#555" stroke-width="0.5"/>
<text x="273.80" y="626.70" font-size="4.0" font-weight="bold" text-anchor="end" fill="#333" >1.0</text>
<path d="M274.20,614.20 H275.80" stroke="#555" stroke-width="0.5"/>
<text x="273.80" y="615.60" font-size="4.0" font-weight="bold" text-anchor="end" fill="#333" >1.5</text>
<path d="M274.20,603.10 H275.80" stroke="#555" stroke-width="0.5"/>
<text x="273.80" y="604.50" font-size="4.0" font-weight="bold" text-anchor="end" fill="#333" >2.0</text>
<text transform="translate(264.50,623.85) rotate(-90)" font-size="3.4" font-weight="bold" text-anchor="middle" fill="#333">Interactions Fraction</text>
<path d="M281.60,647.50 v1.2" stroke="#555" stroke-width="0.4"/>
<text transform="translate(283.20,650.90) rotate(-45)" font-size="3.5" font-weight="bold" text-anchor="end" fill="#2a2a2a" textLength="9.2" lengthAdjust="spacingAndGlyphs">TRP_81</text>
<rect x="287.32" y="647.06" width="7.10" height="0.44" fill="#2b5ca8" stroke="#1d3f7e" stroke-width="0.6"/>
<path d="M290.87,647.50 v1.2" stroke="#555" stroke-width="0.4"/>
<text transform="translate(292.47,650.90) rotate(-45)" font-size="3.5" font-weight="bold" text-anchor="end" fill="#2a2a2a" textLength="9.2" lengthAdjust="spacingAndGlyphs">ARG_82</text>
<rect x="296.59" y="639.73" width="7.10" height="7.77" fill="#2b5ca8" stroke="#1d3f7e" stroke-width="0.6"/>
<path d="M300.14,647.50 v1.2" stroke="#555" stroke-width="0.4"/>
<text transform="translate(301.74,650.90) rotate(-45)" font-size="3.5" font-weight="bold" text-anchor="end" fill="#2a2a2a" textLength="9.2" lengthAdjust="spacingAndGlyphs">HIS_83</text>
<rect x="305.86" y="626.41" width="7.10" height="21.09" fill="#7ccb74" stroke="#5aa653" stroke-width="0.6"/>
<path d="M309.41,647.50 v1.2" stroke="#555" stroke-width="0.4"/>
<text transform="translate(311.01,650.90) rotate(-45)" font-size="3.5" font-weight="bold" text-anchor="end" fill="#2a2a2a" textLength="9.2" lengthAdjust="spacingAndGlyphs">GLN_85</text>
<rect x="315.13" y="606.43" width="7.10" height="41.07" fill="#7ccb74" stroke="#5aa653" stroke-width="0.6"/>
<path d="M318.68,647.50 v1.2" stroke="#555" stroke-width="0.4"/>
<text transform="translate(320.28,650.90) rotate(-45)" font-size="3.5" font-weight="bold" text-anchor="end" fill="#2a2a2a" textLength="9.2" lengthAdjust="spacingAndGlyphs">ARG_86</text>
<rect x="324.40" y="628.63" width="7.10" height="18.87" fill="#7ccb74" stroke="#5aa653" stroke-width="0.6"/>
<path d="M327.95,647.50 v1.2" stroke="#555" stroke-width="0.4"/>
<text transform="translate(329.55,650.90) rotate(-45)" font-size="3.5" font-weight="bold" text-anchor="end" fill="#2a2a2a" textLength="9.2" lengthAdjust="spacingAndGlyphs">GLU_87</text>
<rect x="333.67" y="625.30" width="7.10" height="22.20" fill="#7ccb74" stroke="#5aa653" stroke-width="0.6"/>
<rect x="333.67" y="616.42" width="7.10" height="8.88" fill="#2b5ca8" stroke="#1d3f7e" stroke-width="0.6"/>
<path d="M337.22,647.50 v1.2" stroke="#555" stroke-width="0.4"/>
<text transform="translate(338.82,650.90) rotate(-45)" font-size="3.5" font-weight="bold" text-anchor="end" fill="#2a2a2a" textLength="9.2" lengthAdjust="spacingAndGlyphs">ASP_88</text>
<rect x="342.94" y="625.30" width="7.10" height="22.20" fill="#7ccb74" stroke="#5aa653" stroke-width="0.6"/>
<rect x="342.94" y="596.20" width="7.10" height="29.10" fill="#e8137e" stroke="#c00c66" stroke-width="0.6"/>
<path d="M346.49,647.50 v1.2" stroke="#555" stroke-width="0.4"/>
<text transform="translate(348.09,650.90) rotate(-45)" font-size="3.5" font-weight="bold" text-anchor="end" fill="#2a2a2a" textLength="9.2" lengthAdjust="spacingAndGlyphs">HIS_89</text>
<rect x="352.21" y="619.75" width="7.10" height="27.75" fill="#7ccb74" stroke="#5aa653" stroke-width="0.6"/>
<path d="M355.76,647.50 v1.2" stroke="#555" stroke-width="0.4"/>
<text transform="translate(357.36,650.90) rotate(-45)" font-size="3.5" font-weight="bold" text-anchor="end" fill="#2a2a2a" textLength="9.2" lengthAdjust="spacingAndGlyphs">ARG_90</text>
<rect x="361.48" y="645.28" width="7.10" height="2.22" fill="#2b5ca8" stroke="#1d3f7e" stroke-width="0.6"/>
<path d="M365.03,647.50 v1.2" stroke="#555" stroke-width="0.4"/>
<text transform="translate(366.63,650.90) rotate(-45)" font-size="3.5" font-weight="bold" text-anchor="end" fill="#2a2a2a" textLength="9.2" lengthAdjust="spacingAndGlyphs">LYS_93</text>
<rect x="370.75" y="641.73" width="7.10" height="5.77" fill="#2b5ca8" stroke="#1d3f7e" stroke-width="0.6"/>
<path d="M374.30,647.50 v1.2" stroke="#555" stroke-width="0.4"/>
<text transform="translate(375.90,650.90) rotate(-45)" font-size="3.5" font-weight="bold" text-anchor="end" fill="#2a2a2a" textLength="9.2" lengthAdjust="spacingAndGlyphs">LEU_94</text>
<rect x="380.02" y="643.95" width="7.10" height="3.55" fill="#c6b4de" stroke="#a896c4" stroke-width="0.6"/>
<path d="M383.57,647.50 v1.2" stroke="#555" stroke-width="0.4"/>
<text transform="translate(385.17,650.90) rotate(-45)" font-size="3.5" font-weight="bold" text-anchor="end" fill="#2a2a2a" textLength="9.2" lengthAdjust="spacingAndGlyphs">LEU_95</text>
<rect x="389.29" y="645.28" width="7.10" height="2.22" fill="#c6b4de" stroke="#a896c4" stroke-width="0.6"/>
<rect x="389.29" y="644.61" width="7.10" height="0.67" fill="#2b5ca8" stroke="#1d3f7e" stroke-width="0.6"/>
<path d="M392.84,647.50 v1.2" stroke="#555" stroke-width="0.4"/>
<text transform="translate(394.44,650.90) rotate(-45)" font-size="3.5" font-weight="bold" text-anchor="end" fill="#2a2a2a" textLength="9.2" lengthAdjust="spacingAndGlyphs">ARG_96</text>
<path d="M402.11,647.50 v1.2" stroke="#555" stroke-width="0.4"/>
<text transform="translate(403.71,650.90) rotate(-45)" font-size="3.5" font-weight="bold" text-anchor="end" fill="#2a2a2a" textLength="9.2" lengthAdjust="spacingAndGlyphs">TYR_97</text>
<rect x="407.83" y="625.74" width="7.10" height="21.76" fill="#e8137e" stroke="#c00c66" stroke-width="0.6"/>
<path d="M411.38,647.50 v1.2" stroke="#555" stroke-width="0.4"/>
<text transform="translate(412.98,650.90) rotate(-45)" font-size="3.5" font-weight="bold" text-anchor="end" fill="#2a2a2a" textLength="9.2" lengthAdjust="spacingAndGlyphs">ASN_100</text>
<rect x="417.10" y="626.41" width="7.10" height="21.09" fill="#e8137e" stroke="#c00c66" stroke-width="0.6"/>
<rect x="417.10" y="625.30" width="7.10" height="1.11" fill="#2b5ca8" stroke="#1d3f7e" stroke-width="0.6"/>
<path d="M420.65,647.50 v1.2" stroke="#555" stroke-width="0.4"/>
<text transform="translate(422.25,650.90) rotate(-45)" font-size="3.5" font-weight="bold" text-anchor="end" fill="#2a2a2a" textLength="9.2" lengthAdjust="spacingAndGlyphs">ARG_120</text>
<path d="M429.92,647.50 v1.2" stroke="#555" stroke-width="0.4"/>
<text transform="translate(431.52,650.90) rotate(-45)" font-size="3.5" font-weight="bold" text-anchor="end" fill="#2a2a2a" textLength="9.2" lengthAdjust="spacingAndGlyphs">LYS_126</text>
<path d="M439.19,647.50 v1.2" stroke="#555" stroke-width="0.4"/>
<text transform="translate(440.79,650.90) rotate(-45)" font-size="3.5" font-weight="bold" text-anchor="end" fill="#2a2a2a" textLength="9.2" lengthAdjust="spacingAndGlyphs">LYS_127</text>
<rect x="444.91" y="643.06" width="7.10" height="4.44" fill="#c6b4de" stroke="#a896c4" stroke-width="0.6"/>
<path d="M448.46,647.50 v1.2" stroke="#555" stroke-width="0.4"/>
<text transform="translate(450.06,650.90) rotate(-45)" font-size="3.5" font-weight="bold" text-anchor="end" fill="#2a2a2a" textLength="9.2" lengthAdjust="spacingAndGlyphs">ILE_128</text>
<rect x="454.18" y="621.97" width="7.10" height="25.53" fill="#7ccb74" stroke="#5aa653" stroke-width="0.6"/>
<path d="M457.73,647.50 v1.2" stroke="#555" stroke-width="0.4"/>
<text transform="translate(459.33,650.90) rotate(-45)" font-size="3.5" font-weight="bold" text-anchor="end" fill="#2a2a2a" textLength="9.2" lengthAdjust="spacingAndGlyphs">TYR_129</text>
<rect x="463.45" y="647.28" width="7.10" height="0.22" fill="#2b5ca8" stroke="#1d3f7e" stroke-width="0.6"/>
<path d="M467.00,647.50 v1.2" stroke="#555" stroke-width="0.4"/>
<text transform="translate(468.60,650.90) rotate(-45)" font-size="3.5" font-weight="bold" text-anchor="end" fill="#2a2a2a" textLength="9.2" lengthAdjust="spacingAndGlyphs">ASN_130</text>
<rect x="472.72" y="641.51" width="7.10" height="5.99" fill="#2b5ca8" stroke="#1d3f7e" stroke-width="0.6"/>
<path d="M476.27,647.50 v1.2" stroke="#555" stroke-width="0.4"/>
<text transform="translate(477.87,650.90) rotate(-45)" font-size="3.5" font-weight="bold" text-anchor="end" fill="#2a2a2a" textLength="9.2" lengthAdjust="spacingAndGlyphs">LYS_131</text>
<rect x="481.99" y="611.31" width="7.10" height="36.19" fill="#7ccb74" stroke="#5aa653" stroke-width="0.6"/>
<rect x="481.99" y="610.43" width="7.10" height="0.89" fill="#2b5ca8" stroke="#1d3f7e" stroke-width="0.6"/>
<path d="M485.54,647.50 v1.2" stroke="#555" stroke-width="0.4"/>
<text transform="translate(487.14,650.90) rotate(-45)" font-size="3.5" font-weight="bold" text-anchor="end" fill="#2a2a2a" textLength="9.2" lengthAdjust="spacingAndGlyphs">ARG_140</text>
<rect x="491.26" y="620.19" width="7.10" height="27.31" fill="#7ccb74" stroke="#5aa653" stroke-width="0.6"/>
<path d="M494.81,647.50 v1.2" stroke="#555" stroke-width="0.4"/>
<text transform="translate(496.41,650.90) rotate(-45)" font-size="3.5" font-weight="bold" text-anchor="end" fill="#2a2a2a" textLength="9.2" lengthAdjust="spacingAndGlyphs">ARG_141</text>
<text x="4.30" y="22.80" font-size="16.5" font-weight="bold" text-anchor="start" fill="#000" >A</text>
<text x="120.30" y="23.00" font-size="16.5" font-weight="bold" text-anchor="start" fill="#000" >C</text>
<text x="241.40" y="23.30" font-size="16.5" font-weight="bold" text-anchor="start" fill="#000" >E</text>
<text x="375.40" y="23.80" font-size="16.5" font-weight="bold" text-anchor="start" fill="#000" >G</text>
<text x="5.60" y="116.60" font-size="16.5" font-weight="bold" text-anchor="start" fill="#000" >B</text>
<text x="121.00" y="116.30" font-size="16.5" font-weight="bold" text-anchor="start" fill="#000" >D</text>
<text x="241.00" y="116.90" font-size="16.5" font-weight="bold" text-anchor="start" fill="#000" >F</text>
<text x="374.80" y="116.70" font-size="16.5" font-weight="bold" text-anchor="start" fill="#000" >H</text>
<text x="7.30" y="208.00" font-size="16.5" font-weight="bold" text-anchor="start" fill="#000" >I</text>
<text x="252.60" y="207.60" font-size="16.5" font-weight="bold" text-anchor="start" fill="#000" >K</text>
<text x="5.00" y="361.20" font-size="16.5" font-weight="bold" text-anchor="start" fill="#000" >J</text>
<text x="251.40" y="363.00" font-size="16.5" font-weight="bold" text-anchor="start" fill="#000" >L</text>
<text x="-0.40" y="493.60" font-size="18" font-weight="bold" text-anchor="start" fill="#000" >M</text>
<text x="254.40" y="493.30" font-size="16.5" font-weight="bold" text-anchor="start" fill="#000" >O</text>
<text x="1.00" y="592.60" font-size="16.5" font-weight="bold" text-anchor="start" fill="#000" >N</text>
<text x="255.80" y="594.00" font-size="16.5" font-weight="bold" text-anchor="start" fill="#000" >P</text>
</svg></body></html>
